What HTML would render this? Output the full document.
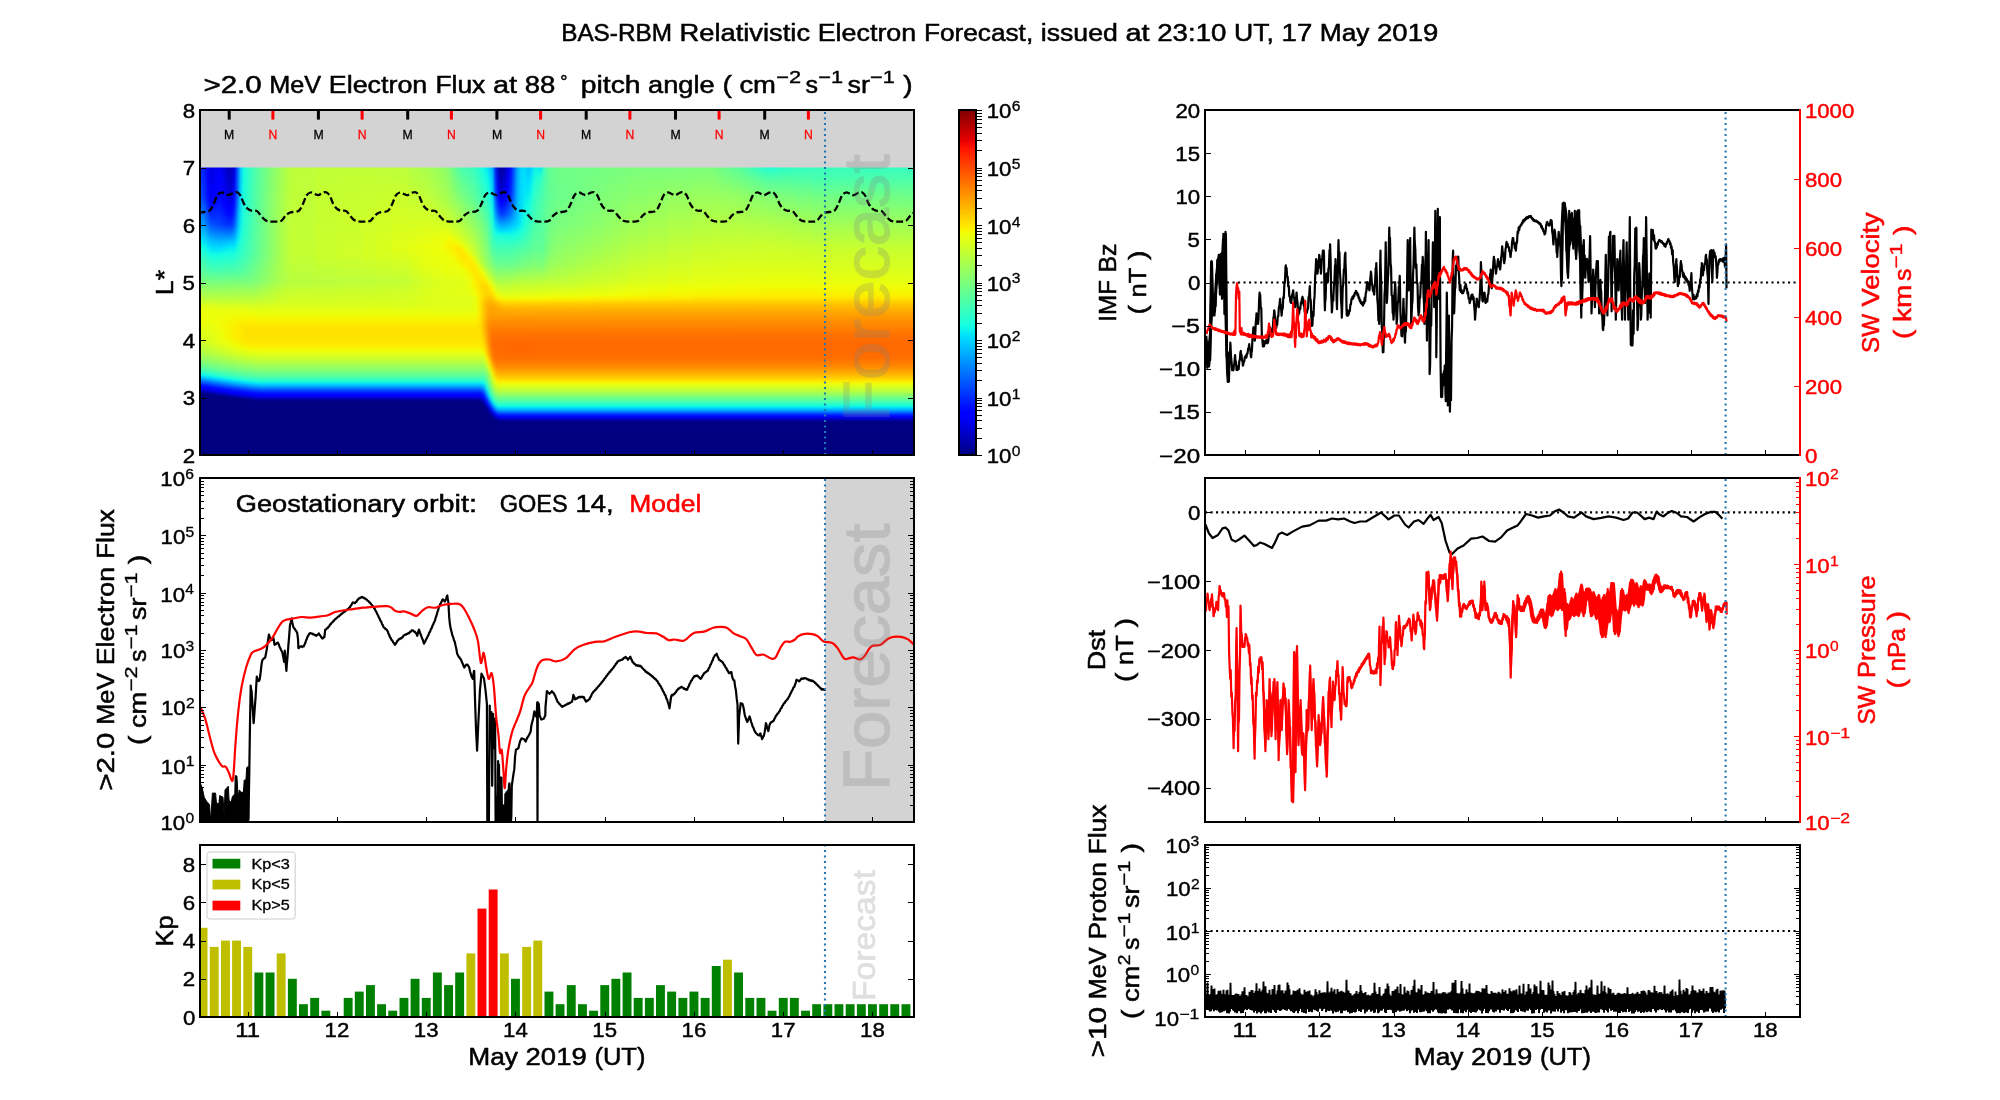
<!DOCTYPE html>
<html><head><meta charset="utf-8"><title>BAS-RBM Relativistic Electron Forecast</title>
<style>
html,body{margin:0;padding:0;background:#fff;overflow:hidden}
#fig{position:relative;width:2000px;height:1100px;background:#fff;overflow:hidden;font-family:"Liberation Sans",sans-serif}
#hm{position:absolute;left:200px;top:167px;width:714px;height:288px;overflow:hidden}
#hb{position:absolute;left:-8px;top:-8px;width:730px;height:304px;filter:blur(1.3px)}
#hb i{position:absolute;top:0;height:304px;display:block}
</style></head><body>
<div id="fig">
<div id="hm"><div id="hb"><i style="left:0px;width:11px;background:linear-gradient(#0028ff 9px,#0045ff 37.9px,#00a1ff 65.9px,#00d9ff 78.9px,#01e6f6 81.9px,#16ffe0 88.9px,#7cff7a 123.8px,#b3ff44 137.8px,#e7ff10 148.8px,#edff0a 152.7px,#effe07 159.7px,#edff0a 163.7px,#d8ff1e 180.7px,#b8ff3f 191.7px,#98ff5e 198.7px,#7eff79 203.7px,#6aff8c 206.7px,#4affad 210.6px,#36ffc1 212.6px,#1dffd9 214.6px,#10f9e7 215.6px,#02e7f6 216.6px,#00d3ff 217.6px,#00a9ff 219.6px,#0061ff 222.6px,#0035ff 224.6px,#000eff 226.6px,#0001ff 227.6px,#0000ff 228.6px,#0000f4 229.6px,#0000e1 230.6px,#00009c 232.6px,#00008c 233.6px,#000081 234.6px,#000080 295.5px)"></i>
<i style="left:11px;width:3px;background:linear-gradient(#001aff 9px,#0032ff 37.9px,#0094ff 65.9px,#00dafe 80.9px,#02e8f5 83.9px,#15ffe1 89.9px,#39ffbd 100.8px,#7cff7a 123.8px,#aeff48 136.8px,#e6ff11 148.8px,#ebff0c 151.8px,#efff08 159.7px,#eeff09 162.7px,#d8ff1f 181.7px,#b7ff40 192.7px,#96ff60 199.7px,#6eff89 206.7px,#45ffb2 211.6px,#17ffe0 215.6px,#09f0ee 216.6px,#00ddfd 217.6px,#009dff 220.6px,#006dff 222.6px,#002aff 225.6px,#0006ff 227.6px,#0000ff 228.6px,#0000fc 229.6px,#0000eb 230.6px,#0000d2 231.6px,#0000ab 232.6px,#000093 233.6px,#000086 234.6px,#000080 235.6px,#000080 295.5px)"></i>
<i style="left:14px;width:3px;background:linear-gradient(#0001fc 9px,#0005ff 23px,#000dff 37.9px,#004cff 55.9px,#0074ff 65.9px,#00d3ff 82.9px,#00ddfd 84.9px,#04e9f4 87.9px,#11fae6 91.9px,#18ffdf 93.9px,#55ffa2 112.8px,#7cff7a 123.8px,#b2ff45 137.8px,#e5ff12 148.8px,#eaff0d 151.8px,#eeff09 159.7px,#ecff0a 163.7px,#d9ff1d 181.7px,#bdff3a 191.7px,#a9ff4e 196.7px,#72ff85 206.7px,#4affad 211.6px,#36ffc1 213.6px,#1dffd9 215.6px,#10f9e7 216.6px,#02e7f6 217.6px,#00d3ff 218.6px,#00a8ff 220.6px,#0035ff 225.6px,#000eff 227.6px,#0001ff 228.6px,#0000ff 229.6px,#0000f4 230.6px,#0000e0 231.6px,#00009c 233.6px,#00008c 234.6px,#000081 235.6px,#000080 295.5px)"></i>
<i style="left:17px;width:3px;background:linear-gradient(#0000e2 9px,#0000f7 36px,#0000ff 39.9px,#0000ff 41.9px,#0005ff 44.9px,#0024ff 53.9px,#0057ff 65.9px,#00c4ff 82.9px,#00d7ff 86.9px,#00dcfe 87.9px,#03e9f4 90.9px,#11fbe5 94.8px,#18ffdf 96.8px,#4affad 111.8px,#7cff7a 123.8px,#baff3d 139.8px,#e4ff13 148.8px,#ebff0b 154.7px,#edff0a 162.7px,#daff1d 182.7px,#c3ff34 190.7px,#b4ff42 194.7px,#8dff6a 202.7px,#67ff90 208.7px,#45ffb2 212.6px,#17ffe0 216.6px,#08f0ee 217.6px,#00ddfd 218.6px,#00c8ff 219.6px,#002aff 226.6px,#0006ff 228.6px,#0000ff 229.6px,#0000fb 230.6px,#0000eb 231.6px,#0000d1 232.6px,#0000aa 233.6px,#000092 234.6px,#000085 235.6px,#000080 236.6px,#000080 295.5px)"></i>
<i style="left:20px;width:3px;background:linear-gradient(#0000e9 9px,#0000fb 32px,#0002ff 42.9px,#0027ff 54.9px,#004fff 65.9px,#00c0ff 82.9px,#00d9ff 87.9px,#01e7f6 90.9px,#10fae6 94.8px,#17ffe0 96.8px,#49ffae 111.8px,#7cff7a 123.8px,#beff39 140.8px,#e4ff13 148.8px,#ecff0b 154.7px,#efff08 162.7px,#deff19 182.7px,#c7ff30 190.7px,#b8ff3f 194.7px,#8aff6c 203.7px,#6bff8c 208.7px,#4affad 212.6px,#1dffda 216.6px,#0ff9e7 217.6px,#01e6f6 218.6px,#00d2ff 219.6px,#00a8ff 221.6px,#0034ff 226.6px,#000dff 228.6px,#0000ff 229.6px,#0000ff 230.6px,#0000f3 231.6px,#0000df 232.6px,#00009b 234.6px,#00008b 235.6px,#000081 236.6px,#000080 295.5px)"></i>
<i style="left:23px;width:3px;background:linear-gradient(#0000f3 9px,#0000fe 24px,#0000ff 38.9px,#002eff 56.9px,#0049ff 65.9px,#00bdff 82.9px,#00dcff 88.9px,#00e6f6 90.9px,#10fae6 94.8px,#17ffe0 96.8px,#49ffae 111.8px,#7cff7a 123.8px,#c2ff35 141.8px,#e7ff10 149.8px,#f0fd07 163.7px,#e8ff0f 176.7px,#e0ff17 183.7px,#d1ff26 188.7px,#b8ff3f 195.7px,#8eff69 203.7px,#6fff88 208.7px,#45ffb2 213.6px,#16ffe1 217.6px,#08efef 218.6px,#00dcfe 219.6px,#00c7ff 220.6px,#0029ff 227.6px,#0005ff 229.6px,#0000ff 230.6px,#0000fa 231.6px,#0000ea 232.6px,#0000cf 233.6px,#0000a8 234.6px,#000092 235.6px,#000085 236.6px,#000080 237.6px,#000080 295.5px)"></i>
<i style="left:26px;width:3px;background:linear-gradient(#0000fb 9px,#0000ff 15px,#0002ff 37px,#0043ff 65.9px,#00baff 82.9px,#00dbff 88.9px,#00e5f7 90.9px,#10fae6 94.8px,#17ffe0 96.8px,#49ffae 111.8px,#81ff76 124.8px,#bdff39 140.8px,#e6ff10 149.8px,#edff0a 155.7px,#f2fb05 164.7px,#eeff09 169.7px,#ebff0c 177.7px,#e4ff13 183.7px,#cbff2c 191.7px,#b7ff40 196.7px,#85ff71 205.7px,#6bff8c 209.7px,#4affad 213.6px,#35ffc2 215.6px,#1cffdb 217.6px,#0ef7e8 218.6px,#01e5f7 219.6px,#00d1ff 220.6px,#00a6ff 222.6px,#005eff 225.6px,#0032ff 227.6px,#000cff 229.6px,#0000ff 230.6px,#0000ff 231.6px,#0000f2 232.6px,#0000dd 233.6px,#0000b9 234.6px,#000099 235.6px,#00008a 236.6px,#000081 237.6px,#000080 295.5px)"></i>
<i style="left:29px;width:3px;background:linear-gradient(#0000ec 9px,#0000fb 26px,#0001ff 40.9px,#001bff 52.9px,#003aff 64.9px,#0043ff 66.9px,#00b4ff 81.9px,#00d9ff 87.9px,#03e9f4 90.9px,#16ffe1 95.8px,#4affac 111.8px,#8dff6a 127.8px,#c1ff35 141.8px,#e3ff14 148.8px,#e7ff0f 150.8px,#edff0a 155.7px,#f4f903 165.7px,#effe08 176.7px,#e6ff11 184.7px,#bfff38 195.7px,#a0ff57 201.7px,#6fff88 209.7px,#44ffb2 214.6px,#15fee2 218.6px,#06edf0 219.6px,#00daff 220.6px,#0099ff 223.6px,#0069ff 225.6px,#0027ff 228.6px,#0013ff 229.6px,#0004ff 230.6px,#0000ff 231.6px,#0000f9 232.6px,#0000e8 233.6px,#0000cb 234.6px,#0000a5 235.6px,#000090 236.6px,#000084 237.6px,#000080 238.6px,#000080 295.5px)"></i>
<i style="left:32px;width:3px;background:linear-gradient(#0000d6 9px,#0000f2 37px,#0000fd 41.9px,#0000ff 45.9px,#0002ff 47.9px,#0010ff 53.9px,#0037ff 65.9px,#00beff 82.9px,#00d8ff 86.9px,#00e4f8 88.9px,#11fbe6 93.9px,#18ffdf 95.8px,#4cffab 111.8px,#91ff66 128.8px,#c1ff36 141.8px,#e6ff11 149.8px,#efff08 156.7px,#f6f701 166.7px,#f2fb05 177.7px,#ebff0c 183.7px,#e4ff13 186.7px,#bdff39 196.7px,#8cff6b 205.7px,#6bff8c 210.6px,#49ffae 214.6px,#34ffc3 216.6px,#1bffdc 218.6px,#0df5ea 219.6px,#00e3f9 220.6px,#00ceff 221.6px,#00a3ff 223.6px,#005cff 226.6px,#0030ff 228.6px,#000aff 230.6px,#0000ff 231.6px,#0000fe 232.6px,#0000f0 233.6px,#0000da 234.6px,#0000b5 235.6px,#000097 236.6px,#000089 237.6px,#000080 238.6px,#000080 295.5px)"></i>
<i style="left:35px;width:3px;background:linear-gradient(#0000bf 9px,#0000de 37px,#0000fe 47.9px,#0000ff 51.9px,#0006ff 54.9px,#0031ff 65.9px,#00c8ff 83.9px,#00dcfe 86.9px,#03eaf3 88.9px,#14fee3 93.9px,#17ffe0 94.8px,#38ffbf 105.8px,#4dffa9 111.8px,#89ff6d 126.8px,#c1ff36 141.8px,#e6ff11 149.8px,#eeff09 155.7px,#f7f600 163.7px,#f8f400 166.7px,#f4f802 178.7px,#edff0a 184.7px,#d6ff21 191.7px,#c1ff36 196.7px,#9aff5c 203.7px,#6eff89 210.6px,#5fff98 212.6px,#43ffb4 215.6px,#20ffd6 218.6px,#13fde4 219.6px,#04ebf2 220.6px,#00d7ff 221.6px,#00adff 223.6px,#0039ff 228.6px,#0011ff 230.6px,#0002ff 231.6px,#0000ff 232.6px,#0000f7 233.6px,#0000e5 234.6px,#0000c6 235.6px,#0000a1 236.6px,#00008e 237.6px,#000083 238.6px,#000080 239.6px,#000080 295.5px)"></i>
<i style="left:38px;width:3px;background:linear-gradient(#0000b9 9px,#0000db 37px,#0000f5 44.9px,#0000fb 47.9px,#0001ff 50.9px,#0007ff 54.9px,#0036ff 65.9px,#00c5ff 82.9px,#00d9ff 85.9px,#01e6f6 87.9px,#06edf1 88.9px,#16ffe1 93.9px,#38ffbf 105.8px,#4dffa9 111.8px,#8eff69 127.8px,#c5ff32 142.8px,#e5ff11 149.8px,#eeff08 155.7px,#f7f500 162.7px,#faf200 166.7px,#f8f400 178.7px,#f2fb05 183.7px,#e8ff0e 187.7px,#c8ff2e 195.7px,#b5ff42 199.7px,#71ff85 210.6px,#47ffaf 215.6px,#19ffde 219.6px,#0bf3ec 220.6px,#00e0fb 221.6px,#00cbff 222.6px,#00a0ff 224.6px,#0058ff 227.6px,#002cff 229.6px,#0008ff 231.6px,#0000ff 232.6px,#0000fd 233.6px,#0000ed 234.6px,#0000d5 235.6px,#0000af 236.6px,#000094 237.6px,#000087 238.6px,#000080 239.6px,#000080 295.5px)"></i>
<i style="left:41px;width:3px;background:linear-gradient(#0000e4 9px,#000bfe 39.9px,#0014ff 45.9px,#002bff 53.9px,#005cff 65.9px,#00d6fe 83.9px,#00dffc 85.9px,#02e8f5 87.9px,#17ffe0 93.9px,#4fffa8 112.8px,#8eff69 127.8px,#c5ff32 142.8px,#e1ff15 148.8px,#efff08 155.7px,#f7f500 161.7px,#fdef00 167.7px,#fbf000 177.7px,#f3f903 184.7px,#ecff0b 187.7px,#cbff2b 195.7px,#b8ff3f 199.7px,#74ff82 210.6px,#4bffab 215.6px,#1effd9 219.6px,#10fae6 220.6px,#02e8f5 221.6px,#00d4ff 222.6px,#00a9ff 224.6px,#0035ff 229.6px,#000eff 231.6px,#0001ff 232.6px,#0000ff 233.6px,#0000f4 234.6px,#0000e1 235.6px,#00009c 237.6px,#00008c 238.6px,#000081 239.6px,#000080 295.5px)"></i>
<i style="left:44px;width:3px;background:linear-gradient(#0055ff 9px,#006aff 37.9px,#00aeff 65.9px,#00c8ff 72.9px,#04e6f6 80.9px,#0ff8e8 85.9px,#1affdd 89.9px,#54ffa3 112.8px,#75ff82 121.8px,#8fff68 127.8px,#c1ff35 141.8px,#e5ff12 149.8px,#eeff09 154.7px,#f5f701 159.7px,#ffec00 166.7px,#feed00 178.7px,#f7f600 184.7px,#ecff0b 188.7px,#cfff28 195.7px,#a9ff4e 202.7px,#85ff72 208.7px,#69ff8e 212.6px,#3bffbc 217.6px,#16ffe1 220.6px,#08efef 221.6px,#00dcfe 222.6px,#009bff 225.6px,#0054ff 228.6px,#0028ff 230.6px,#0005ff 232.6px,#0000ff 233.6px,#0000fa 234.6px,#0000e9 235.6px,#0000ce 236.6px,#0000a7 237.6px,#000091 238.6px,#000084 239.6px,#000080 240.6px,#000080 295.5px)"></i>
<i style="left:47px;width:3px;background:linear-gradient(#02c7fa 9px,#04d3f8 37px,#0aedf0 65.9px,#0ef3e9 70.9px,#1cfedb 80.9px,#2cffca 92.9px,#55ffa2 112.8px,#75ff82 121.8px,#93ff64 128.8px,#c1ff35 141.8px,#e5ff12 149.8px,#eeff09 154.7px,#f6f600 159.7px,#feed00 164.7px,#ffe900 167.7px,#ffeb00 180.7px,#f8f400 185.7px,#f3fa04 187.7px,#ebff0b 189.7px,#cdff2a 196.7px,#bdff39 199.7px,#9aff5d 205.7px,#6cff8b 212.6px,#3fffb8 217.6px,#1bffdc 220.6px,#0df6ea 221.6px,#00e3f9 222.6px,#00cfff 223.6px,#00a4ff 225.6px,#005cff 228.6px,#0030ff 230.6px,#000aff 232.6px,#0000ff 233.6px,#0000ff 234.6px,#0000f0 235.6px,#0000db 236.6px,#0000b5 237.6px,#000097 238.6px,#000089 239.6px,#000080 240.6px,#000080 295.5px)"></i>
<i style="left:50px;width:3px;background:linear-gradient(#12fbe4 9px,#19ffde 35px,#21ffd6 64.9px,#37ffc0 94.8px,#56ffa1 111.8px,#5cff9b 113.8px,#79ff7e 122.8px,#8fff67 127.8px,#c5ff31 142.8px,#e5ff12 149.8px,#eeff08 154.7px,#f7f500 159.7px,#feed00 163.7px,#ffe500 169.7px,#ffe600 179.7px,#ffea00 182.7px,#f7f600 187.7px,#effe08 189.7px,#eaff0c 190.7px,#c5ff31 198.7px,#8aff6d 208.7px,#5fff98 214.6px,#43ffb4 217.6px,#20ffd7 220.6px,#12fce5 221.6px,#04eaf3 222.6px,#00d6ff 223.6px,#00acff 225.6px,#0038ff 230.6px,#0010ff 232.6px,#0001ff 233.6px,#0000ff 234.6px,#0000f6 235.6px,#0000e4 236.6px,#0000c4 237.6px,#00009f 238.6px,#00008d 239.6px,#000082 240.6px,#000080 295.5px)"></i>
<i style="left:53px;width:3px;background:linear-gradient(#22ffd5 9px,#2fffc8 65.9px,#40ffb7 94.8px,#5dff9a 111.8px,#79ff7d 122.8px,#90ff67 127.8px,#c5ff31 142.8px,#e0ff16 148.8px,#e7ff10 150.8px,#efff08 154.7px,#f6f600 158.7px,#ffec00 163.7px,#ffe300 168.7px,#ffe300 179.7px,#ffeb00 184.7px,#f6f601 188.7px,#edff09 190.7px,#cdff2a 197.7px,#abff4c 203.7px,#7fff78 210.6px,#61ff95 214.6px,#3cffbb 218.6px,#17ffe0 221.6px,#09f0ee 222.6px,#00ddfd 223.6px,#00c9ff 224.6px,#002aff 231.6px,#0006ff 233.6px,#0000ff 234.6px,#0000fb 235.6px,#0000eb 236.6px,#0000d1 237.6px,#0000aa 238.6px,#000092 239.6px,#000085 240.6px,#000080 241.6px,#000080 295.5px)"></i>
<i style="left:56px;width:3px;background:linear-gradient(#32ffc5 9px,#3cffba 65.9px,#49ffae 94.8px,#64ff93 111.8px,#7dff7a 123.8px,#94ff63 128.8px,#c9ff2e 143.8px,#e4ff13 149.8px,#eeff09 154.7px,#f6f701 158.7px,#ffec00 163.7px,#ffe300 168.7px,#ffe300 179.7px,#ffea00 184.7px,#f7f500 188.7px,#efff08 190.7px,#c4ff32 199.7px,#88ff6f 209.7px,#6cff8b 213.6px,#53ffa4 216.6px,#3fffb7 218.6px,#1bffdb 221.6px,#0ef6e9 222.6px,#00e4f8 223.6px,#00cfff 224.6px,#00a4ff 226.6px,#005dff 229.6px,#0031ff 231.6px,#000bff 233.6px,#0000ff 234.6px,#0000ff 235.6px,#0000f1 236.6px,#0000db 237.6px,#0000b6 238.6px,#000097 239.6px,#000089 240.6px,#000080 241.6px,#000080 295.5px)"></i>
<i style="left:59px;width:3px;background:linear-gradient(#41ffb5 9px,#4affad 66.9px,#52ffa5 94.8px,#7dff7a 123.8px,#94ff63 128.8px,#c5ff32 142.8px,#e3ff14 149.8px,#edff09 154.7px,#f3fa03 157.7px,#f7f500 159.7px,#feed00 163.7px,#ffe300 169.7px,#ffe300 180.7px,#ffec00 185.7px,#f5f802 189.7px,#ecff0b 191.7px,#deff18 194.7px,#bbff3c 201.7px,#83ff74 210.6px,#56ffa1 216.6px,#43ffb4 218.6px,#1fffd7 221.6px,#12fce5 222.6px,#03e9f4 223.6px,#00d6ff 224.6px,#00abff 226.6px,#0037ff 231.6px,#0010ff 233.6px,#0001ff 234.6px,#0000ff 235.6px,#0000f6 236.6px,#0000e3 237.6px,#00009e 239.6px,#00008d 240.6px,#000082 241.6px,#000080 295.5px)"></i>
<i style="left:62px;width:3px;background:linear-gradient(#4dffaa 9px,#5bff9b 94.8px,#82ff75 123.8px,#94ff62 127.8px,#caff2d 143.8px,#e2ff14 149.8px,#efff08 155.7px,#f7f600 159.7px,#ffeb00 164.7px,#ffe300 169.7px,#ffe300 180.7px,#ffeb00 185.7px,#f6f701 189.7px,#edff0a 191.7px,#dbff1c 195.7px,#b7ff40 202.7px,#85ff72 210.6px,#69ff8e 214.6px,#4fffa8 217.6px,#2fffc7 220.6px,#16ffe1 222.6px,#07efef 223.6px,#00dbff 224.6px,#009bff 227.6px,#006aff 229.6px,#0028ff 232.6px,#0005ff 234.6px,#0000ff 235.6px,#0000fa 236.6px,#0000e9 237.6px,#0000cd 238.6px,#0000a7 239.6px,#000091 240.6px,#000084 241.6px,#000080 242.6px,#000080 295.5px)"></i>
<i style="left:65px;width:3px;background:linear-gradient(#58ff9f 9px,#65ff92 94.8px,#87ff70 123.8px,#9cff5b 128.8px,#c4ff32 141.8px,#e2ff15 149.8px,#eeff08 155.7px,#f6f601 159.7px,#ffec00 164.7px,#ffe300 169.7px,#ffe300 180.7px,#ffeb00 185.7px,#f7f600 189.7px,#eeff09 191.7px,#d3ff24 197.7px,#b8ff3f 202.7px,#80ff77 211.6px,#6bff8c 214.6px,#48ffaf 218.6px,#19ffde 222.6px,#0bf3ec 223.6px,#00e0fb 224.6px,#00cbff 225.6px,#002dff 232.6px,#0008ff 234.6px,#0000ff 235.6px,#0000fd 236.6px,#0000ed 237.6px,#0000d5 238.6px,#0000af 239.6px,#000095 240.6px,#000087 241.6px,#000080 242.6px,#000080 295.5px)"></i>
<i style="left:68px;width:3px;background:linear-gradient(#63ff94 9px,#6eff89 94.8px,#8cff6a 123.8px,#9dff5a 127.8px,#c9ff2e 142.8px,#e2ff15 149.8px,#eeff09 155.7px,#f6f701 159.7px,#ffec00 164.7px,#ffe300 169.7px,#ffe300 180.7px,#ffed00 186.7px,#f7f500 189.7px,#efff08 191.7px,#cfff28 198.7px,#a7ff50 205.7px,#7aff7c 212.6px,#64ff93 215.6px,#3fffb7 219.6px,#1bffdc 222.6px,#0df6e9 223.6px,#00e3f8 224.6px,#00cfff 225.6px,#00a4ff 227.6px,#0030ff 232.6px,#000bff 234.6px,#0000ff 235.6px,#0000ff 236.6px,#0000f0 237.6px,#0000db 238.6px,#0000b5 239.6px,#000097 240.6px,#000089 241.6px,#000080 242.6px,#000080 295.5px)"></i>
<i style="left:71px;width:3px;background:linear-gradient(#6eff89 9px,#76ff81 66.9px,#77ff80 94.8px,#92ff65 123.8px,#a5ff52 128.8px,#cdff2a 143.8px,#e2ff15 149.8px,#eeff09 155.7px,#f6f701 159.7px,#ffec00 164.7px,#ffe300 169.7px,#ffe300 180.7px,#ffed00 186.7px,#f7f500 189.7px,#efff08 191.7px,#d8ff1e 196.7px,#bfff38 201.7px,#81ff75 211.6px,#6cff8b 214.6px,#4affad 218.6px,#1bffdb 222.6px,#0ef6e9 223.6px,#00e4f8 224.6px,#00cfff 225.6px,#00a4ff 227.6px,#005dff 230.6px,#001cff 233.6px,#000bff 234.6px,#0000ff 235.6px,#0000ff 236.6px,#0000f1 237.6px,#0000dc 238.6px,#0000b6 239.6px,#000098 240.6px,#000089 241.6px,#000080 242.6px,#000080 295.5px)"></i>
<i style="left:74px;width:3px;background:linear-gradient(#78ff7f 9px,#7fff77 61.9px,#80ff77 94.8px,#82ff74 97.8px,#97ff60 123.8px,#acff4b 129.8px,#d1ff26 144.8px,#e2ff15 149.8px,#eeff09 155.7px,#f6f701 159.7px,#ffec00 164.7px,#ffe300 169.7px,#ffe300 180.7px,#ffed00 186.7px,#f7f500 189.7px,#efff08 191.7px,#d8ff1e 196.7px,#bfff38 201.7px,#81ff75 211.6px,#6cff8b 214.6px,#4affad 218.6px,#1bffdb 222.6px,#0ef6e9 223.6px,#00e4f8 224.6px,#00cfff 225.6px,#00a4ff 227.6px,#005dff 230.6px,#001cff 233.6px,#000bff 234.6px,#0000ff 235.6px,#0000ff 236.6px,#0000f1 237.6px,#0000dc 238.6px,#0000b6 239.6px,#000098 240.6px,#000089 241.6px,#000080 242.6px,#000080 295.5px)"></i>
<i style="left:77px;width:3px;background:linear-gradient(#81ff76 9px,#89ff6e 61.9px,#89ff6e 94.8px,#99ff5d 119.8px,#9cff5b 123.8px,#b0ff47 129.8px,#cdff2a 142.8px,#e2ff15 149.8px,#eeff09 155.7px,#f6f701 159.7px,#ffec00 164.7px,#ffe300 169.7px,#ffe300 180.7px,#ffed00 186.7px,#f7f500 189.7px,#efff08 191.7px,#d8ff1e 196.7px,#bfff38 201.7px,#81ff75 211.6px,#6cff8b 214.6px,#4affad 218.6px,#1bffdb 222.6px,#0ef6e9 223.6px,#00e4f8 224.6px,#00cfff 225.6px,#00a4ff 227.6px,#005dff 230.6px,#001cff 233.6px,#000bff 234.6px,#0000ff 235.6px,#0000ff 236.6px,#0000f1 237.6px,#0000dc 238.6px,#0000b6 239.6px,#000098 240.6px,#000089 241.6px,#000080 242.6px,#000080 295.5px)"></i>
<i style="left:80px;width:3px;background:linear-gradient(#8aff6c 9px,#92ff64 65.9px,#93ff64 95.8px,#a0ff57 121.8px,#a1ff55 123.8px,#b1ff46 128.8px,#d0ff26 143.8px,#e2ff15 149.8px,#eeff09 155.7px,#f6f701 159.7px,#ffec00 164.7px,#ffe300 169.7px,#ffe300 180.7px,#ffed00 186.7px,#f7f500 189.7px,#efff08 191.7px,#d8ff1e 196.7px,#bfff38 201.7px,#81ff75 211.6px,#6cff8b 214.6px,#4affad 218.6px,#1bffdb 222.6px,#0ef6e9 223.6px,#00e4f8 224.6px,#00cfff 225.6px,#00a4ff 227.6px,#005dff 230.6px,#001cff 233.6px,#000bff 234.6px,#0000ff 235.6px,#0000ff 236.6px,#0000f1 237.6px,#0000dc 238.6px,#0000b6 239.6px,#000098 240.6px,#000089 241.6px,#000080 242.6px,#000080 295.5px)"></i>
<i style="left:83px;width:3px;background:linear-gradient(#94ff63 9px,#9bff5b 63.9px,#9cff5b 95.8px,#a6ff50 123.8px,#b8ff3f 129.8px,#d4ff23 144.8px,#e2ff15 149.8px,#eeff09 155.7px,#f6f701 159.7px,#ffec00 164.7px,#ffe300 169.7px,#ffe300 180.7px,#ffed00 186.7px,#f7f500 189.7px,#efff08 191.7px,#d8ff1e 196.7px,#bfff38 201.7px,#81ff75 211.6px,#6cff8b 214.6px,#4affad 218.6px,#1bffdb 222.6px,#0ef6e9 223.6px,#00e4f8 224.6px,#00cfff 225.6px,#00a4ff 227.6px,#005dff 230.6px,#001cff 233.6px,#000bff 234.6px,#0000ff 235.6px,#0000ff 236.6px,#0000f1 237.6px,#0000dc 238.6px,#0000b6 239.6px,#000098 240.6px,#000089 241.6px,#000080 242.6px,#000080 295.5px)"></i>
<i style="left:86px;width:3px;background:linear-gradient(#9cff5a 9px,#a4ff52 64.9px,#a5ff52 94.8px,#aaff4d 122.8px,#bdff3a 130.8px,#d7ff20 145.8px,#eeff09 155.7px,#f6f701 159.7px,#ffec00 164.7px,#ffe300 169.7px,#ffe300 180.7px,#ffed00 186.7px,#f7f500 189.7px,#efff08 191.7px,#d8ff1e 196.7px,#bfff38 201.7px,#81ff75 211.6px,#6cff8b 214.6px,#4affad 218.6px,#1bffdb 222.6px,#0ef6e9 223.6px,#00e4f8 224.6px,#00cfff 225.6px,#00a4ff 227.6px,#005dff 230.6px,#001cff 233.6px,#000bff 234.6px,#0000ff 235.6px,#0000ff 236.6px,#0000f1 237.6px,#0000dc 238.6px,#0000b6 239.6px,#000098 240.6px,#000089 241.6px,#000080 242.6px,#000080 295.5px)"></i>
<i style="left:89px;width:3px;background:linear-gradient(#a5ff52 9px,#adff4a 64.9px,#aeff49 123.8px,#bcff3b 128.8px,#d5ff22 144.8px,#eeff09 155.7px,#f6f701 159.7px,#ffec00 164.7px,#ffe300 169.7px,#ffe300 180.7px,#ffed00 186.7px,#f7f500 189.7px,#efff08 191.7px,#d8ff1e 196.7px,#bfff38 201.7px,#81ff75 211.6px,#6cff8b 214.6px,#4affad 218.6px,#1bffdb 222.6px,#0ef6e9 223.6px,#00e4f8 224.6px,#00cfff 225.6px,#00a4ff 227.6px,#005dff 230.6px,#001cff 233.6px,#000bff 234.6px,#0000ff 235.6px,#0000ff 236.6px,#0000f1 237.6px,#0000dc 238.6px,#0000b6 239.6px,#000098 240.6px,#000089 241.6px,#000080 242.6px,#000080 295.5px)"></i>
<i style="left:92px;width:3px;background:linear-gradient(#adff4a 9px,#b5ff42 64.9px,#b2ff45 123.8px,#beff38 128.8px,#d6ff21 144.8px,#eeff09 155.7px,#f6f701 159.7px,#ffec00 164.7px,#ffe300 169.7px,#ffe300 180.7px,#ffed00 186.7px,#f7f500 189.7px,#f3fa03 190.7px,#efff08 191.7px,#caff2d 199.7px,#9aff5c 207.7px,#7bff7c 212.6px,#5cff9b 216.6px,#3fffb7 219.6px,#1bffdb 222.6px,#0ef6e9 223.6px,#00e4f8 224.6px,#00cfff 225.6px,#00a4ff 227.6px,#005dff 230.6px,#001cff 233.6px,#000bff 234.6px,#0000ff 235.6px,#0000ff 236.6px,#0000f1 237.6px,#0000dc 238.6px,#0000b6 239.6px,#000098 240.6px,#000089 241.6px,#000080 242.6px,#000080 295.5px)"></i>
<i style="left:95px;width:3px;background:linear-gradient(#b5ff42 9px,#bdff3a 65.9px,#bdff3a 94.8px,#b5ff42 123.8px,#bfff37 127.8px,#d8ff1f 145.8px,#eeff09 155.7px,#f6f701 159.7px,#ffec00 164.7px,#ffe300 169.7px,#ffe300 180.7px,#ffed00 186.7px,#f7f500 189.7px,#f3fa03 190.7px,#efff08 191.7px,#caff2d 199.7px,#9aff5c 207.7px,#7bff7c 212.6px,#5cff9b 216.6px,#3fffb7 219.6px,#1bffdb 222.6px,#0ef6e9 223.6px,#00e4f8 224.6px,#00cfff 225.6px,#00a4ff 227.6px,#005dff 230.6px,#001cff 233.6px,#000bff 234.6px,#0000ff 235.6px,#0000ff 236.6px,#0000f1 237.6px,#0000dc 238.6px,#0000b6 239.6px,#000098 240.6px,#000089 241.6px,#000080 242.6px,#000080 295.5px)"></i>
<i style="left:98px;width:24px;background:linear-gradient(#bcff3a 9px,#c4ff32 94.8px,#b8ff3f 123.8px,#c3ff34 128.8px,#d9ff1e 145.8px,#eeff09 155.7px,#f6f701 159.7px,#ffec00 164.7px,#ffe300 169.7px,#ffe300 180.7px,#ffed00 186.7px,#f7f500 189.7px,#f3fa03 190.7px,#efff08 191.7px,#caff2d 199.7px,#9aff5c 207.7px,#7bff7c 212.6px,#5cff9b 216.6px,#3fffb7 219.6px,#1bffdb 222.6px,#0ef6e9 223.6px,#00e4f8 224.6px,#00cfff 225.6px,#00a4ff 227.6px,#005dff 230.6px,#001cff 233.6px,#000bff 234.6px,#0000ff 235.6px,#0000ff 236.6px,#0000f1 237.6px,#0000dc 238.6px,#0000b6 239.6px,#000098 240.6px,#000089 241.6px,#000080 242.6px,#000080 295.5px)"></i>
<i style="left:122px;width:24px;background:linear-gradient(#c1ff35 9px,#caff2c 94.8px,#baff3d 123.8px,#c6ff30 129.8px,#d7ff20 144.8px,#eeff09 155.7px,#f8f500 160.7px,#ffec00 164.7px,#ffe300 169.7px,#ffe300 180.7px,#ffed00 186.7px,#f7f500 189.7px,#f3fa03 190.7px,#efff08 191.7px,#caff2d 199.7px,#9aff5c 207.7px,#7bff7c 212.6px,#5cff9b 216.6px,#3fffb7 219.6px,#1bffdb 222.6px,#0ef6e9 223.6px,#00e4f8 224.6px,#00cfff 225.6px,#00a4ff 227.6px,#005dff 230.6px,#001cff 233.6px,#000bff 234.6px,#0000ff 235.6px,#0000ff 236.6px,#0000f1 237.6px,#0000dc 238.6px,#0000b6 239.6px,#000098 240.6px,#000089 241.6px,#000080 242.6px,#000080 295.5px)"></i>
<i style="left:146px;width:24px;background:linear-gradient(#c1ff35 9px,#cfff28 94.8px,#bcff3b 123.8px,#c8ff2f 129.8px,#d9ff1e 145.8px,#eeff09 155.7px,#f8f500 160.7px,#ffec00 164.7px,#ffe300 169.7px,#ffe300 180.7px,#ffed00 186.7px,#f7f500 189.7px,#f3fa03 190.7px,#efff08 191.7px,#caff2d 199.7px,#9aff5c 207.7px,#7bff7c 212.6px,#5cff9b 216.6px,#3fffb7 219.6px,#1bffdb 222.6px,#0ef6e9 223.6px,#00e4f8 224.6px,#00cfff 225.6px,#00a4ff 227.6px,#005dff 230.6px,#001cff 233.6px,#000bff 234.6px,#0000ff 235.6px,#0000ff 236.6px,#0000f1 237.6px,#0000dc 238.6px,#0000b6 239.6px,#000098 240.6px,#000089 241.6px,#000080 242.6px,#000080 295.5px)"></i>
<i style="left:170px;width:15px;background:linear-gradient(#c1ff36 9px,#d4ff23 88.9px,#d4ff23 94.8px,#beff39 123.8px,#c8ff2e 128.8px,#d9ff1d 145.8px,#eeff09 155.7px,#f8f500 160.7px,#ffec00 164.7px,#ffe300 169.7px,#ffe300 180.7px,#ffed00 186.7px,#f7f500 189.7px,#f3fa03 190.7px,#efff08 191.7px,#caff2d 199.7px,#9aff5c 207.7px,#7bff7c 212.6px,#5cff9b 216.6px,#3fffb7 219.6px,#1bffdb 222.6px,#0ef6e9 223.6px,#00e4f8 224.6px,#00cfff 225.6px,#00a4ff 227.6px,#005dff 230.6px,#001cff 233.6px,#000bff 234.6px,#0000ff 235.6px,#0000ff 236.6px,#0000f1 237.6px,#0000dc 238.6px,#0000b6 239.6px,#000098 240.6px,#000089 241.6px,#000080 242.6px,#000080 295.5px)"></i>
<i style="left:185px;width:15px;background:linear-gradient(#bfff38 9px,#daff1c 88.9px,#d8ff1f 94.8px,#c0ff37 123.8px,#caff2d 128.8px,#d8ff1e 144.8px,#eeff09 155.7px,#f8f500 160.7px,#ffec00 164.7px,#ffe300 169.7px,#ffe300 180.7px,#ffed00 186.7px,#f7f500 189.7px,#f3fa03 190.7px,#efff08 191.7px,#caff2d 199.7px,#9aff5c 207.7px,#7bff7c 212.6px,#5cff9b 216.6px,#3fffb7 219.6px,#1bffdb 222.6px,#0ef6e9 223.6px,#00e4f8 224.6px,#00cfff 225.6px,#00a4ff 227.6px,#005dff 230.6px,#001cff 233.6px,#000bff 234.6px,#0000ff 235.6px,#0000ff 236.6px,#0000f1 237.6px,#0000dc 238.6px,#0000b6 239.6px,#000098 240.6px,#000089 241.6px,#000080 242.6px,#000080 295.5px)"></i>
<i style="left:200px;width:15px;background:linear-gradient(#bdff3a 9px,#e1ff16 88.9px,#c1ff35 123.8px,#ccff2a 129.8px,#dbff1b 146.8px,#eeff09 155.7px,#f8f500 160.7px,#ffec00 164.7px,#ffe300 169.7px,#ffe300 180.7px,#ffed00 186.7px,#f7f500 189.7px,#f3fa03 190.7px,#efff08 191.7px,#caff2d 199.7px,#9aff5c 207.7px,#7bff7c 212.6px,#5cff9b 216.6px,#3fffb7 219.6px,#1bffdb 222.6px,#0ef6e9 223.6px,#00e4f8 224.6px,#00cfff 225.6px,#00a4ff 227.6px,#005dff 230.6px,#001cff 233.6px,#000bff 234.6px,#0000ff 235.6px,#0000ff 236.6px,#0000f1 237.6px,#0000dc 238.6px,#0000b6 239.6px,#000098 240.6px,#000089 241.6px,#000080 242.6px,#000080 295.5px)"></i>
<i style="left:215px;width:6px;background:linear-gradient(#b6ff40 9px,#e4ff12 88.9px,#c7ff30 123.8px,#d0ff26 129.8px,#dcff1b 146.8px,#eeff09 155.7px,#f8f500 160.7px,#ffec00 164.7px,#ffe300 169.7px,#ffe300 180.7px,#ffed00 186.7px,#f7f500 189.7px,#f3fa03 190.7px,#efff08 191.7px,#caff2d 199.7px,#9aff5c 207.7px,#7bff7c 212.6px,#5cff9b 216.6px,#3fffb7 219.6px,#1bffdb 222.6px,#0ef6e9 223.6px,#00e4f8 224.6px,#00cfff 225.6px,#00a4ff 227.6px,#005dff 230.6px,#001cff 233.6px,#000bff 234.6px,#0000ff 235.6px,#0000ff 236.6px,#0000f1 237.6px,#0000dc 238.6px,#0000b6 239.6px,#000098 240.6px,#000089 241.6px,#000080 242.6px,#000080 295.5px)"></i>
<i style="left:221px;width:6px;background:linear-gradient(#b1ff46 9px,#e6ff11 88.9px,#daff1c 107.8px,#ccff2b 123.8px,#d3ff24 128.8px,#dbff1c 145.8px,#eeff09 155.7px,#f6f701 159.7px,#ffec00 164.7px,#ffe300 169.7px,#ffe300 180.7px,#ffed00 186.7px,#f7f500 189.7px,#f3fa03 190.7px,#efff08 191.7px,#caff2d 199.7px,#9aff5c 207.7px,#7bff7c 212.6px,#5cff9b 216.6px,#3fffb7 219.6px,#1bffdb 222.6px,#0ef6e9 223.6px,#00e4f8 224.6px,#00cfff 225.6px,#00a4ff 227.6px,#005dff 230.6px,#001cff 233.6px,#000bff 234.6px,#0000ff 235.6px,#0000ff 236.6px,#0000f1 237.6px,#0000dc 238.6px,#0000b6 239.6px,#000098 240.6px,#000089 241.6px,#000080 242.6px,#000080 295.5px)"></i>
<i style="left:227px;width:6px;background:linear-gradient(#acff4b 9px,#d9ff1e 65.9px,#e8ff0f 88.9px,#e0ff16 105.8px,#d0ff27 123.8px,#d7ff20 129.8px,#dcff1b 145.8px,#eeff09 155.7px,#f6f701 159.7px,#ffec00 164.7px,#ffe300 169.7px,#ffe300 180.7px,#ffed00 186.7px,#f7f500 189.7px,#f3fa03 190.7px,#efff08 191.7px,#caff2d 199.7px,#9aff5c 207.7px,#7bff7c 212.6px,#5cff9b 216.6px,#3fffb7 219.6px,#1bffdb 222.6px,#0ef6e9 223.6px,#00e4f8 224.6px,#00cfff 225.6px,#00a4ff 227.6px,#005dff 230.6px,#001cff 233.6px,#000bff 234.6px,#0000ff 235.6px,#0000ff 236.6px,#0000f1 237.6px,#0000dc 238.6px,#0000b6 239.6px,#000098 240.6px,#000089 241.6px,#000080 242.6px,#000080 295.5px)"></i>
<i style="left:233px;width:6px;background:linear-gradient(#a6ff50 9px,#beff39 37px,#ddff1a 69.9px,#eaff0d 88.9px,#e5ff12 105.8px,#d4ff22 123.8px,#daff1c 128.8px,#ddff19 146.8px,#eeff09 155.7px,#f6f701 159.7px,#ffec00 164.7px,#ffe300 169.7px,#ffe300 180.7px,#ffed00 186.7px,#f7f500 189.7px,#efff08 191.7px,#d8ff1e 196.7px,#bfff38 201.7px,#81ff75 211.6px,#6cff8b 214.6px,#4affad 218.6px,#1bffdb 222.6px,#0ef6e9 223.6px,#00e4f8 224.6px,#00cfff 225.6px,#00a4ff 227.6px,#005dff 230.6px,#001cff 233.6px,#000bff 234.6px,#0000ff 235.6px,#0000ff 236.6px,#0000f1 237.6px,#0000dc 238.6px,#0000b6 239.6px,#000098 240.6px,#000089 241.6px,#000080 242.6px,#000080 295.5px)"></i>
<i style="left:239px;width:3px;background:linear-gradient(#a1ff56 9px,#b9ff3e 37px,#e2ff15 73.9px,#ebff0c 88.9px,#e7ff10 106.8px,#d7ff20 123.8px,#ddff1a 130.8px,#ddff1a 145.8px,#e0ff17 148.8px,#eeff09 155.7px,#f6f701 159.7px,#ffec00 164.7px,#ffe300 169.7px,#ffe300 180.7px,#ffed00 186.7px,#f7f500 189.7px,#efff08 191.7px,#d8ff1e 196.7px,#bfff38 201.7px,#81ff75 211.6px,#6cff8b 214.6px,#4affad 218.6px,#1bffdb 222.6px,#0ef6e9 223.6px,#00e4f8 224.6px,#00cfff 225.6px,#00a4ff 227.6px,#005dff 230.6px,#001cff 233.6px,#000bff 234.6px,#0000ff 235.6px,#0000ff 236.6px,#0000f1 237.6px,#0000dc 238.6px,#0000b6 239.6px,#000098 240.6px,#000089 241.6px,#000080 242.6px,#000080 295.5px)"></i>
<i style="left:242px;width:3px;background:linear-gradient(#9dff5a 9px,#b6ff41 37.9px,#e4ff13 75.9px,#ebff0c 87.9px,#e8ff0f 105.8px,#d8ff1e 123.8px,#deff19 128.8px,#ddff1a 145.8px,#e0ff17 148.8px,#eeff09 155.7px,#f6f701 159.7px,#ffec00 164.7px,#ffe300 169.7px,#ffe300 180.7px,#ffed00 186.7px,#f7f500 189.7px,#efff08 191.7px,#d8ff1e 196.7px,#bfff38 201.7px,#81ff75 211.6px,#6cff8b 214.6px,#4affad 218.6px,#1bffdb 222.6px,#0ef6e9 223.6px,#00e4f8 224.6px,#00cfff 225.6px,#00a4ff 227.6px,#005dff 230.6px,#001cff 233.6px,#000bff 234.6px,#0000ff 235.6px,#0000ff 236.6px,#0000f1 237.6px,#0000dc 238.6px,#0000b6 239.6px,#000098 240.6px,#000089 241.6px,#000080 242.6px,#000080 295.5px)"></i>
<i style="left:245px;width:3px;background:linear-gradient(#98ff5e 9px,#b1ff45 37.9px,#d6ff21 65.9px,#e5ff12 74.9px,#e9ff0e 79.9px,#ecff0a 88.9px,#e7ff10 108.8px,#daff1d 123.8px,#dfff18 129.8px,#ddff19 145.8px,#e0ff17 148.8px,#eeff09 155.7px,#f6f701 159.7px,#ffec00 164.7px,#ffe300 169.7px,#ffe300 180.7px,#ffed00 186.7px,#f7f500 189.7px,#efff08 191.7px,#d8ff1e 196.7px,#bfff38 201.7px,#81ff75 211.6px,#6cff8b 214.6px,#4affad 218.6px,#1bffdb 222.6px,#0ef6e9 223.6px,#00e4f8 224.6px,#00cfff 225.6px,#00a4ff 227.6px,#005dff 230.6px,#001cff 233.6px,#000bff 234.6px,#0000ff 235.6px,#0000ff 236.6px,#0000f1 237.6px,#0000dc 238.6px,#0000b6 239.6px,#000098 240.6px,#000089 241.6px,#000080 242.6px,#000080 295.5px)"></i>
<i style="left:248px;width:3px;background:linear-gradient(#94ff63 9px,#adff4a 37.9px,#d3ff24 64.9px,#e6ff10 74.9px,#ecff0a 80.9px,#efff08 88.9px,#e8ff0f 109.8px,#dbff1b 123.8px,#e0ff17 128.8px,#ddff19 144.8px,#e0ff17 148.8px,#eeff09 155.7px,#f6f701 159.7px,#ffec00 164.7px,#ffe300 169.7px,#ffe300 180.7px,#ffed00 186.7px,#f7f500 189.7px,#efff08 191.7px,#d8ff1e 196.7px,#bfff38 201.7px,#81ff75 211.6px,#6cff8b 214.6px,#4affad 218.6px,#1bffdb 222.6px,#0ef6e9 223.6px,#00e4f8 224.6px,#00cfff 225.6px,#00a4ff 227.6px,#005dff 230.6px,#001cff 233.6px,#000bff 234.6px,#0000ff 235.6px,#0000ff 236.6px,#0000f1 237.6px,#0000dc 238.6px,#0000b6 239.6px,#000098 240.6px,#000089 241.6px,#000080 242.6px,#000080 295.5px)"></i>
<i style="left:251px;width:3px;background:linear-gradient(#90ff67 9px,#a9ff4e 37.9px,#d3ff24 65.9px,#ebff0c 76.9px,#f1fc06 82.9px,#f2fb05 88.9px,#eeff09 93.9px,#e9ff0e 111.8px,#ddff1a 123.8px,#e1ff16 128.8px,#ddff19 143.8px,#e0ff17 148.8px,#eeff09 155.7px,#f6f701 159.7px,#ffec00 164.7px,#ffe300 169.7px,#ffe300 180.7px,#ffed00 186.7px,#f7f500 189.7px,#efff08 191.7px,#d8ff1e 196.7px,#bfff38 201.7px,#81ff75 211.6px,#6cff8b 214.6px,#4affad 218.6px,#1bffdb 222.6px,#0ef6e9 223.6px,#00e4f8 224.6px,#00cfff 225.6px,#00a4ff 227.6px,#005dff 230.6px,#001cff 233.6px,#000bff 234.6px,#0000ff 235.6px,#0000ff 236.6px,#0000f1 237.6px,#0000dc 238.6px,#0000b6 239.6px,#000098 240.6px,#000089 241.6px,#000080 242.6px,#000080 295.5px)"></i>
<i style="left:254px;width:3px;background:linear-gradient(#89ff6e 9px,#a4ff53 37.9px,#d0ff26 65.9px,#eeff09 77.9px,#f5f701 83.9px,#f7f601 88.9px,#eeff09 96.8px,#eaff0c 111.8px,#deff19 123.8px,#e2ff15 127.8px,#deff18 146.8px,#e0ff17 148.8px,#eeff09 155.7px,#f6f701 159.7px,#ffec00 164.7px,#ffe300 169.7px,#ffe300 180.7px,#ffed00 186.7px,#f7f500 189.7px,#efff08 191.7px,#d8ff1e 196.7px,#bfff38 201.7px,#81ff75 211.6px,#6cff8b 214.6px,#4affad 218.6px,#1bffdb 222.6px,#0ef6e9 223.6px,#00e4f8 224.6px,#00cfff 225.6px,#00a4ff 227.6px,#005dff 230.6px,#001cff 233.6px,#000bff 234.6px,#0000ff 235.6px,#0000ff 236.6px,#0000f1 237.6px,#0000dc 238.6px,#0000b6 239.6px,#000098 240.6px,#000089 241.6px,#000080 242.6px,#000080 295.5px)"></i>
<i style="left:257px;width:3px;background:linear-gradient(#7cff7b 9px,#9bff5c 37.9px,#cdff29 66.9px,#d9ff1e 71.9px,#eeff09 78.9px,#f7f500 83.9px,#fbf100 88.9px,#f6f701 92.9px,#effe08 98.8px,#e9ff0e 111.8px,#deff19 123.8px,#e2ff15 127.8px,#deff18 146.8px,#e0ff17 148.8px,#eeff09 155.7px,#f6f701 159.7px,#ffec00 164.7px,#ffe300 169.7px,#ffe300 180.7px,#ffed00 186.7px,#f7f500 189.7px,#efff08 191.7px,#d8ff1e 196.7px,#bfff38 201.7px,#81ff75 211.6px,#6cff8b 214.6px,#4affad 218.6px,#1bffdb 222.6px,#0ef6e9 223.6px,#00e4f8 224.6px,#00cfff 225.6px,#00a4ff 227.6px,#005dff 230.6px,#001cff 233.6px,#000bff 234.6px,#0000ff 235.6px,#0000ff 236.6px,#0000f1 237.6px,#0000dc 238.6px,#0000b6 239.6px,#000098 240.6px,#000089 241.6px,#000080 242.6px,#000080 295.5px)"></i>
<i style="left:260px;width:3px;background:linear-gradient(#6eff89 9px,#92ff64 37.9px,#d2ff25 71.9px,#edff0a 79.9px,#f7f500 83.9px,#feee00 87.9px,#fcef00 91.9px,#f6f601 95.8px,#edff09 103.8px,#deff19 123.8px,#e2ff15 127.8px,#deff18 146.8px,#e0ff17 148.8px,#eeff09 155.7px,#f6f701 159.7px,#ffec00 164.7px,#ffe300 169.7px,#ffe300 180.7px,#ffed00 186.7px,#f7f500 189.7px,#efff08 191.7px,#d8ff1e 196.7px,#bfff38 201.7px,#81ff75 211.6px,#6cff8b 214.6px,#4affad 218.6px,#1bffdb 222.6px,#0ef6e9 223.6px,#00e4f8 224.6px,#00cfff 225.6px,#00a4ff 227.6px,#005dff 230.6px,#001cff 233.6px,#000bff 234.6px,#0000ff 235.6px,#0000ff 236.6px,#0000f1 237.6px,#0000dc 238.6px,#0000b6 239.6px,#000098 240.6px,#000089 241.6px,#000080 242.6px,#000080 295.5px)"></i>
<i style="left:263px;width:3px;background:linear-gradient(#60ff97 9px,#88ff6f 37px,#cbff2b 71.9px,#d6ff21 75.9px,#edff0a 81.9px,#f8f500 84.9px,#ffec00 87.9px,#ffe900 89.9px,#feec00 93.9px,#f6f701 100.8px,#eeff09 105.8px,#deff18 123.8px,#e2ff15 127.8px,#e2ff15 132.8px,#deff18 140.8px,#dfff18 147.8px,#eeff09 155.7px,#f6f701 159.7px,#ffec00 164.7px,#ffe300 169.7px,#ffe300 180.7px,#ffed00 186.7px,#f7f500 189.7px,#efff08 191.7px,#d8ff1e 196.7px,#bfff38 201.7px,#81ff75 211.6px,#6cff8b 214.6px,#4affad 218.6px,#1bffdb 222.6px,#0ef6e9 223.6px,#00e4f8 224.6px,#00cfff 225.6px,#00a4ff 227.6px,#005dff 230.6px,#001cff 233.6px,#000bff 234.6px,#0000ff 235.6px,#0000ff 236.6px,#0000f1 237.6px,#0000dc 238.6px,#0000b6 239.6px,#000098 240.6px,#000089 241.6px,#000080 242.6px,#000080 295.5px)"></i>
<i style="left:266px;width:3px;background:linear-gradient(#51ffa5 9px,#7fff78 37px,#caff2d 73.9px,#d8ff1f 78.9px,#ecff0a 83.9px,#f9f200 86.9px,#ffea00 88.9px,#ffe600 92.9px,#ffe800 95.8px,#fdef00 100.8px,#f9f300 102.8px,#eeff09 108.8px,#dfff17 123.8px,#e3ff14 128.8px,#deff19 141.8px,#e0ff17 148.8px,#eeff09 155.7px,#f6f701 159.7px,#ffec00 164.7px,#ffe300 169.7px,#ffe300 180.7px,#ffed00 186.7px,#f7f500 189.7px,#efff08 191.7px,#d8ff1e 196.7px,#bfff38 201.7px,#81ff75 211.6px,#6cff8b 214.6px,#4affad 218.6px,#1bffdb 222.6px,#0ef6e9 223.6px,#00e4f8 224.6px,#00cfff 225.6px,#00a4ff 227.6px,#005dff 230.6px,#001cff 233.6px,#000bff 234.6px,#0000ff 235.6px,#0000ff 236.6px,#0000f1 237.6px,#0000dc 238.6px,#0000b6 239.6px,#000098 240.6px,#000089 241.6px,#000080 242.6px,#000080 295.5px)"></i>
<i style="left:269px;width:3px;background:linear-gradient(#49ffae 9px,#79ff7e 37.9px,#c7ff2f 75.9px,#d8ff1f 81.9px,#e9ff0e 85.9px,#f8f401 88.9px,#feec00 90.9px,#ffe600 94.8px,#ffe800 99.8px,#feed00 102.8px,#f8f400 105.8px,#eeff09 110.8px,#e0ff16 123.8px,#e3ff14 130.8px,#deff19 141.8px,#deff18 146.8px,#e0ff17 148.8px,#eeff09 155.7px,#f6f701 159.7px,#ffec00 164.7px,#ffe300 169.7px,#ffe300 180.7px,#ffed00 186.7px,#f7f500 189.7px,#efff08 191.7px,#d8ff1e 196.7px,#bfff38 201.7px,#81ff75 211.6px,#6cff8b 214.6px,#4affad 218.6px,#1bffdb 222.6px,#0ef6e9 223.6px,#00e4f8 224.6px,#00cfff 225.6px,#00a4ff 227.6px,#005dff 230.6px,#001cff 233.6px,#000bff 234.6px,#0000ff 235.6px,#0000ff 236.6px,#0000f1 237.6px,#0000dc 238.6px,#0000b6 239.6px,#000098 240.6px,#000089 241.6px,#000080 242.6px,#000080 295.5px)"></i>
<i style="left:272px;width:3px;background:linear-gradient(#45ffb2 9px,#71ff85 37.9px,#c5ff32 78.9px,#d2ff24 83.9px,#e8ff0f 88.9px,#f5f703 91.9px,#feed00 94.8px,#ffe800 97.8px,#ffe800 101.8px,#feed00 104.8px,#f7f601 108.8px,#effe08 112.8px,#e2ff15 124.8px,#e4ff13 128.8px,#deff19 145.8px,#e0ff17 148.8px,#eeff09 155.7px,#f6f701 159.7px,#ffec00 164.7px,#ffe300 169.7px,#ffe300 180.7px,#ffed00 186.7px,#f7f500 189.7px,#efff08 191.7px,#d8ff1e 196.7px,#bfff38 201.7px,#81ff75 211.6px,#6cff8b 214.6px,#4affad 218.6px,#1bffdb 222.6px,#0ef6e9 223.6px,#00e4f8 224.6px,#00cfff 225.6px,#00a4ff 227.6px,#005dff 230.6px,#001cff 233.6px,#000bff 234.6px,#0000ff 235.6px,#0000ff 236.6px,#0000f1 237.6px,#0000dc 238.6px,#0000b6 239.6px,#000098 240.6px,#000089 241.6px,#000080 242.6px,#000080 295.5px)"></i>
<i style="left:275px;width:3px;background:linear-gradient(#41ffb6 9px,#6aff8d 37.9px,#c5ff32 82.9px,#d0ff27 86.9px,#e9ff0e 92.9px,#f7f602 95.8px,#feec00 98.8px,#ffe900 104.8px,#fdef00 108.8px,#f7f501 111.8px,#edff0a 118.8px,#e6ff11 124.8px,#e7ff10 128.8px,#deff19 144.8px,#e2ff15 149.8px,#eeff09 155.7px,#f6f701 159.7px,#ffec00 164.7px,#ffe300 169.7px,#ffe300 180.7px,#ffed00 186.7px,#f7f500 189.7px,#efff08 191.7px,#d8ff1e 196.7px,#bfff38 201.7px,#81ff75 211.6px,#6cff8b 214.6px,#4affad 218.6px,#1bffdb 222.6px,#0ef6e9 223.6px,#00e4f8 224.6px,#00cfff 225.6px,#00a4ff 227.6px,#005dff 230.6px,#001cff 233.6px,#000bff 234.6px,#0000ff 235.6px,#0000ff 236.6px,#0000f1 237.6px,#0000dc 238.6px,#0000b6 239.6px,#000098 240.6px,#000089 241.6px,#000080 242.6px,#000080 295.5px)"></i>
<i style="left:278px;width:3px;background:linear-gradient(#3effb9 9px,#63ff94 37.9px,#bbff3c 81.9px,#d0ff26 90.9px,#e6ff11 95.8px,#f4f903 98.8px,#fdee00 101.8px,#ffe800 107.8px,#f7f601 117.8px,#eefe09 124.8px,#edfe0a 127.8px,#e2ff15 137.8px,#dfff18 145.8px,#e3ff14 149.8px,#eeff09 155.7px,#f6f701 159.7px,#ffec00 164.7px,#ffe300 169.7px,#ffe300 180.7px,#ffed00 186.7px,#f7f500 189.7px,#efff08 191.7px,#d8ff1e 196.7px,#bfff38 201.7px,#81ff75 211.6px,#6cff8b 214.6px,#4affad 218.6px,#1bffdb 222.6px,#0ef6e9 223.6px,#00e4f8 224.6px,#00cfff 225.6px,#00a4ff 227.6px,#005dff 230.6px,#001cff 233.6px,#000bff 234.6px,#0000ff 235.6px,#0000ff 236.6px,#0000f1 237.6px,#0000dc 238.6px,#0000b6 239.6px,#000098 240.6px,#000089 241.6px,#000080 242.6px,#000080 295.5px)"></i>
<i style="left:281px;width:3px;background:linear-gradient(#39ffbe 9px,#5bff9c 37.9px,#c8ff2f 92.9px,#d2ff25 95.8px,#ebfe0c 100.8px,#f4f804 102.8px,#fded00 105.8px,#ffe800 108.8px,#ffe800 112.8px,#feec00 117.8px,#f7f601 127.8px,#edff0a 134.8px,#e9ff0e 137.8px,#e4ff12 147.8px,#eeff09 155.7px,#f8f500 160.7px,#ffec00 164.7px,#ffe300 169.7px,#ffe300 180.7px,#ffed00 186.7px,#f7f500 189.7px,#efff08 191.7px,#d8ff1e 196.7px,#bfff38 201.7px,#81ff75 211.6px,#6cff8b 214.6px,#4affad 218.6px,#1bffdb 222.6px,#0ef6e9 223.6px,#00e4f8 224.6px,#00cfff 225.6px,#00a4ff 227.6px,#005dff 230.6px,#001cff 233.6px,#000bff 234.6px,#0000ff 235.6px,#0000ff 236.6px,#0000f1 237.6px,#0000dc 238.6px,#0000b6 239.6px,#000098 240.6px,#000089 241.6px,#000080 242.6px,#000080 295.5px)"></i>
<i style="left:284px;width:3px;background:linear-gradient(#2cffcb 9px,#51ffa6 37.9px,#89ff6e 65.9px,#b8ff3f 93.9px,#cbff2b 99.8px,#e5ff11 104.8px,#f4f804 107.8px,#feec00 111.8px,#ffe700 117.8px,#ffe800 126.8px,#f4f903 137.8px,#f2fa05 146.8px,#f4f903 154.7px,#ffeb00 164.7px,#ffe300 169.7px,#ffe300 180.7px,#ffed00 186.7px,#f7f500 189.7px,#efff08 191.7px,#d8ff1e 196.7px,#bfff38 201.7px,#81ff75 211.6px,#6cff8b 214.6px,#4affad 218.6px,#1bffdb 222.6px,#0ef6e9 223.6px,#00e4f8 224.6px,#00cfff 225.6px,#00a4ff 227.6px,#005dff 230.6px,#001cff 233.6px,#000bff 234.6px,#0000ff 235.6px,#0000ff 236.6px,#0000f1 237.6px,#0000dc 238.6px,#0000b6 239.6px,#000098 240.6px,#000089 241.6px,#000080 242.6px,#000080 295.5px)"></i>
<i style="left:287px;width:3px;background:linear-gradient(#1dffd9 9px,#44ffb2 37px,#7eff79 65.9px,#acff4a 96.8px,#b7ff3f 100.8px,#c4ff33 103.8px,#e8fe0e 109.8px,#f6f602 112.8px,#feed00 115.8px,#ffdd00 126.8px,#fee900 137.8px,#ffe200 143.8px,#ffe300 155.7px,#ffdb00 168.7px,#ffe300 180.7px,#ffed00 186.7px,#f7f500 189.7px,#efff08 191.7px,#d8ff1e 196.7px,#bfff38 201.7px,#81ff75 211.6px,#6cff8b 214.6px,#4affad 218.6px,#1bffdb 222.6px,#0ef6e9 223.6px,#00e4f8 224.6px,#00cfff 225.6px,#0032ff 232.6px,#000dff 234.6px,#0001ff 235.6px,#0000ff 236.6px,#0000f4 237.6px,#0000e2 238.6px,#0000a2 240.6px,#00008f 241.6px,#000084 242.6px,#000080 243.6px,#000080 295.5px)"></i>
<i style="left:290px;width:3px;background:linear-gradient(#11fbe6 9px,#18ffde 14px,#3bffbc 37.9px,#70ff86 65.9px,#a2ff55 99.8px,#acff4a 103.8px,#b9ff3e 106.8px,#dbff1c 111.8px,#e6ff11 113.8px,#f4f804 116.8px,#feec00 119.8px,#ffd700 126.8px,#ffdb00 136.8px,#ffc800 145.8px,#ffc800 155.7px,#ffc100 166.7px,#ffc200 170.7px,#ffc700 173.7px,#ffe200 186.7px,#fdec00 189.7px,#f2fa06 192.7px,#e8ff0f 194.7px,#c2ff34 201.7px,#82ff75 211.6px,#6cff8b 214.6px,#4bffac 218.6px,#21ffd6 222.6px,#15fbe2 223.6px,#08efef 224.6px,#02defa 225.6px,#00ccfe 226.6px,#0045ff 233.6px,#0022ff 235.6px,#0012ff 236.6px,#0008ff 237.6px,#0003fc 238.6px,#0000f5 239.6px,#0000e7 240.6px,#0000a0 243.6px,#00008e 244.6px,#000085 245.6px,#000082 246.6px,#000080 295.5px)"></i>
<i style="left:293px;width:3px;background:linear-gradient(#06edf1 9px,#10f9e7 16px,#19ffde 22px,#2effc9 37px,#62ff95 65.9px,#97ff5f 102.8px,#a7ff50 107.8px,#e7ff10 118.8px,#f7f502 121.8px,#fee900 123.8px,#ffd900 126.8px,#ffd000 137.8px,#ffbc00 142.8px,#ffb400 145.8px,#ffaf00 149.8px,#ffb000 154.7px,#ffa400 163.7px,#ffa000 169.7px,#ffa600 176.7px,#ffb400 183.7px,#ffc900 190.7px,#ffd700 193.7px,#f8ee04 197.7px,#eff80a 199.7px,#e3fd14 201.7px,#c6ff31 205.7px,#77ff80 215.6px,#57ffa0 220.6px,#2effc8 225.6px,#25fdd2 226.6px,#13f1e6 228.6px,#07ddf5 230.6px,#00bdfd 232.6px,#00abff 233.6px,#0074ff 236.6px,#0025ff 240.6px,#000afc 242.6px,#0004f6 243.6px,#0000ea 244.6px,#0000d7 245.6px,#0000aa 247.6px,#000097 248.6px,#000089 249.6px,#000081 251.6px,#000080 295.5px)"></i>
<i style="left:296px;width:3px;background:linear-gradient(#00d6fe 9px,#08efef 24px,#15fbe2 34px,#1effd9 39.9px,#6dff89 89.9px,#87ff70 102.8px,#91ff66 106.8px,#9dff5a 109.8px,#c1ff36 116.8px,#e6ff11 122.8px,#edfd0a 123.8px,#faf001 125.8px,#ffe200 128.8px,#ffd100 136.8px,#ffb000 143.8px,#ffab00 145.8px,#ffa400 149.8px,#ffa200 155.7px,#ff9500 160.7px,#ff8600 169.7px,#ff8200 176.7px,#ff8700 182.7px,#ff9a00 191.7px,#ffad00 196.7px,#ffd400 202.7px,#fbe502 204.7px,#f3f107 206.7px,#e6fa12 208.7px,#d4ff23 210.6px,#a9ff4e 215.6px,#8fff67 220.6px,#7cff7b 223.6px,#56ffa1 228.6px,#33ffc4 232.6px,#16f2e4 235.6px,#08ddf4 237.6px,#00b8fe 239.6px,#008dff 241.6px,#002eff 245.6px,#001bff 246.6px,#000dfb 247.6px,#0004f4 248.6px,#0000e5 249.6px,#0000a1 252.6px,#00008f 253.6px,#000085 254.6px,#000081 255.6px,#000080 295.5px)"></i>
<i style="left:299px;width:3px;background:linear-gradient(#00b5ff 9px,#00d7fd 32px,#08efef 45.9px,#15fbe2 54.9px,#1fffd7 61.9px,#4dffaa 88.9px,#7fff78 105.8px,#8eff69 109.8px,#bcff3b 119.8px,#e3ff14 125.8px,#eefc08 127.8px,#f7f502 129.8px,#ffe500 133.8px,#ffd500 137.8px,#ffb200 143.8px,#ffa600 147.8px,#ffa200 149.8px,#ffa200 154.7px,#ff8d00 162.7px,#ff7a00 171.7px,#ff7000 177.7px,#ff6d00 182.7px,#ff7000 189.7px,#ff8000 197.7px,#ff9f00 203.7px,#ffd600 210.6px,#fcdf00 211.6px,#f4ef06 213.6px,#e7f912 215.6px,#dcff1b 217.6px,#acff4a 225.6px,#82ff75 230.6px,#4affac 236.6px,#2bffcc 239.6px,#13f2e6 241.6px,#09e6f0 242.6px,#00bffe 244.6px,#008fff 246.6px,#0024ff 250.6px,#0012fe 251.6px,#0005f7 252.6px,#0000e9 253.6px,#0000d3 254.6px,#00009e 256.6px,#00008c 257.6px,#000083 258.6px,#000080 260.6px,#000080 295.5px)"></i>
<i style="left:302px;width:3px;background:linear-gradient(#0026ef 9px,#003cff 26px,#0044ff 32px,#0052ff 37.9px,#0098ff 54.9px,#00bcff 60.9px,#03d9fa 65.9px,#06e9f3 68.9px,#0bf2ed 70.9px,#1afedd 74.9px,#26ffd1 77.9px,#72ff85 106.8px,#9fff58 117.8px,#b2ff45 121.8px,#cfff28 126.8px,#e6ff11 131.8px,#effc08 133.8px,#f7f502 135.8px,#ffe200 138.8px,#ffbd00 143.8px,#ffa700 148.8px,#ffa200 154.7px,#ff8600 165.7px,#ff7000 176.7px,#ff6800 186.7px,#ff6c00 196.7px,#ff7100 199.7px,#ff7b00 202.7px,#ff8c00 206.7px,#ff9800 208.7px,#fee000 218.6px,#f3f707 221.6px,#e4ff13 223.6px,#bbff3b 229.6px,#a0ff57 232.6px,#74ff83 236.6px,#41ffb5 241.6px,#29ffcd 243.6px,#1dfdda 244.6px,#0ef4e8 245.6px,#05e4f5 246.6px,#00d0fd 247.6px,#00b8ff 248.6px,#0083ff 250.6px,#002cff 253.6px,#0012ff 254.6px,#0004fa 255.6px,#0000ed 256.6px,#00009a 259.6px,#000087 260.6px,#000080 261.6px,#000080 295.5px)"></i>
<i style="left:305px;width:3px;background:linear-gradient(#0000bb 9px,#0000fc 36px,#0004ff 38.9px,#000aff 40.9px,#0056ff 54.9px,#00b9ff 65.9px,#00d6ff 69.9px,#01e5f7 71.9px,#17ffe0 75.9px,#22ffd5 77.9px,#39ffbe 85.9px,#6dff8a 106.8px,#a1ff56 119.8px,#cbff2b 128.8px,#e8ff0f 135.8px,#f3fa04 137.8px,#feea00 139.8px,#ffc200 144.8px,#ffaa00 149.8px,#ffa000 155.7px,#ff8600 165.7px,#ff7000 176.7px,#ff6800 186.7px,#ff6e00 198.7px,#ff8200 205.7px,#ff9400 209.7px,#ffc300 217.6px,#ffe400 221.6px,#feed00 222.6px,#f6f701 223.6px,#eeff09 224.6px,#bcff3b 231.6px,#a9ff4e 233.6px,#7aff7c 237.6px,#49ffae 242.6px,#19ffde 246.6px,#0bf3ec 247.6px,#00e0fb 248.6px,#00cbff 249.6px,#007dff 252.6px,#0023ff 255.6px,#0008ff 256.6px,#0000fc 257.6px,#0000ca 259.6px,#00008f 261.6px,#000081 262.6px,#000080 295.5px)"></i>
<i style="left:308px;width:3px;background:linear-gradient(#0000a0 9px,#0000b0 20px,#0000c5 29px,#0000e3 37px,#0000fd 41.9px,#0003ff 44.9px,#0038ff 54.9px,#00a9ff 65.9px,#00d4ff 70.9px,#00ddfd 71.9px,#00e6f6 72.9px,#15ffe2 75.9px,#22ffd5 77.9px,#39ffbe 85.9px,#6dff8a 106.8px,#ebff0c 137.8px,#f1fc05 138.8px,#f9f400 139.8px,#ffeb00 140.8px,#ffca00 144.8px,#ffaf00 149.8px,#ff8600 165.7px,#ff7000 176.7px,#ff6800 186.7px,#ff6e00 198.7px,#ff8200 205.7px,#ff9400 209.7px,#ffc300 217.6px,#ffe300 221.6px,#feed00 222.6px,#f6f601 223.6px,#eeff09 224.6px,#bdff3a 231.6px,#aaff4d 233.6px,#7bff7b 237.6px,#4affad 242.6px,#1bffdc 246.6px,#0df6ea 247.6px,#00e4f8 248.6px,#00cfff 249.6px,#00b8ff 250.6px,#0083ff 252.6px,#0029ff 255.6px,#000fff 256.6px,#0000ff 257.6px,#0000eb 258.6px,#0000d1 259.6px,#000096 261.6px,#000082 262.6px,#000080 295.5px)"></i>
<i style="left:311px;width:3px;background:linear-gradient(#0000b9 9px,#0000d3 25px,#0000db 29px,#0000fc 38.9px,#0007ff 42.9px,#0044ff 54.9px,#00adff 65.9px,#00d6ff 70.9px,#01e6f6 72.9px,#14fee3 75.9px,#1affdd 76.9px,#1fffd7 77.9px,#44ffb3 89.9px,#6dff8a 106.8px,#c4ff33 127.8px,#deff18 135.8px,#eeff09 138.8px,#f5f802 139.8px,#fcef00 140.8px,#ffe700 141.8px,#ffce00 144.8px,#ffb700 148.8px,#ff9700 158.7px,#ff7000 176.7px,#ff6800 186.7px,#ff6e00 198.7px,#ff8200 205.7px,#ff9400 209.7px,#ffc300 217.6px,#ffe300 221.6px,#feed00 222.6px,#f6f601 223.6px,#eeff09 224.6px,#bdff3a 231.6px,#aaff4d 233.6px,#7bff7b 237.6px,#4affad 242.6px,#1bffdc 246.6px,#0df6ea 247.6px,#00e4f8 248.6px,#00cfff 249.6px,#00b8ff 250.6px,#0083ff 252.6px,#0029ff 255.6px,#000fff 256.6px,#0000ff 257.6px,#0000eb 258.6px,#0000d1 259.6px,#000096 261.6px,#000082 262.6px,#000080 295.5px)"></i>
<i style="left:314px;width:3px;background:linear-gradient(#0000e0 9px,#0000fb 28px,#0003ff 35px,#0007ff 37.9px,#005aff 54.9px,#00dbff 70.9px,#03e9f4 72.9px,#13fde4 75.9px,#18ffde 76.9px,#44ffb3 89.9px,#6dff8a 106.8px,#b9ff3e 124.8px,#c8ff2f 128.8px,#deff19 135.8px,#edff0a 138.8px,#f4f903 139.8px,#ffe800 141.8px,#ffd000 144.8px,#ffb800 148.8px,#ffac00 151.8px,#ff9700 158.7px,#ff7000 176.7px,#ff6800 186.7px,#ff6e00 198.7px,#ff8200 205.7px,#ff9400 209.7px,#ffc300 217.6px,#ffe300 221.6px,#feed00 222.6px,#f6f601 223.6px,#eeff09 224.6px,#bdff3a 231.6px,#aaff4d 233.6px,#7bff7b 237.6px,#4affad 242.6px,#1bffdc 246.6px,#0df6ea 247.6px,#00e4f8 248.6px,#00cfff 249.6px,#00b8ff 250.6px,#0083ff 252.6px,#0029ff 255.6px,#000fff 256.6px,#0000ff 257.6px,#0000eb 258.6px,#0000d1 259.6px,#000096 261.6px,#000082 262.6px,#000080 295.5px)"></i>
<i style="left:317px;width:3px;background:linear-gradient(#0008fd 9px,#0013ff 23px,#0029ff 37.9px,#0073ff 54.9px,#00d9ff 69.9px,#01e7f6 71.9px,#13fde4 75.9px,#1cffdb 77.9px,#41ffb5 88.9px,#6eff89 106.8px,#c2ff35 126.8px,#dfff18 135.8px,#edff09 138.8px,#f4f903 139.8px,#ffe800 141.8px,#ffd000 144.8px,#ffb900 148.8px,#ffa900 152.7px,#ff9700 158.7px,#ff7000 176.7px,#ff6a00 182.7px,#ff6800 190.7px,#ff6e00 198.7px,#ff7b00 203.7px,#ff8a00 207.7px,#ffc300 217.6px,#ffda00 220.6px,#feed00 222.6px,#f6f601 223.6px,#eeff09 224.6px,#c5ff32 230.6px,#b4ff43 232.6px,#7bff7b 237.6px,#4affad 242.6px,#1bffdc 246.6px,#0df6ea 247.6px,#00e4f8 248.6px,#00cfff 249.6px,#00b8ff 250.6px,#0083ff 252.6px,#0029ff 255.6px,#000fff 256.6px,#0000ff 257.6px,#0000eb 258.6px,#0000d1 259.6px,#000096 261.6px,#000082 262.6px,#000080 295.5px)"></i>
<i style="left:320px;width:3px;background:linear-gradient(#004aff 9px,#0067ff 37.9px,#0094ff 54.9px,#00d5ff 67.9px,#00dbfe 68.9px,#01e7f6 70.9px,#12fce4 74.9px,#17ffe0 75.9px,#45ffb2 88.9px,#6dff89 105.8px,#bcff3b 124.8px,#cbff2c 128.8px,#dcff1b 134.8px,#eeff09 138.8px,#f4f802 139.8px,#ffe700 141.8px,#ffd000 144.8px,#ffb400 149.8px,#ff9700 158.7px,#ff7000 176.7px,#ff6a00 182.7px,#ff6800 190.7px,#ff6e00 198.7px,#ff7b00 203.7px,#ff8a00 207.7px,#ffc300 217.6px,#ffda00 220.6px,#feed00 222.6px,#f6f601 223.6px,#eeff09 224.6px,#c5ff32 230.6px,#b4ff43 232.6px,#7bff7b 237.6px,#4affad 242.6px,#1bffdc 246.6px,#0df6ea 247.6px,#00e4f8 248.6px,#00cfff 249.6px,#00b8ff 250.6px,#0083ff 252.6px,#0029ff 255.6px,#000fff 256.6px,#0000ff 257.6px,#0000eb 258.6px,#0000d1 259.6px,#000096 261.6px,#000082 262.6px,#000080 295.5px)"></i>
<i style="left:323px;width:3px;background:linear-gradient(#0097ff 9px,#00a7ff 37.9px,#00b5ff 53.9px,#00d5ff 65.9px,#00e4f8 68.9px,#13fde4 73.9px,#17ffe0 74.9px,#48ffaf 88.9px,#70ff86 105.8px,#c1ff36 125.8px,#e0ff16 135.8px,#efff08 138.8px,#f5f802 139.8px,#ffe700 141.8px,#ffc900 145.8px,#ffb400 149.8px,#ff9700 158.7px,#ff7000 176.7px,#ff6a00 182.7px,#ff6800 190.7px,#ff6e00 198.7px,#ff7b00 203.7px,#ff8a00 207.7px,#ffc300 217.6px,#ffda00 220.6px,#feed00 222.6px,#f6f601 223.6px,#eeff09 224.6px,#c5ff32 230.6px,#b4ff43 232.6px,#7bff7b 237.6px,#4affad 242.6px,#1bffdc 246.6px,#0df6ea 247.6px,#00e4f8 248.6px,#00cfff 249.6px,#00b8ff 250.6px,#0083ff 252.6px,#0029ff 255.6px,#000fff 256.6px,#0000ff 257.6px,#0000eb 258.6px,#0000d1 259.6px,#000096 261.6px,#000082 262.6px,#000080 295.5px)"></i>
<i style="left:326px;width:3px;background:linear-gradient(#00c8ff 9px,#00d4ff 53.9px,#02e6f7 65.9px,#11fae6 70.9px,#1affdc 73.9px,#4bffab 88.9px,#73ff84 105.8px,#bfff38 124.8px,#eaff0d 137.8px,#effe08 138.8px,#f6f701 139.8px,#fdef00 140.8px,#ffe600 141.8px,#ffcf00 144.8px,#ffb900 148.8px,#ffa900 152.7px,#ff9700 158.7px,#ff7000 176.7px,#ff6a00 182.7px,#ff6800 190.7px,#ff6e00 198.7px,#ff7b00 203.7px,#ff8a00 207.7px,#ffc300 217.6px,#ffda00 220.6px,#feed00 222.6px,#f6f601 223.6px,#eeff09 224.6px,#c5ff32 230.6px,#b4ff43 232.6px,#7bff7b 237.6px,#4affad 242.6px,#1bffdc 246.6px,#0df6ea 247.6px,#00e4f8 248.6px,#00cfff 249.6px,#00b8ff 250.6px,#0083ff 252.6px,#0029ff 255.6px,#000fff 256.6px,#0000ff 257.6px,#0000eb 258.6px,#0000d1 259.6px,#000096 261.6px,#000082 262.6px,#000080 295.5px)"></i>
<i style="left:329px;width:3px;background:linear-gradient(#00defc 9px,#00e0fb 37.9px,#07efef 54.9px,#12fae5 65.9px,#1bffdb 69.9px,#2fffc8 77.9px,#50ffa7 88.9px,#78ff7e 106.8px,#bdff39 123.8px,#ebff0c 137.8px,#f0fd07 138.8px,#f7f600 139.8px,#feee00 140.8px,#ffe600 141.8px,#ffcf00 144.8px,#ffb800 148.8px,#ff9700 158.7px,#ff7000 176.7px,#ff6a00 182.7px,#ff6800 190.7px,#ff6e00 198.7px,#ff7b00 203.7px,#ff8a00 207.7px,#ffc300 217.6px,#ffda00 220.6px,#feed00 222.6px,#f6f601 223.6px,#eeff09 224.6px,#c5ff32 230.6px,#b4ff43 232.6px,#7bff7b 237.6px,#4affad 242.6px,#1bffdc 246.6px,#0df6ea 247.6px,#00e4f8 248.6px,#00cfff 249.6px,#00b8ff 250.6px,#0083ff 252.6px,#0029ff 255.6px,#000fff 256.6px,#0000ff 257.6px,#0000eb 258.6px,#0000d1 259.6px,#000096 261.6px,#000082 262.6px,#000080 295.5px)"></i>
<i style="left:332px;width:3px;background:linear-gradient(#00d7fe 9px,#00defd 20px,#02e8f5 36px,#14fee2 53.9px,#23ffd4 66.9px,#38ffbe 77.9px,#51ffa6 87.9px,#78ff7f 105.8px,#c6ff31 125.8px,#ebff0c 137.8px,#f1fd06 138.8px,#f7f500 139.8px,#feee00 140.8px,#ffe500 141.8px,#ffd500 143.8px,#ffb800 148.8px,#ff9700 158.7px,#ff7000 176.7px,#ff6a00 182.7px,#ff6800 190.7px,#ff6e00 198.7px,#ff7b00 203.7px,#ff8a00 207.7px,#ffc300 217.6px,#ffda00 220.6px,#feed00 222.6px,#f6f601 223.6px,#eeff09 224.6px,#c5ff32 230.6px,#b4ff43 232.6px,#7bff7b 237.6px,#4affad 242.6px,#1bffdc 246.6px,#0df6ea 247.6px,#00e4f8 248.6px,#00cfff 249.6px,#00b8ff 250.6px,#0083ff 252.6px,#0029ff 255.6px,#000fff 256.6px,#0000ff 257.6px,#0000eb 258.6px,#0000d1 259.6px,#000096 261.6px,#000082 262.6px,#000080 295.5px)"></i>
<i style="left:335px;width:3px;background:linear-gradient(#00c4ff 9px,#00dbff 24px,#01e7f5 32px,#15fee2 46.9px,#2fffc8 65.9px,#54ffa3 87.9px,#7dff7a 106.8px,#c6ff31 125.8px,#ebff0c 137.8px,#f1fd06 138.8px,#f7f500 139.8px,#feee00 140.8px,#ffe500 141.8px,#ffd500 143.8px,#ffb800 148.8px,#ff9700 158.7px,#ff7000 176.7px,#ff6a00 182.7px,#ff6800 190.7px,#ff6e00 198.7px,#ff7b00 203.7px,#ff8a00 207.7px,#ffc300 217.6px,#ffda00 220.6px,#feed00 222.6px,#f6f601 223.6px,#eeff09 224.6px,#c5ff32 230.6px,#b4ff43 232.6px,#7bff7b 237.6px,#4affad 242.6px,#1bffdc 246.6px,#0df6ea 247.6px,#00e4f8 248.6px,#00cfff 249.6px,#00b8ff 250.6px,#0083ff 252.6px,#0029ff 255.6px,#000fff 256.6px,#0000ff 257.6px,#0000eb 258.6px,#0000d1 259.6px,#000096 261.6px,#000082 262.6px,#000080 295.5px)"></i>
<i style="left:338px;width:3px;background:linear-gradient(#00d7fe 9px,#06ecf2 22px,#0df6ea 28px,#1affdc 37.9px,#5aff9c 88.9px,#7dff79 105.8px,#c6ff31 125.8px,#ebff0c 137.8px,#f1fd06 138.8px,#f7f500 139.8px,#feee00 140.8px,#ffe500 141.8px,#ffd500 143.8px,#ffb800 148.8px,#ff9700 158.7px,#ff7000 176.7px,#ff6a00 182.7px,#ff6800 190.7px,#ff6e00 198.7px,#ff7b00 203.7px,#ff8a00 207.7px,#ffc300 217.6px,#ffda00 220.6px,#feed00 222.6px,#f6f601 223.6px,#eeff09 224.6px,#c5ff32 230.6px,#b4ff43 232.6px,#7bff7b 237.6px,#4affad 242.6px,#1bffdc 246.6px,#0df6ea 247.6px,#00e4f8 248.6px,#00cfff 249.6px,#00b8ff 250.6px,#0083ff 252.6px,#0029ff 255.6px,#000fff 256.6px,#0000ff 257.6px,#0000eb 258.6px,#0000d1 259.6px,#000096 261.6px,#000082 262.6px,#000080 295.5px)"></i>
<i style="left:341px;width:3px;background:linear-gradient(#0df5ea 9px,#1cffda 22px,#2effc8 37px,#62ff95 89.9px,#84ff73 106.8px,#ccff2a 127.8px,#ebff0c 137.8px,#f1fd06 138.8px,#f7f500 139.8px,#feee00 140.8px,#ffd500 143.8px,#ffc300 146.8px,#ffb800 148.8px,#ffa900 152.7px,#ff8d00 162.7px,#ff7000 176.7px,#ff6800 186.7px,#ff6e00 198.7px,#ff8200 205.7px,#ff9400 209.7px,#ffc300 217.6px,#ffe300 221.6px,#feed00 222.6px,#f6f601 223.6px,#eeff09 224.6px,#bdff3a 231.6px,#aaff4d 233.6px,#7bff7b 237.6px,#4affad 242.6px,#1bffdc 246.6px,#0df6ea 247.6px,#00e4f8 248.6px,#00cfff 249.6px,#00b8ff 250.6px,#0083ff 252.6px,#0029ff 255.6px,#000fff 256.6px,#0000ff 257.6px,#0000eb 258.6px,#0000d1 259.6px,#000096 261.6px,#000082 262.6px,#000080 295.5px)"></i>
<i style="left:344px;width:3px;background:linear-gradient(#0af2ed 9px,#19ffdd 15px,#28ffcf 21px,#3affbd 35px,#53ffa4 66.9px,#61ff96 89.9px,#82ff74 106.8px,#c6ff31 125.8px,#ebff0c 137.8px,#f1fd06 138.8px,#f7f500 139.8px,#feee00 140.8px,#ffd500 143.8px,#ffc300 146.8px,#ffb800 148.8px,#ffa900 152.7px,#ff8d00 162.7px,#ff7000 176.7px,#ff6800 186.7px,#ff6e00 198.7px,#ff8200 205.7px,#ff9400 209.7px,#ffc300 217.6px,#ffe300 221.6px,#feed00 222.6px,#f6f601 223.6px,#eeff09 224.6px,#bdff3a 231.6px,#aaff4d 233.6px,#7bff7b 237.6px,#4affad 242.6px,#1bffdc 246.6px,#0df6ea 247.6px,#00e4f8 248.6px,#00cfff 249.6px,#00b8ff 250.6px,#0083ff 252.6px,#0029ff 255.6px,#000fff 256.6px,#0000ff 257.6px,#0000eb 258.6px,#0000d1 259.6px,#000096 261.6px,#000082 262.6px,#000080 295.5px)"></i>
<i style="left:347px;width:3px;background:linear-gradient(#05e5f6 9px,#0cf3ea 12px,#1dffda 16px,#2fffc8 21px,#42ffb4 36px,#54ffa3 66.9px,#5cff9a 88.9px,#7fff77 106.8px,#c6ff31 125.8px,#ebff0c 137.8px,#f1fd06 138.8px,#f7f500 139.8px,#feed00 140.8px,#ffd500 143.8px,#ffc800 145.8px,#ffb800 148.8px,#ffa900 152.7px,#ff8d00 162.7px,#ff7000 176.7px,#ff6800 186.7px,#ff6e00 198.7px,#ff8200 205.7px,#ff9400 209.7px,#ffc300 217.6px,#ffe300 221.6px,#feed00 222.6px,#f6f601 223.6px,#eeff09 224.6px,#bdff3a 231.6px,#aaff4d 233.6px,#7bff7b 237.6px,#4affad 242.6px,#1bffdc 246.6px,#0df6ea 247.6px,#00e4f8 248.6px,#00cfff 249.6px,#00b8ff 250.6px,#0083ff 252.6px,#0029ff 255.6px,#000fff 256.6px,#0000ff 257.6px,#0000eb 258.6px,#0000d1 259.6px,#000096 261.6px,#000082 262.6px,#000080 295.5px)"></i>
<i style="left:350px;width:3px;background:linear-gradient(#36ffc1 9px,#44ffb3 20px,#50ffa6 37.9px,#64ff93 89.9px,#84ff72 106.8px,#c5ff31 124.8px,#edff0a 137.8px,#f8f400 139.8px,#ffec00 140.8px,#ffc800 145.8px,#ffb800 148.8px,#ffa900 152.7px,#ff8d00 162.7px,#ff7000 176.7px,#ff6800 186.7px,#ff6e00 198.7px,#ff8200 205.7px,#ff9400 209.7px,#ffc300 217.6px,#ffe300 221.6px,#feed00 222.6px,#f6f601 223.6px,#eeff09 224.6px,#bdff3a 231.6px,#aaff4d 233.6px,#7bff7b 237.6px,#4affad 242.6px,#1bffdc 246.6px,#0df6ea 247.6px,#00e4f8 248.6px,#00cfff 249.6px,#00b8ff 250.6px,#0083ff 252.6px,#0029ff 255.6px,#000fff 256.6px,#0000ff 257.6px,#0000eb 258.6px,#0000d1 259.6px,#000096 261.6px,#000082 262.6px,#000080 295.5px)"></i>
<i style="left:353px;width:3px;background:linear-gradient(#51ffa6 9px,#64ff93 66.9px,#70ff87 88.9px,#8eff68 106.8px,#edff0a 137.8px,#f8f400 139.8px,#ffec00 140.8px,#ffd400 143.8px,#ffc200 146.8px,#ffa900 152.7px,#ff8d00 162.7px,#ff7000 176.7px,#ff6800 186.7px,#ff6e00 198.7px,#ff8200 205.7px,#ff9400 209.7px,#ffc300 217.6px,#ffe300 221.6px,#feed00 222.6px,#f6f601 223.6px,#eeff09 224.6px,#bdff3a 231.6px,#aaff4d 233.6px,#7bff7b 237.6px,#4affad 242.6px,#1bffdc 246.6px,#0df6ea 247.6px,#00e4f8 248.6px,#00cfff 249.6px,#00b8ff 250.6px,#0083ff 252.6px,#0029ff 255.6px,#000fff 256.6px,#0000ff 257.6px,#0000eb 258.6px,#0000d1 259.6px,#000096 261.6px,#000082 262.6px,#000080 295.5px)"></i>
<i style="left:356px;width:3px;background:linear-gradient(#61ff96 9px,#62ff94 38.9px,#6eff89 65.9px,#7eff79 88.9px,#98ff5e 106.8px,#c2ff35 123.8px,#edff0a 137.8px,#f8f400 139.8px,#ffec00 140.8px,#ffd400 143.8px,#ffc200 146.8px,#ffa900 152.7px,#ff8d00 162.7px,#ff7000 176.7px,#ff6800 186.7px,#ff6e00 198.7px,#ff8200 205.7px,#ff9400 209.7px,#ffc300 217.6px,#ffe300 221.6px,#feed00 222.6px,#f6f601 223.6px,#eeff09 224.6px,#bdff3a 231.6px,#aaff4d 233.6px,#7bff7b 237.6px,#4affad 242.6px,#1bffdc 246.6px,#0df6ea 247.6px,#00e4f8 248.6px,#00cfff 249.6px,#00b8ff 250.6px,#0083ff 252.6px,#0029ff 255.6px,#000fff 256.6px,#0000ff 257.6px,#0000eb 258.6px,#0000d1 259.6px,#000096 261.6px,#000082 262.6px,#000080 295.5px)"></i>
<i style="left:359px;width:3px;background:linear-gradient(#67ff90 9px,#65ff91 37px,#73ff84 65.9px,#83ff74 88.9px,#9eff59 107.8px,#c2ff35 123.8px,#edff0a 137.8px,#f8f400 139.8px,#ffec00 140.8px,#ffd400 143.8px,#ffc200 146.8px,#ffa900 152.7px,#ff8d00 162.7px,#ff7000 176.7px,#ff6800 186.7px,#ff6e00 198.7px,#ff8200 205.7px,#ff9400 209.7px,#ffc300 217.6px,#ffe300 221.6px,#feed00 222.6px,#f6f601 223.6px,#eeff09 224.6px,#bdff3a 231.6px,#aaff4d 233.6px,#7bff7b 237.6px,#4affad 242.6px,#1bffdc 246.6px,#0df6ea 247.6px,#00e4f8 248.6px,#00cfff 249.6px,#00b8ff 250.6px,#0083ff 252.6px,#0029ff 255.6px,#000fff 256.6px,#0000ff 257.6px,#0000eb 258.6px,#0000d1 259.6px,#000096 261.6px,#000082 262.6px,#000080 295.5px)"></i>
<i style="left:362px;width:3px;background:linear-gradient(#6aff8c 9px,#68ff8f 37.9px,#76ff81 64.9px,#87ff70 88.9px,#9aff5d 103.8px,#abff4c 112.8px,#c2ff35 123.8px,#edff0a 137.8px,#f8f400 139.8px,#ffec00 140.8px,#ffd400 143.8px,#ffc200 146.8px,#ffa900 152.7px,#ff8d00 162.7px,#ff7000 176.7px,#ff6800 186.7px,#ff6e00 198.7px,#ff8200 205.7px,#ff9400 209.7px,#ffc300 217.6px,#ffe300 221.6px,#feed00 222.6px,#f6f601 223.6px,#eeff09 224.6px,#bdff3a 231.6px,#aaff4d 233.6px,#7bff7b 237.6px,#4affad 242.6px,#1bffdc 246.6px,#0df6ea 247.6px,#00e4f8 248.6px,#00cfff 249.6px,#00b8ff 250.6px,#0083ff 252.6px,#0029ff 255.6px,#000fff 256.6px,#0000ff 257.6px,#0000eb 258.6px,#0000d1 259.6px,#000096 261.6px,#000082 262.6px,#000080 295.5px)"></i>
<i style="left:365px;width:9px;background:linear-gradient(#6fff88 9px,#6cff8b 37.9px,#7cff7b 65.9px,#8dff6a 88.9px,#a1ff56 105.8px,#c1ff36 122.8px,#edff0a 137.8px,#f9f300 139.8px,#ffec00 140.8px,#ffd400 143.8px,#ffc200 146.8px,#ffa900 152.7px,#ff8d00 162.7px,#ff7000 176.7px,#ff6800 186.7px,#ff6e00 198.7px,#ff8200 205.7px,#ff9400 209.7px,#ffc300 217.6px,#ffe300 221.6px,#feed00 222.6px,#f6f601 223.6px,#eeff09 224.6px,#bdff3a 231.6px,#aaff4d 233.6px,#7bff7b 237.6px,#4affad 242.6px,#1bffdc 246.6px,#0df6ea 247.6px,#00e4f8 248.6px,#00cfff 249.6px,#00b8ff 250.6px,#0083ff 252.6px,#0029ff 255.6px,#000fff 256.6px,#0000ff 257.6px,#0000eb 258.6px,#0000d1 259.6px,#000096 261.6px,#000082 262.6px,#000080 295.5px)"></i>
<i style="left:374px;width:9px;background:linear-gradient(#70ff86 9px,#70ff87 37.9px,#80ff77 65.9px,#92ff65 88.9px,#a6ff51 105.8px,#c4ff33 122.8px,#eeff08 137.8px,#faf200 139.8px,#ffeb00 140.8px,#ffc700 145.8px,#ffb800 148.8px,#ffa900 152.7px,#ff8d00 162.7px,#ff7000 176.7px,#ff6800 186.7px,#ff6e00 198.7px,#ff8200 205.7px,#ff9400 209.7px,#ffc300 217.6px,#ffe300 221.6px,#feed00 222.6px,#f6f601 223.6px,#eeff09 224.6px,#bdff3a 231.6px,#aaff4d 233.6px,#7bff7b 237.6px,#4affad 242.6px,#1bffdc 246.6px,#0df6ea 247.6px,#00e4f8 248.6px,#00cfff 249.6px,#00b8ff 250.6px,#0083ff 252.6px,#0029ff 255.6px,#000fff 256.6px,#0000ff 257.6px,#0000eb 258.6px,#0000d1 259.6px,#000096 261.6px,#000082 262.6px,#000080 295.5px)"></i>
<i style="left:383px;width:9px;background:linear-gradient(#71ff85 9px,#74ff83 37.9px,#84ff73 65.9px,#97ff60 88.9px,#acff4a 106.8px,#c7ff30 122.8px,#ecff0b 136.8px,#f0fe07 137.8px,#f5f802 138.8px,#ffe900 140.8px,#ffcc00 144.8px,#ffb800 148.8px,#ffa900 152.7px,#ff8d00 162.7px,#ff7000 176.7px,#ff6800 186.7px,#ff6e00 198.7px,#ff8200 205.7px,#ff9400 209.7px,#ffc300 217.6px,#ffe300 221.6px,#feed00 222.6px,#f6f601 223.6px,#eeff09 224.6px,#bdff3a 231.6px,#aaff4d 233.6px,#7bff7b 237.6px,#4affad 242.6px,#1bffdc 246.6px,#0df6ea 247.6px,#00e4f8 248.6px,#00cfff 249.6px,#00b8ff 250.6px,#0083ff 252.6px,#0029ff 255.6px,#000fff 256.6px,#0000ff 257.6px,#0000eb 258.6px,#0000d1 259.6px,#000096 261.6px,#000082 262.6px,#000080 295.5px)"></i>
<i style="left:392px;width:9px;background:linear-gradient(#72ff84 9px,#78ff7f 37.9px,#88ff6f 65.9px,#9cff5b 88.9px,#b1ff46 106.8px,#caff2d 122.8px,#edff0a 136.8px,#f6f601 138.8px,#ffe800 140.8px,#ffc600 145.8px,#ffa900 152.7px,#ff8d00 162.7px,#ff7000 176.7px,#ff6800 186.7px,#ff6e00 198.7px,#ff8200 205.7px,#ff9400 209.7px,#ffc300 217.6px,#ffe300 221.6px,#feed00 222.6px,#f6f601 223.6px,#eeff09 224.6px,#bdff3a 231.6px,#aaff4d 233.6px,#7bff7b 237.6px,#4affad 242.6px,#1bffdc 246.6px,#0df6ea 247.6px,#00e4f8 248.6px,#00cfff 249.6px,#00b8ff 250.6px,#0083ff 252.6px,#0029ff 255.6px,#000fff 256.6px,#0000ff 257.6px,#0000eb 258.6px,#0000d1 259.6px,#000096 261.6px,#000082 262.6px,#000080 295.5px)"></i>
<i style="left:401px;width:9px;background:linear-gradient(#73ff83 9px,#7dff7a 39.9px,#8cff6b 65.9px,#a0ff56 88.9px,#b4ff42 105.8px,#cdff2a 122.8px,#efff08 136.8px,#f7f500 138.8px,#ffe700 140.8px,#ffcb00 144.8px,#ffbc00 147.8px,#ffa900 152.7px,#ff8d00 162.7px,#ff7000 176.7px,#ff6800 186.7px,#ff6e00 198.7px,#ff8200 205.7px,#ff9400 209.7px,#ffc300 217.6px,#ffe300 221.6px,#feed00 222.6px,#f6f601 223.6px,#eeff09 224.6px,#bdff3a 231.6px,#aaff4d 233.6px,#7bff7b 237.6px,#4affad 242.6px,#1bffdc 246.6px,#0df6ea 247.6px,#00e4f8 248.6px,#00cfff 249.6px,#00b8ff 250.6px,#0083ff 252.6px,#0029ff 255.6px,#000fff 256.6px,#0000ff 257.6px,#0000eb 258.6px,#0000d1 259.6px,#000096 261.6px,#000082 262.6px,#000080 295.5px)"></i>
<i style="left:410px;width:9px;background:linear-gradient(#75ff81 9px,#85ff72 45.9px,#91ff66 65.9px,#a5ff51 88.9px,#b9ff3e 105.8px,#d0ff27 122.8px,#edff0a 135.8px,#f4f903 137.8px,#feed00 139.8px,#ffe600 140.8px,#ffca00 144.8px,#ffbc00 147.8px,#ffa900 152.7px,#ff9700 158.7px,#ff7000 176.7px,#ff6800 186.7px,#ff6e00 198.7px,#ff8200 205.7px,#ff9400 209.7px,#ffc300 217.6px,#ffe300 221.6px,#feed00 222.6px,#f6f601 223.6px,#eeff09 224.6px,#bdff3a 231.6px,#aaff4d 233.6px,#7bff7b 237.6px,#4affad 242.6px,#1bffdc 246.6px,#0df6ea 247.6px,#00e4f8 248.6px,#00cfff 249.6px,#00b8ff 250.6px,#0083ff 252.6px,#0029ff 255.6px,#000fff 256.6px,#0000ff 257.6px,#0000eb 258.6px,#0000d1 259.6px,#000096 261.6px,#000082 262.6px,#000080 295.5px)"></i>
<i style="left:419px;width:9px;background:linear-gradient(#77ff80 9px,#8bff6b 49.9px,#96ff61 65.9px,#aaff4d 88.9px,#beff39 106.8px,#d3ff24 122.8px,#efff08 135.8px,#f5f802 137.8px,#ffec00 139.8px,#ffd000 143.8px,#ffc000 146.8px,#ffa900 152.7px,#ff9700 158.7px,#ff7000 176.7px,#ff6800 186.7px,#ff6e00 198.7px,#ff8200 205.7px,#ff9400 209.7px,#ffc300 217.6px,#ffe300 221.6px,#feed00 222.6px,#f6f601 223.6px,#eeff09 224.6px,#bdff3a 231.6px,#aaff4d 233.6px,#7bff7b 237.6px,#4affad 242.6px,#1bffdc 246.6px,#0df6ea 247.6px,#00e4f8 248.6px,#00cfff 249.6px,#00b8ff 250.6px,#0083ff 252.6px,#0029ff 255.6px,#000fff 256.6px,#0000ff 257.6px,#0000eb 258.6px,#0000d1 259.6px,#000096 261.6px,#000082 262.6px,#000080 295.5px)"></i>
<i style="left:428px;width:9px;background:linear-gradient(#79ff7e 9px,#88ff6f 37.9px,#94ff62 56.9px,#afff48 88.9px,#c2ff35 106.8px,#d6ff21 122.8px,#eeff09 134.8px,#f6f600 137.8px,#ffeb00 139.8px,#ffcf00 143.8px,#ffc400 145.8px,#ffa900 152.7px,#ff9700 158.7px,#ff7000 176.7px,#ff6800 186.7px,#ff6e00 198.7px,#ff8200 205.7px,#ff9400 209.7px,#ffc300 217.6px,#ffe300 221.6px,#feed00 222.6px,#f6f601 223.6px,#eeff09 224.6px,#bdff3a 231.6px,#aaff4d 233.6px,#7bff7b 237.6px,#4affad 242.6px,#1bffdc 246.6px,#0df6ea 247.6px,#00e4f8 248.6px,#00cfff 249.6px,#00b8ff 250.6px,#0083ff 252.6px,#0029ff 255.6px,#000fff 256.6px,#0000ff 257.6px,#0000eb 258.6px,#0000d1 259.6px,#000096 261.6px,#000082 262.6px,#000080 295.5px)"></i>
<i style="left:437px;width:18px;background:linear-gradient(#7cff7b 9px,#8cff6a 37.9px,#a0ff57 64.9px,#b5ff41 88.9px,#daff1d 122.8px,#efff08 133.8px,#f5f802 136.8px,#ffe900 139.8px,#ffce00 143.8px,#ffc000 146.8px,#ffa900 152.7px,#ff9700 158.7px,#ff7000 176.7px,#ff6800 186.7px,#ff6e00 198.7px,#ff8200 205.7px,#ff9400 209.7px,#ffc300 217.6px,#ffe300 221.6px,#feed00 222.6px,#f6f601 223.6px,#eeff09 224.6px,#bdff3a 231.6px,#aaff4d 233.6px,#7bff7b 237.6px,#4affad 242.6px,#1bffdc 246.6px,#0df6ea 247.6px,#00e4f8 248.6px,#00cfff 249.6px,#00b8ff 250.6px,#0083ff 252.6px,#0029ff 255.6px,#000fff 256.6px,#0000ff 257.6px,#0000eb 258.6px,#0000d1 259.6px,#000096 261.6px,#000082 262.6px,#000080 295.5px)"></i>
<i style="left:455px;width:21px;background:linear-gradient(#7cff7b 9px,#91ff65 38.9px,#bbff3b 88.9px,#deff19 122.8px,#eeff08 131.8px,#f7f600 136.8px,#ffe700 139.8px,#ffc300 145.8px,#ffa900 152.7px,#ff9700 158.7px,#ff7000 176.7px,#ff6800 186.7px,#ff6e00 198.7px,#ff8200 205.7px,#ff9400 209.7px,#ffc300 217.6px,#ffe300 221.6px,#feed00 222.6px,#f6f601 223.6px,#eeff09 224.6px,#bdff3a 231.6px,#aaff4d 233.6px,#7bff7b 237.6px,#4affad 242.6px,#1bffdc 246.6px,#0df6ea 247.6px,#00e4f8 248.6px,#00cfff 249.6px,#00b8ff 250.6px,#0083ff 252.6px,#0029ff 255.6px,#000fff 256.6px,#0000ff 257.6px,#0000eb 258.6px,#0000d1 259.6px,#000096 261.6px,#000082 262.6px,#000080 295.5px)"></i>
<i style="left:476px;width:24px;background:linear-gradient(#7cff7b 9px,#d3ff24 107.8px,#e2ff15 122.8px,#effe08 129.8px,#f5f802 134.8px,#fcf000 137.8px,#ffeb00 138.8px,#ffc200 145.8px,#ffa900 152.7px,#ff9700 158.7px,#ff7000 176.7px,#ff6800 186.7px,#ff6e00 198.7px,#ff8200 205.7px,#ff9400 209.7px,#ffc300 217.6px,#ffe300 221.6px,#feed00 222.6px,#f6f601 223.6px,#eeff09 224.6px,#bdff3a 231.6px,#aaff4d 233.6px,#7bff7b 237.6px,#4affad 242.6px,#1bffdc 246.6px,#0df6ea 247.6px,#00e4f8 248.6px,#00cfff 249.6px,#00b8ff 250.6px,#0083ff 252.6px,#0029ff 255.6px,#000fff 256.6px,#0000ff 257.6px,#0000eb 258.6px,#0000d1 259.6px,#000096 261.6px,#000082 262.6px,#000080 295.5px)"></i>
<i style="left:500px;width:21px;background:linear-gradient(#7cff7b 9px,#9bff5c 37.9px,#e5ff12 122.8px,#eeff09 127.8px,#f6f600 134.8px,#fdee00 137.8px,#ffc600 144.8px,#ffa900 152.7px,#ff9700 158.7px,#ff7000 176.7px,#ff6800 186.7px,#ff6e00 198.7px,#ff8200 205.7px,#ff9400 209.7px,#ffc300 217.6px,#ffe300 221.6px,#feed00 222.6px,#f6f601 223.6px,#eeff09 224.6px,#bdff3a 231.6px,#aaff4d 233.6px,#7bff7b 237.6px,#4affad 242.6px,#1bffdc 246.6px,#0df6ea 247.6px,#00e4f8 248.6px,#00cfff 249.6px,#00b8ff 250.6px,#0083ff 252.6px,#0029ff 255.6px,#000fff 256.6px,#0000ff 257.6px,#0000eb 258.6px,#0000d1 259.6px,#000096 261.6px,#000082 262.6px,#000080 295.5px)"></i>
<i style="left:521px;width:3px;background:linear-gradient(#78ff7f 9px,#9dff5a 38.9px,#caff2c 89.9px,#d6ff21 105.8px,#e7ff10 123.8px,#edff09 126.8px,#f7f500 134.8px,#feee00 137.8px,#ffc600 144.8px,#ffa900 152.7px,#ff9700 158.7px,#ff7000 176.7px,#ff6800 186.7px,#ff6e00 198.7px,#ff8200 205.7px,#ff9400 209.7px,#ffc300 217.6px,#ffe300 221.6px,#feed00 222.6px,#f6f601 223.6px,#eeff09 224.6px,#bdff3a 231.6px,#aaff4d 233.6px,#7bff7b 237.6px,#4affad 242.6px,#1bffdc 246.6px,#0df6ea 247.6px,#00e4f8 248.6px,#00cfff 249.6px,#00b8ff 250.6px,#0083ff 252.6px,#0029ff 255.6px,#000fff 256.6px,#0000ff 257.6px,#0000eb 258.6px,#0000d1 259.6px,#000096 261.6px,#000082 262.6px,#000080 295.5px)"></i>
<i style="left:524px;width:3px;background:linear-gradient(#74ff82 9px,#9bff5c 37.9px,#c4ff32 82.9px,#e6ff11 122.8px,#eeff09 126.8px,#f7f500 134.8px,#feee00 137.8px,#ffc600 144.8px,#ffa900 152.7px,#ff9700 158.7px,#ff7000 176.7px,#ff6800 186.7px,#ff6e00 198.7px,#ff8200 205.7px,#ff9400 209.7px,#ffc300 217.6px,#ffe300 221.6px,#feed00 222.6px,#f6f601 223.6px,#eeff09 224.6px,#bdff3a 231.6px,#aaff4d 233.6px,#7bff7b 237.6px,#4affad 242.6px,#1bffdc 246.6px,#0df6ea 247.6px,#00e4f8 248.6px,#00cfff 249.6px,#00b8ff 250.6px,#0083ff 252.6px,#0029ff 255.6px,#000fff 256.6px,#0000ff 257.6px,#0000eb 258.6px,#0000d1 259.6px,#000096 261.6px,#000082 262.6px,#000080 295.5px)"></i>
<i style="left:527px;width:3px;background:linear-gradient(#71ff86 9px,#9aff5d 37.9px,#c4ff33 81.9px,#dbff1b 110.8px,#e6ff10 122.8px,#eeff09 126.8px,#f3f903 130.8px,#fbf100 136.8px,#ffe900 138.8px,#ffc600 144.8px,#ffa900 152.7px,#ff9700 158.7px,#ff7000 176.7px,#ff6800 186.7px,#ff6e00 198.7px,#ff8200 205.7px,#ff9400 209.7px,#ffc300 217.6px,#ffe300 221.6px,#feed00 222.6px,#f6f601 223.6px,#eeff09 224.6px,#bdff3a 231.6px,#aaff4d 233.6px,#7bff7b 237.6px,#4affad 242.6px,#1bffdc 246.6px,#0df6ea 247.6px,#00e4f8 248.6px,#00cfff 249.6px,#00b8ff 250.6px,#0083ff 252.6px,#0029ff 255.6px,#000fff 256.6px,#0000ff 257.6px,#0000eb 258.6px,#0000d1 259.6px,#000096 261.6px,#000082 262.6px,#000080 295.5px)"></i>
<i style="left:530px;width:3px;background:linear-gradient(#6eff89 9px,#99ff5e 37.9px,#c7ff30 84.9px,#e0ff16 115.8px,#e8ff0f 123.8px,#eeff09 126.8px,#f6f600 133.8px,#fbf100 136.8px,#ffe900 138.8px,#ffc600 144.8px,#ffa900 152.7px,#ff9700 158.7px,#ff7000 176.7px,#ff6800 186.7px,#ff6e00 198.7px,#ff8200 205.7px,#ff9400 209.7px,#ffc300 217.6px,#ffe300 221.6px,#feed00 222.6px,#f6f601 223.6px,#eeff09 224.6px,#bdff3a 231.6px,#aaff4d 233.6px,#7bff7b 237.6px,#4affad 242.6px,#1bffdc 246.6px,#0df6ea 247.6px,#00e4f8 248.6px,#00cfff 249.6px,#00b8ff 250.6px,#0083ff 252.6px,#0029ff 255.6px,#000fff 256.6px,#0000ff 257.6px,#0000eb 258.6px,#0000d1 259.6px,#000096 261.6px,#000082 262.6px,#000080 295.5px)"></i>
<i style="left:533px;width:3px;background:linear-gradient(#6aff8d 9px,#98ff5e 37.9px,#cbff2c 88.9px,#e3ff13 118.8px,#eeff09 126.8px,#f7f600 133.8px,#fbf000 136.8px,#ffe900 138.8px,#ffc600 144.8px,#ffa900 152.7px,#ff9700 158.7px,#ff7000 176.7px,#ff6800 186.7px,#ff6e00 198.7px,#ff8200 205.7px,#ff9400 209.7px,#ffc300 217.6px,#ffe300 221.6px,#feed00 222.6px,#f6f601 223.6px,#eeff09 224.6px,#bdff3a 231.6px,#aaff4d 233.6px,#7bff7b 237.6px,#4affad 242.6px,#1bffdc 246.6px,#0df6ea 247.6px,#00e4f8 248.6px,#00cfff 249.6px,#00b8ff 250.6px,#0083ff 252.6px,#0029ff 255.6px,#000fff 256.6px,#0000ff 257.6px,#0000eb 258.6px,#0000d1 259.6px,#000096 261.6px,#000082 262.6px,#000080 295.5px)"></i>
<i style="left:536px;width:3px;background:linear-gradient(#67ff90 9px,#98ff5f 37.9px,#ccff2b 89.9px,#e7ff10 122.8px,#eeff08 126.8px,#f7f600 133.8px,#feed00 137.8px,#ffc600 144.8px,#ffa900 152.7px,#ff9700 158.7px,#ff7000 176.7px,#ff6800 186.7px,#ff6e00 198.7px,#ff8200 205.7px,#ff9400 209.7px,#ffc300 217.6px,#ffe300 221.6px,#feed00 222.6px,#f6f601 223.6px,#eeff09 224.6px,#bdff3a 231.6px,#aaff4d 233.6px,#7bff7b 237.6px,#4affad 242.6px,#1bffdc 246.6px,#0df6ea 247.6px,#00e4f8 248.6px,#00cfff 249.6px,#00b8ff 250.6px,#0083ff 252.6px,#0029ff 255.6px,#000fff 256.6px,#0000ff 257.6px,#0000eb 258.6px,#0000d1 259.6px,#000096 261.6px,#000082 262.6px,#000080 295.5px)"></i>
<i style="left:539px;width:3px;background:linear-gradient(#63ff93 9px,#98ff5f 38.9px,#c3ff33 80.9px,#e7ff0f 122.8px,#efff08 126.8px,#f7f500 133.8px,#feed00 137.8px,#ffc600 144.8px,#ffa900 152.7px,#ff9700 158.7px,#ff7000 176.7px,#ff6800 186.7px,#ff6e00 198.7px,#ff8200 205.7px,#ff9400 209.7px,#ffc300 217.6px,#ffe300 221.6px,#feed00 222.6px,#f6f601 223.6px,#eeff09 224.6px,#bdff3a 231.6px,#aaff4d 233.6px,#7bff7b 237.6px,#4affad 242.6px,#1bffdc 246.6px,#0df6ea 247.6px,#00e4f8 248.6px,#00cfff 249.6px,#00b8ff 250.6px,#0083ff 252.6px,#0029ff 255.6px,#000fff 256.6px,#0000ff 257.6px,#0000eb 258.6px,#0000d1 259.6px,#000096 261.6px,#000082 262.6px,#000080 295.5px)"></i>
<i style="left:542px;width:6px;background:linear-gradient(#5eff98 9px,#96ff61 37.9px,#b4ff43 64.9px,#ccff2b 88.9px,#e6ff11 120.8px,#effe08 126.8px,#f4f802 130.8px,#f8f400 134.8px,#feed00 137.8px,#ffc600 144.8px,#ffa900 152.7px,#ff9700 158.7px,#ff7000 176.7px,#ff6800 186.7px,#ff6e00 198.7px,#ff8200 205.7px,#ff9400 209.7px,#ffc300 217.6px,#ffe300 221.6px,#feed00 222.6px,#f6f601 223.6px,#eeff09 224.6px,#bdff3a 231.6px,#aaff4d 233.6px,#7bff7b 237.6px,#4affad 242.6px,#1bffdc 246.6px,#0df6ea 247.6px,#00e4f8 248.6px,#00cfff 249.6px,#00b8ff 250.6px,#0083ff 252.6px,#0029ff 255.6px,#000fff 256.6px,#0000ff 257.6px,#0000eb 258.6px,#0000d1 259.6px,#000096 261.6px,#000082 262.6px,#000080 295.5px)"></i>
<i style="left:548px;width:3px;background:linear-gradient(#58ff9f 9px,#95ff62 38.9px,#bcff3b 72.9px,#cdff2a 89.9px,#e8ff0f 122.8px,#edff09 125.8px,#f6f600 132.8px,#ffed00 137.8px,#ffc100 145.8px,#ffa900 152.7px,#ff8d00 162.7px,#ff7000 176.7px,#ff6800 186.7px,#ff6e00 198.7px,#ff8200 205.7px,#ff9400 209.7px,#ffc300 217.6px,#ffe300 221.6px,#feed00 222.6px,#f6f601 223.6px,#eeff09 224.6px,#bdff3a 231.6px,#aaff4d 233.6px,#7bff7b 237.6px,#4affad 242.6px,#1bffdc 246.6px,#0df6ea 247.6px,#00e4f8 248.6px,#00cfff 249.6px,#00b8ff 250.6px,#0083ff 252.6px,#0029ff 255.6px,#000fff 256.6px,#0000ff 257.6px,#0000eb 258.6px,#0000d1 259.6px,#000096 261.6px,#000082 262.6px,#000080 295.5px)"></i>
<i style="left:551px;width:3px;background:linear-gradient(#52ffa5 9px,#92ff65 37.9px,#c1ff36 77.9px,#e8ff0e 122.8px,#eeff09 125.8px,#f6f600 132.8px,#fcf000 136.8px,#ffed00 137.8px,#ffc100 145.8px,#ffa900 152.7px,#ff8d00 162.7px,#ff7000 176.7px,#ff6800 186.7px,#ff6e00 198.7px,#ff8200 205.7px,#ff9400 209.7px,#ffc300 217.6px,#ffe300 221.6px,#feed00 222.6px,#f6f601 223.6px,#eeff09 224.6px,#bdff3a 231.6px,#aaff4d 233.6px,#7bff7b 237.6px,#4affad 242.6px,#1bffdc 246.6px,#0df6ea 247.6px,#00e4f8 248.6px,#00cfff 249.6px,#00b8ff 250.6px,#0083ff 252.6px,#0029ff 255.6px,#000fff 256.6px,#0000ff 257.6px,#0000eb 258.6px,#0000d1 259.6px,#000096 261.6px,#000082 262.6px,#000080 295.5px)"></i>
<i style="left:554px;width:3px;background:linear-gradient(#4cffab 9px,#68ff8e 20px,#90ff66 37.9px,#bfff37 76.9px,#cfff28 91.9px,#e4ff13 117.8px,#eeff09 125.8px,#f7f600 132.8px,#fcf000 136.8px,#ffec00 137.8px,#ffc100 145.8px,#ffa900 152.7px,#ff8d00 162.7px,#ff7000 176.7px,#ff6800 186.7px,#ff6e00 198.7px,#ff8200 205.7px,#ff9400 209.7px,#ffc300 217.6px,#ffe300 221.6px,#feed00 222.6px,#f6f601 223.6px,#eeff09 224.6px,#bdff3a 231.6px,#aaff4d 233.6px,#7bff7b 237.6px,#4affad 242.6px,#1bffdc 246.6px,#0df6ea 247.6px,#00e4f8 248.6px,#00cfff 249.6px,#00b8ff 250.6px,#0083ff 252.6px,#0029ff 255.6px,#000fff 256.6px,#0000ff 257.6px,#0000eb 258.6px,#0000d1 259.6px,#000096 261.6px,#000082 262.6px,#000080 295.5px)"></i>
<i style="left:557px;width:3px;background:linear-gradient(#46ffb1 9px,#68ff8f 21px,#90ff67 38.9px,#b2ff45 64.9px,#ccff2a 88.9px,#dcff1b 108.8px,#eeff09 125.8px,#f7f600 132.8px,#fcef00 136.8px,#ffe300 139.8px,#ffca00 143.8px,#ffc100 145.8px,#ffa900 152.7px,#ff8d00 162.7px,#ff7000 176.7px,#ff6800 186.7px,#ff6e00 198.7px,#ff8200 205.7px,#ff9400 209.7px,#ffc300 217.6px,#ffe300 221.6px,#feed00 222.6px,#f6f601 223.6px,#eeff09 224.6px,#bdff3a 231.6px,#aaff4d 233.6px,#7bff7b 237.6px,#4affad 242.6px,#1bffdc 246.6px,#0df6ea 247.6px,#00e4f8 248.6px,#00cfff 249.6px,#00b8ff 250.6px,#0083ff 252.6px,#0029ff 255.6px,#000fff 256.6px,#0000ff 257.6px,#0000eb 258.6px,#0000d1 259.6px,#000096 261.6px,#000082 262.6px,#000080 295.5px)"></i>
<i style="left:560px;width:3px;background:linear-gradient(#3fffb7 9px,#62ff95 20px,#8eff69 38.9px,#b4ff43 66.9px,#cbff2b 87.9px,#dcff1b 108.8px,#eeff09 125.8px,#f7f500 132.8px,#ffec00 137.8px,#ffc100 145.8px,#ffa900 152.7px,#ff8d00 162.7px,#ff7000 176.7px,#ff6800 186.7px,#ff6e00 198.7px,#ff8200 205.7px,#ff9400 209.7px,#ffc300 217.6px,#ffe300 221.6px,#feed00 222.6px,#f6f601 223.6px,#eeff09 224.6px,#bdff3a 231.6px,#aaff4d 233.6px,#7bff7b 237.6px,#4affad 242.6px,#1bffdc 246.6px,#0df6ea 247.6px,#00e4f8 248.6px,#00cfff 249.6px,#00b8ff 250.6px,#0083ff 252.6px,#0029ff 255.6px,#000fff 256.6px,#0000ff 257.6px,#0000eb 258.6px,#0000d1 259.6px,#000096 261.6px,#000082 262.6px,#000080 295.5px)"></i>
<i style="left:563px;width:3px;background:linear-gradient(#39ffbd 9px,#61ff96 21px,#8bff6c 37.9px,#b1ff46 64.9px,#cdff2a 88.9px,#daff1c 106.8px,#e9ff0e 122.8px,#eeff09 125.8px,#f7f500 132.8px,#ffec00 137.8px,#ffc100 145.8px,#ffa900 152.7px,#ff8d00 162.7px,#ff7000 176.7px,#ff6800 186.7px,#ff6e00 198.7px,#ff8200 205.7px,#ff9400 209.7px,#ffc300 217.6px,#ffe300 221.6px,#feed00 222.6px,#f6f601 223.6px,#eeff09 224.6px,#bdff3a 231.6px,#aaff4d 233.6px,#7bff7b 237.6px,#4affad 242.6px,#1bffdc 246.6px,#0df6ea 247.6px,#00e4f8 248.6px,#00cfff 249.6px,#00b8ff 250.6px,#0083ff 252.6px,#0029ff 255.6px,#000fff 256.6px,#0000ff 257.6px,#0000eb 258.6px,#0000d1 259.6px,#000096 261.6px,#000082 262.6px,#000080 295.5px)"></i>
<i style="left:566px;width:3px;background:linear-gradient(#33ffc3 9px,#5eff99 21px,#89ff6d 37.9px,#b2ff45 65.9px,#ccff2b 87.9px,#ddff1a 109.8px,#e9ff0e 122.8px,#eeff08 125.8px,#f5f701 130.8px,#f9f300 134.8px,#ffec00 137.8px,#ffc100 145.8px,#ffa900 152.7px,#ff8d00 162.7px,#ff7000 176.7px,#ff6800 186.7px,#ff6e00 198.7px,#ff8200 205.7px,#ff9400 209.7px,#ffc300 217.6px,#ffe300 221.6px,#feed00 222.6px,#f6f601 223.6px,#eeff09 224.6px,#bdff3a 231.6px,#aaff4d 233.6px,#7bff7b 237.6px,#4affad 242.6px,#1bffdc 246.6px,#0df6ea 247.6px,#00e4f8 248.6px,#00cfff 249.6px,#00b8ff 250.6px,#0083ff 252.6px,#0029ff 255.6px,#000fff 256.6px,#0000ff 257.6px,#0000eb 258.6px,#0000d1 259.6px,#000096 261.6px,#000082 262.6px,#000080 295.5px)"></i>
<i style="left:569px;width:3px;background:linear-gradient(#2dffca 9px,#57ff9f 20px,#89ff6e 38.9px,#b0ff47 64.9px,#c9ff2d 85.9px,#ddff1a 109.8px,#e9ff0d 122.8px,#efff08 125.8px,#f6f600 131.8px,#ffec00 137.8px,#ffc100 145.8px,#ffa900 152.7px,#ff8d00 162.7px,#ff7000 176.7px,#ff6800 186.7px,#ff6e00 198.7px,#ff8200 205.7px,#ff9400 209.7px,#ffc300 217.6px,#ffe300 221.6px,#feed00 222.6px,#f6f601 223.6px,#eeff09 224.6px,#bdff3a 231.6px,#aaff4d 233.6px,#7bff7b 237.6px,#4affad 242.6px,#1bffdc 246.6px,#0df6ea 247.6px,#00e4f8 248.6px,#00cfff 249.6px,#00b8ff 250.6px,#0083ff 252.6px,#0029ff 255.6px,#000fff 256.6px,#0000ff 257.6px,#0000eb 258.6px,#0000d1 259.6px,#000096 261.6px,#000082 262.6px,#000080 295.5px)"></i>
<i style="left:572px;width:3px;background:linear-gradient(#27ffd0 9px,#54ffa3 20px,#86ff71 37.9px,#b1ff46 65.9px,#caff2d 85.9px,#daff1c 106.8px,#efff08 125.8px,#f6f600 131.8px,#ffec00 137.8px,#ffc100 145.8px,#ffa900 152.7px,#ff8d00 162.7px,#ff7000 176.7px,#ff6800 186.7px,#ff6e00 198.7px,#ff8200 205.7px,#ff9400 209.7px,#ffc300 217.6px,#ffe300 221.6px,#feed00 222.6px,#f6f601 223.6px,#eeff09 224.6px,#bdff3a 231.6px,#aaff4d 233.6px,#7bff7b 237.6px,#4affad 242.6px,#1bffdc 246.6px,#0df6ea 247.6px,#00e4f8 248.6px,#00cfff 249.6px,#00b8ff 250.6px,#0083ff 252.6px,#0029ff 255.6px,#000fff 256.6px,#0000ff 257.6px,#0000eb 258.6px,#0000d1 259.6px,#000096 261.6px,#000082 262.6px,#000080 295.5px)"></i>
<i style="left:575px;width:9px;background:linear-gradient(#25ffd2 9px,#54ffa2 21px,#83ff74 37.9px,#b0ff47 65.9px,#cbff2c 86.9px,#daff1c 106.8px,#efff08 125.8px,#f7f600 131.8px,#ffec00 137.8px,#ffc100 145.8px,#ffa900 152.7px,#ff8d00 162.7px,#ff7000 176.7px,#ff6800 186.7px,#ff6e00 198.7px,#ff8200 205.7px,#ff9400 209.7px,#ffc300 217.6px,#ffe300 221.6px,#feed00 222.6px,#f6f601 223.6px,#eeff09 224.6px,#bdff3a 231.6px,#aaff4d 233.6px,#7bff7b 237.6px,#4affad 242.6px,#1bffdc 246.6px,#0df6ea 247.6px,#00e4f8 248.6px,#00cfff 249.6px,#00b8ff 250.6px,#0083ff 252.6px,#0029ff 255.6px,#000fff 256.6px,#0000ff 257.6px,#0000eb 258.6px,#0000d1 259.6px,#000096 261.6px,#000082 262.6px,#000080 295.5px)"></i>
<i style="left:584px;width:6px;background:linear-gradient(#2affcd 9px,#51ffa5 20px,#80ff76 37.9px,#b0ff47 66.9px,#ccff2a 88.9px,#daff1c 106.8px,#efff08 125.8px,#f7f600 131.8px,#ffec00 137.8px,#ffc100 145.8px,#ffa900 152.7px,#ff8d00 162.7px,#ff7000 176.7px,#ff6800 186.7px,#ff6e00 198.7px,#ff8200 205.7px,#ff9400 209.7px,#ffc300 217.6px,#ffe300 221.6px,#feed00 222.6px,#f6f601 223.6px,#eeff09 224.6px,#bdff3a 231.6px,#aaff4d 233.6px,#7bff7b 237.6px,#4affad 242.6px,#1bffdc 246.6px,#0df6ea 247.6px,#00e4f8 248.6px,#00cfff 249.6px,#00b8ff 250.6px,#0083ff 252.6px,#0029ff 255.6px,#000fff 256.6px,#0000ff 257.6px,#0000eb 258.6px,#0000d1 259.6px,#000096 261.6px,#000082 262.6px,#000080 295.5px)"></i>
<i style="left:590px;width:12px;background:linear-gradient(#30ffc6 9px,#51ffa5 20px,#7bff7c 37px,#adff4a 65.9px,#ccff2b 88.9px,#daff1c 106.8px,#efff08 125.8px,#f7f600 131.8px,#ffec00 137.8px,#ffc100 145.8px,#ffa900 152.7px,#ff8d00 162.7px,#ff7000 176.7px,#ff6800 186.7px,#ff6e00 198.7px,#ff8200 205.7px,#ff9400 209.7px,#ffc300 217.6px,#ffe300 221.6px,#feed00 222.6px,#f6f601 223.6px,#eeff09 224.6px,#bdff3a 231.6px,#aaff4d 233.6px,#7bff7b 237.6px,#4affad 242.6px,#1bffdc 246.6px,#0df6ea 247.6px,#00e4f8 248.6px,#00cfff 249.6px,#00b8ff 250.6px,#0083ff 252.6px,#0029ff 255.6px,#000fff 256.6px,#0000ff 257.6px,#0000eb 258.6px,#0000d1 259.6px,#000096 261.6px,#000082 262.6px,#000080 295.5px)"></i>
<i style="left:602px;width:18px;background:linear-gradient(#36ffc1 9px,#78ff7f 37.9px,#a8ff4f 65.9px,#caff2c 88.9px,#daff1c 106.8px,#efff08 125.8px,#f7f600 131.8px,#ffec00 137.8px,#ffc100 145.8px,#ffa900 152.7px,#ff8d00 162.7px,#ff7000 176.7px,#ff6800 186.7px,#ff6e00 198.7px,#ff8200 205.7px,#ff9400 209.7px,#ffc300 217.6px,#ffe300 221.6px,#feed00 222.6px,#f6f601 223.6px,#eeff09 224.6px,#bdff3a 231.6px,#aaff4d 233.6px,#7bff7b 237.6px,#4affad 242.6px,#1bffdc 246.6px,#0df6ea 247.6px,#00e4f8 248.6px,#00cfff 249.6px,#00b8ff 250.6px,#0083ff 252.6px,#0029ff 255.6px,#000fff 256.6px,#0000ff 257.6px,#0000eb 258.6px,#0000d1 259.6px,#000096 261.6px,#000082 262.6px,#000080 295.5px)"></i>
<i style="left:620px;width:24px;background:linear-gradient(#3affbd 9px,#4cffab 21px,#74ff83 37.9px,#c9ff2e 88.9px,#e9ff0d 122.8px,#efff08 125.8px,#f6f600 131.8px,#ffec00 137.8px,#ffc100 145.8px,#ffa900 152.7px,#ff8d00 162.7px,#ff7000 176.7px,#ff6800 186.7px,#ff6e00 198.7px,#ff8200 205.7px,#ff9400 209.7px,#ffc300 217.6px,#ffe300 221.6px,#feed00 222.6px,#f6f601 223.6px,#eeff09 224.6px,#bdff3a 231.6px,#aaff4d 233.6px,#7bff7b 237.6px,#4affad 242.6px,#1bffdc 246.6px,#0df6ea 247.6px,#00e4f8 248.6px,#00cfff 249.6px,#00b8ff 250.6px,#0083ff 252.6px,#0029ff 255.6px,#000fff 256.6px,#0000ff 257.6px,#0000eb 258.6px,#0000d1 259.6px,#000096 261.6px,#000082 262.6px,#000080 295.5px)"></i>
<i style="left:644px;width:24px;background:linear-gradient(#39ffbe 9px,#4affac 20px,#73ff84 37.9px,#c8ff2f 88.9px,#e8ff0e 122.8px,#eeff09 125.8px,#f6f600 132.8px,#fcf000 136.8px,#ffe300 139.8px,#ffd000 142.8px,#ffc100 145.8px,#ffa900 152.7px,#ff8d00 162.7px,#ff7000 176.7px,#ff6800 186.7px,#ff6e00 198.7px,#ff8200 205.7px,#ff9400 209.7px,#ffc300 217.6px,#ffe300 221.6px,#feed00 222.6px,#f6f601 223.6px,#eeff09 224.6px,#bdff3a 231.6px,#aaff4d 233.6px,#7bff7b 237.6px,#4affad 242.6px,#1bffdc 246.6px,#0df6ea 247.6px,#00e4f8 248.6px,#00cfff 249.6px,#00b8ff 250.6px,#0083ff 252.6px,#0029ff 255.6px,#000fff 256.6px,#0000ff 257.6px,#0000eb 258.6px,#0000d1 259.6px,#000096 261.6px,#000082 262.6px,#000080 295.5px)"></i>
<i style="left:668px;width:24px;background:linear-gradient(#38ffbf 9px,#4bffac 20px,#72ff85 37.9px,#c7ff30 88.9px,#e7ff0f 122.8px,#efff08 126.8px,#f7f500 133.8px,#feed00 137.8px,#ffc600 144.8px,#ffa900 152.7px,#ff9700 158.7px,#ff7000 176.7px,#ff6800 186.7px,#ff6e00 198.7px,#ff8200 205.7px,#ff9400 209.7px,#ffc300 217.6px,#ffe300 221.6px,#feed00 222.6px,#f6f601 223.6px,#eeff09 224.6px,#bdff3a 231.6px,#aaff4d 233.6px,#7bff7b 237.6px,#4affad 242.6px,#1bffdc 246.6px,#0df6ea 247.6px,#00e4f8 248.6px,#00cfff 249.6px,#00b8ff 250.6px,#0083ff 252.6px,#0029ff 255.6px,#000fff 256.6px,#0000ff 257.6px,#0000eb 258.6px,#0000d1 259.6px,#000096 261.6px,#000082 262.6px,#000080 295.5px)"></i>
<i style="left:692px;width:24px;background:linear-gradient(#37ffc0 9px,#71ff86 37.9px,#c6ff31 88.9px,#e6ff10 122.8px,#eeff09 126.8px,#f6f601 133.8px,#fbf100 136.8px,#ffe900 138.8px,#ffc600 144.8px,#ffa900 152.7px,#ff9700 158.7px,#ff7000 176.7px,#ff6800 186.7px,#ff6e00 198.7px,#ff8200 205.7px,#ff9400 209.7px,#ffc300 217.6px,#ffe300 221.6px,#feed00 222.6px,#f6f601 223.6px,#eeff09 224.6px,#bdff3a 231.6px,#aaff4d 233.6px,#7bff7b 237.6px,#4affad 242.6px,#1bffdc 246.6px,#0df6ea 247.6px,#00e4f8 248.6px,#00cfff 249.6px,#00b8ff 250.6px,#0083ff 252.6px,#0029ff 255.6px,#000fff 256.6px,#0000ff 257.6px,#0000eb 258.6px,#0000d1 259.6px,#000096 261.6px,#000082 262.6px,#000080 295.5px)"></i>
<i style="left:716px;width:14px;background:linear-gradient(#36ffc1 9px,#70ff87 37.9px,#9cff5b 65.9px,#c3ff33 87.9px,#e7ff10 123.8px,#efff08 127.8px,#f7f500 134.8px,#fdee00 137.8px,#ffc600 144.8px,#ffa900 152.7px,#ff9700 158.7px,#ff7000 176.7px,#ff6800 186.7px,#ff6e00 198.7px,#ff8200 205.7px,#ff9400 209.7px,#ffc300 217.6px,#ffe300 221.6px,#feed00 222.6px,#f6f601 223.6px,#eeff09 224.6px,#bdff3a 231.6px,#aaff4d 233.6px,#7bff7b 237.6px,#4affad 242.6px,#1bffdc 246.6px,#0df6ea 247.6px,#00e4f8 248.6px,#00cfff 249.6px,#00b8ff 250.6px,#0083ff 252.6px,#0029ff 255.6px,#000fff 256.6px,#0000ff 257.6px,#0000eb 258.6px,#0000d1 259.6px,#000096 261.6px,#000082 262.6px,#000080 295.5px)"></i></div></div>
<svg width="2000" height="1100" viewBox="0 0 2000 1100" style="position:absolute;left:0;top:0;will-change:transform" font-family="'Liberation Sans', sans-serif">
<defs>
<clipPath id="c1"><rect x="200" y="110" width="714" height="345"/></clipPath>
<clipPath id="c2"><rect x="200" y="478" width="714" height="344"/></clipPath>
<clipPath id="c3"><rect x="200" y="845" width="714" height="172"/></clipPath>
<clipPath id="d1"><rect x="1205" y="110" width="595" height="345"/></clipPath>
<clipPath id="d2"><rect x="1205" y="478" width="595" height="344"/></clipPath>
<clipPath id="d3"><rect x="1205" y="845" width="595" height="172"/></clipPath>
<linearGradient id="jet" x1="0" y1="0" x2="0" y2="1"><stop offset="0" stop-color="#800000"/><stop offset="0.09" stop-color="#e80000"/><stop offset="0.11" stop-color="#ff1300"/><stop offset="0.34" stop-color="#ffec00"/><stop offset="0.35" stop-color="#f7f600"/><stop offset="0.36" stop-color="#efff08"/><stop offset="0.5" stop-color="#7bff7b"/><stop offset="0.625" stop-color="#15ffe2"/><stop offset="0.65" stop-color="#00e5f7"/><stop offset="0.66" stop-color="#00dbff"/><stop offset="0.875" stop-color="#0000ff"/><stop offset="0.89" stop-color="#0000ff"/><stop offset="1" stop-color="#000080"/></linearGradient>
</defs>
<rect x="200" y="110" width="714" height="57.5" fill="#d3d3d3"/>
<path d="M192.2 220.7C192.8 219.9 194.7 217.3 196.2 215.9C197.6 214.5 198.7 213.3 200.9 212.5C203.1 211.7 207 212.3 209.1 211.1C211.2 209.8 211.8 207.6 213.2 205C214.6 202.4 215.9 197.6 217.3 195.5C218.7 193.4 220 192.8 221.4 192.5C222.8 192.2 224.2 193.6 225.5 194C226.8 194.4 227.5 195.4 228.9 195.2C230.3 195 232.3 193.2 233.7 192.7C235.1 192.2 236 191.7 237.1 192.2C238.2 192.7 239.4 193.8 240.5 195.7C241.6 197.6 242.8 201.5 243.9 203.6C245 205.7 246.1 207.2 247.3 208.4C248.6 209.6 249.8 210.2 251.4 210.7C253 211.1 255.3 210.2 256.9 211.1C258.5 212 259.6 214.4 261 215.9C262.4 217.4 263.6 219.1 265 220C266.4 220.9 267.3 221.1 269.1 221.4C270.9 221.7 273.8 221.7 275.9 221.6C277.9 221.5 279.8 221.6 281.4 220.7C283 219.8 283.9 217.3 285.4 215.9C286.9 214.5 288 213.3 290.1 212.5C292.3 211.7 296.3 212.3 298.3 211.1C300.4 209.8 301.1 207.6 302.4 205C303.8 202.4 305.2 197.6 306.5 195.5C307.9 193.4 309.3 192.8 310.6 192.5C312 192.2 313.5 193.6 314.8 194C316 194.4 316.8 195.4 318.1 195.2C319.5 195 321.6 193.2 322.9 192.7C324.3 192.2 325.2 191.7 326.3 192.2C327.5 192.7 328.6 193.8 329.8 195.7C330.9 197.6 332 201.5 333.1 203.6C334.3 205.7 335.3 207.2 336.5 208.4C337.8 209.6 339 210.2 340.6 210.7C342.2 211.1 344.5 210.2 346.1 211.1C347.8 212 348.9 214.4 350.2 215.9C351.6 217.4 352.9 219.1 354.2 220C355.6 220.9 356.5 221.1 358.3 221.4C360.2 221.7 363.1 221.7 365.1 221.6C367.2 221.5 369.1 221.6 370.6 220.7C372.2 219.8 373.2 217.3 374.6 215.9C376.1 214.5 377.2 213.3 379.4 212.5C381.6 211.7 385.5 212.3 387.6 211.1C389.6 209.8 390.3 207.6 391.7 205C393.1 202.4 394.4 197.6 395.8 195.5C397.2 193.4 398.5 192.8 399.9 192.5C401.3 192.2 402.8 193.6 404 194C405.2 194.4 406 195.4 407.4 195.2C408.8 195 410.8 193.2 412.2 192.7C413.6 192.2 414.5 191.7 415.6 192.2C416.7 192.7 417.9 193.8 419 195.7C420.1 197.6 421.3 201.5 422.4 203.6C423.5 205.7 424.5 207.2 425.8 208.4C427 209.6 428.3 210.2 429.9 210.7C431.5 211.1 433.8 210.2 435.4 211.1C437 212 438.1 214.4 439.5 215.9C440.9 217.4 442.1 219.1 443.5 220C444.9 220.9 445.8 221.1 447.6 221.4C449.4 221.7 452.3 221.7 454.4 221.6C456.4 221.5 458.3 221.6 459.9 220.7C461.5 219.8 462.4 217.3 463.9 215.9C465.4 214.5 466.5 213.3 468.6 212.5C470.8 211.7 474.8 212.3 476.8 211.1C478.9 209.8 479.6 207.6 480.9 205C482.3 202.4 483.7 197.6 485 195.5C486.4 193.4 487.8 192.8 489.1 192.5C490.5 192.2 492 193.6 493.2 194C494.5 194.4 495.3 195.4 496.6 195.2C498 195 500.1 193.2 501.4 192.7C502.8 192.2 503.7 191.7 504.8 192.2C506 192.7 507.1 193.8 508.2 195.7C509.4 197.6 510.5 201.5 511.6 203.6C512.8 205.7 513.8 207.2 515 208.4C516.3 209.6 517.5 210.2 519.1 210.7C520.8 211.1 523 210.2 524.6 211.1C526.2 212 527.4 214.4 528.8 215.9C530.1 217.4 531.4 219.1 532.8 220C534.1 220.9 535 221.1 536.9 221.4C538.7 221.7 541.6 221.7 543.6 221.6C545.7 221.5 547.6 221.6 549.1 220.7C550.7 219.8 551.7 217.3 553.1 215.9C554.6 214.5 555.7 213.3 557.9 212.5C560.1 211.7 564.1 212.3 566.1 211.1C568.1 209.8 568.8 207.6 570.2 205C571.6 202.4 572.9 197.6 574.3 195.5C575.7 193.4 577 192.8 578.4 192.5C579.8 192.2 581.2 193.6 582.5 194C583.8 194.4 584.5 195.4 585.9 195.2C587.3 195 589.3 193.2 590.7 192.7C592.1 192.2 593 191.7 594.1 192.2C595.2 192.7 596.4 193.8 597.5 195.7C598.6 197.6 599.8 201.5 600.9 203.6C602 205.7 603 207.2 604.3 208.4C605.5 209.6 606.8 210.2 608.4 210.7C610 211.1 612.3 210.2 613.9 211.1C615.5 212 616.6 214.4 618 215.9C619.4 217.4 620.6 219.1 622 220C623.4 220.9 624.3 221.1 626.1 221.4C627.9 221.7 630.9 221.7 632.9 221.6C634.9 221.5 636.8 221.6 638.4 220.7C640 219.8 640.9 217.3 642.4 215.9C643.9 214.5 645 213.3 647.1 212.5C649.3 211.7 653.3 212.3 655.4 211.1C657.4 209.8 658.1 207.6 659.4 205C660.8 202.4 662.2 197.6 663.5 195.5C664.9 193.4 666.3 192.8 667.6 192.5C669 192.2 670.5 193.6 671.8 194C673 194.4 673.8 195.4 675.1 195.2C676.5 195 678.6 193.2 679.9 192.7C681.3 192.2 682.2 191.7 683.4 192.2C684.5 192.7 685.6 193.8 686.8 195.7C687.9 197.6 689 201.5 690.1 203.6C691.3 205.7 692.3 207.2 693.5 208.4C694.8 209.6 696 210.2 697.6 210.7C699.2 211.1 701.5 210.2 703.1 211.1C704.8 212 705.9 214.4 707.2 215.9C708.6 217.4 709.9 219.1 711.2 220C712.6 220.9 713.5 221.1 715.4 221.4C717.2 221.7 720.1 221.7 722.1 221.6C724.2 221.5 726.1 221.6 727.6 220.7C729.2 219.8 730.2 217.3 731.6 215.9C733.1 214.5 734.2 213.3 736.4 212.5C738.6 211.7 742.6 212.3 744.6 211.1C746.6 209.8 747.3 207.6 748.7 205C750.1 202.4 751.4 197.6 752.8 195.5C754.2 193.4 755.5 192.8 756.9 192.5C758.3 192.2 759.8 193.6 761 194C762.2 194.4 763 195.4 764.4 195.2C765.8 195 767.8 193.2 769.2 192.7C770.6 192.2 771.5 191.7 772.6 192.2C773.7 192.7 774.9 193.8 776 195.7C777.1 197.6 778.3 201.5 779.4 203.6C780.5 205.7 781.5 207.2 782.8 208.4C784 209.6 785.3 210.2 786.9 210.7C788.5 211.1 790.8 210.2 792.4 211.1C794 212 795.1 214.4 796.5 215.9C797.9 217.4 799.1 219.1 800.5 220C801.9 220.9 802.8 221.1 804.6 221.4C806.4 221.7 809.4 221.7 811.4 221.6C813.4 221.5 815.3 221.6 816.9 220.7C818.5 219.8 819.4 217.3 820.9 215.9C822.4 214.5 823.5 213.3 825.6 212.5C827.8 211.7 831.8 212.3 833.9 211.1C835.9 209.8 836.6 207.6 837.9 205C839.3 202.4 840.7 197.6 842 195.5C843.4 193.4 844.8 192.8 846.1 192.5C847.5 192.2 849 193.6 850.2 194C851.5 194.4 852.3 195.4 853.6 195.2C855 195 857.1 193.2 858.4 192.7C859.8 192.2 860.7 191.7 861.9 192.2C863 192.7 864.1 193.8 865.2 195.7C866.4 197.6 867.5 201.5 868.6 203.6C869.8 205.7 870.8 207.2 872 208.4C873.3 209.6 874.5 210.2 876.1 210.7C877.8 211.1 880 210.2 881.6 211.1C883.2 212 884.4 214.4 885.8 215.9C887.1 217.4 888.4 219.1 889.8 220C891.1 220.9 892 221.1 893.9 221.4C895.7 221.7 898.6 221.7 900.6 221.6C902.7 221.5 904.6 221.6 906.1 220.7C907.7 219.8 908.7 217.3 910.1 215.9C911.6 214.5 912.7 213.3 914.9 212.5C917.1 211.7 921.7 211.3 923.1 211.1" clip-path="url(#c1)" fill="none" stroke="#000" stroke-width="2.3" stroke-dasharray="6.8 3"/>
<rect x="227.7" y="110" width="3" height="9.6" fill="#000"/>
<rect x="271.4" y="110" width="3" height="9.6" fill="#f00"/>
<rect x="316.9" y="110" width="3" height="9.6" fill="#000"/>
<rect x="360.6" y="110" width="3" height="9.6" fill="#f00"/>
<rect x="406.2" y="110" width="3" height="9.6" fill="#000"/>
<rect x="449.9" y="110" width="3" height="9.6" fill="#f00"/>
<rect x="495.4" y="110" width="3" height="9.6" fill="#000"/>
<rect x="539.1" y="110" width="3" height="9.6" fill="#f00"/>
<rect x="584.7" y="110" width="3" height="9.6" fill="#000"/>
<rect x="628.4" y="110" width="3" height="9.6" fill="#f00"/>
<rect x="674" y="110" width="3" height="9.6" fill="#000"/>
<rect x="717.6" y="110" width="3" height="9.6" fill="#f00"/>
<rect x="763.2" y="110" width="3" height="9.6" fill="#000"/>
<rect x="806.9" y="110" width="3" height="9.6" fill="#f00"/>
<line x1="825" y1="455" x2="825" y2="110" stroke="#1f77b4" stroke-width="2.1" stroke-dasharray="2.1 3.4"/>
<path d="M200 398.5H206M200 340.5H206M200 283.5H206M200 225.5H206M200 168.5H206" stroke="#000" stroke-width="1" fill="none"/>
<path d="M914 398.5H908M914 340.5H908M914 283.5H908M914 225.5H908M914 168.5H908" stroke="#000" stroke-width="1" fill="none"/>
<path d="M248.5 455V450M337.5 455V450M426.5 455V450M515.5 455V450M605.5 455V450M694.5 455V450M783.5 455V450M872.5 455V450" stroke="#000" stroke-width="1" fill="none"/>
<rect x="200" y="110" width="714" height="345" fill="none" stroke="#000" stroke-width="2"/>
<rect x="825" y="478" width="89" height="344" fill="#d3d3d3"/>
<g clip-path="url(#c2)" fill="none" stroke-width="2.2" stroke-linejoin="round">
<polygon points="200,822 200.5,783.3 202.5,789.1 204.2,797.2 206.6,801.3 209.5,804.6 210.7,820.9 212.4,793.1 215.6,793.1 216.4,803 218.9,803.8 219.7,795.6 223,797.2 224.2,815.2 225,789.9 228.3,786.2 229.1,800.5 231.2,802.1 232.4,796.4 234.8,794 235.2,775.6 236.9,776 238.1,796.4 239.3,789.9 241,792.3 243.4,792.3 244.2,780.1 245.9,780.1 246.7,767.8 248.3,766.2 248.8,822" fill="#000" stroke="#000" stroke-width="1"/>
<polyline points="248.4,819.8 249.2,777.9 250,723.5 250.7,685.7 250.8,687.6 251.6,691.4 252.4,703.7 253.2,716 253.6,723.2 254,718.8 254.8,707.6 255.6,697.1 256.4,683 256.8,676.6 257.2,678.2 258,680.4 258.8,681.1 259.6,679.7 260.4,674.8 261.2,667.2 262,661.5 262.8,659.4 263.6,659 264.4,657.8 265.2,657.6 266,653.5 266.8,649 267.6,643.3 268.4,638 268.9,634.5 269.2,635.3 270,637.6 270.8,639.2 271.1,640.2 271.6,640.1 272.4,638.7 273.2,638.4 273.4,638 274,641.3 274.5,644.8 274.8,644.9 275.6,643.9 276.4,643.8 277.2,642.7 278,642.5 278,643 278.8,644.3 279.6,647 280.4,648.3 281.2,650.3 282,651.5 282.8,654.6 283.6,658.7 284.1,661.8 284.4,656.8 284.8,650.5 285.2,655.7 286,666.6 286.4,670.9 286.8,664.8 287.6,656 288.4,645.1 289.2,635.7 290,624.8 290.8,622.3 291.6,618.6 291.6,618.3 292.4,623 293.2,626.5 294,628.2 294.8,628.8 295.6,630.5 296.4,631.3 297.2,632.9 298,639 298.4,648.2 298.8,648.2 299.6,646.8 300.4,646.4 301.2,646.2 302,647 302.8,646.4 303.6,646.4 304.4,644.8 305.2,643.2 306,640.6 306.8,639 307.6,636.5 308.4,635.6 309.2,633.8 310,633.2 310.8,633.2 311.6,633.7 312.4,633.5 313.2,634.4 314,634.3 314.8,635.1 315.6,635.1 316.4,635.8 317.2,634.8 318,634.5 318.8,633.3 318.9,633.4 319.6,634.9 320.4,635.6 321.2,637.2 322,637.9 322.3,638.6 322.8,638.4 323.6,637.4 324.4,637.1 325.2,629.7 326,629.5 326.8,628.4 327.6,628.2 328.4,626.9 329.2,626.3 330,624.6 330.8,624.2 331.6,622.7 332.4,622.5 333.2,621.2 334,620.7 334.8,619.4 335.6,619.2 336.4,618.1 337.2,617.7 338,616.6 338.8,616.5 339.6,615.4 340.4,615.2 341.2,613.9 342,613.8 342.8,612.7 343.6,612.4 344.4,611.6 345.2,611.4 346,610.3 346.8,610.1 347.6,609 348.4,608.9 349.2,607.7 350,607.2 350.8,605.6 351.6,604.7 352.4,603 353,602.3 353.2,602.5 354,602.5 354.8,603.3 355.6,602.4 356.4,601.8 357.2,600.2 358,599.6 358.8,598.4 359.6,598.3 360.4,597.6 361.2,597.5 362,596.9 362.8,597.6 363.6,597.6 364.4,598.3 365.2,598.3 366,599.4 366.8,599.5 367.6,600.8 368.4,601 369.2,602.3 370,602.6 370.8,603.9 371.6,604.6 372.4,606.1 373.2,606.4 374,608.1 374.8,608.8 375.6,610.8 376.4,611.9 377.2,614.1 378,615.1 378.8,617.3 379.6,618.5 380.4,620.6 381.2,621.7 382,624.1 382.8,625.2 383.6,627.5 384.4,627.6 385.2,628.9 386,629 386.8,630.1 387.6,631 388.4,633.5 389.2,634.8 390,637.3 390.8,638.1 391.6,640 392.4,640.6 393.2,642.3 394,643 394.8,644.7 395,644.8 395.6,643.7 396.4,642.9 397.2,641 398,640.5 398.8,639.1 399.6,639.2 400.4,638.3 401.2,638.5 402,637.5 402.8,637 403.6,635.5 404.4,635.2 405.2,634.5 406,634.6 406.8,633.8 407.6,633.9 408.4,633.2 409.2,633.1 410,631.8 410.8,631.6 411.6,630.3 412.4,630.3 413.2,630.6 414,631.6 414.8,631.7 415.6,632.7 416.4,633.7 417.2,635.8 417.3,635.7 418,632.6 418.8,630.1 418.9,629.5 419.6,631.4 420.4,634 421.2,635.7 422,638.3 422.8,639.8 423.6,642.7 424.1,643.6 424.4,642.7 425.2,641.6 426,639.4 426.8,638.3 427.6,636.3 428.4,635.1 429.2,632.8 430,631.8 430.8,629.3 431.6,628.3 432.4,625.9 433.2,624.5 434,622.3 434.8,621 435.6,618 436.4,615.9 437.2,612.7 438,610.7 438.8,607.6 439.6,605.9 440.4,603.6 441.2,602.6 442,600.6 442.7,599.3 442.8,599.5 443.6,599.9 444.4,601.1 445,601.6 445.2,600.8 446,599.1 446.8,596.5 447.3,595.5 447.6,598.1 448.4,602.5 449.2,617.4 450,624.8 450.8,629.1 451.6,632 452.4,635.4 453.2,637.4 454,640.1 454.8,642 455.6,645.8 456.4,649.2 457.2,653.9 458,655.3 458.8,657.1 459.6,657.5 460.4,659 461.2,660 462,662.3 462.8,663.9 463.6,666.1 464.3,667.5 464.4,667.1 465.2,666.3 466,664.8 466.8,664.5 467.6,664.8 468.4,666.2 469.2,667.4 470,671.3 470.8,673.9 471.6,676.8 472.4,677.8 472.7,678.9 473.2,676.2 474,671 474.1,670.9 474.2,671.3 475,699.1 476.1,731.8 477.1,750.6 478.3,723.6 479.9,690.9 481.5,673.7 484,678.6 485.6,690.9 486.9,704 487.3,821 488.9,821 489.7,705.6 490.5,738.3 491.4,712.2 492.2,785.8 493,713.8 494.1,748.2 495.1,718.7 495.6,821 496.1,821 496.6,797.2 497.1,821 497.6,821 498.1,761.2 498.6,821 499,764.5 499.5,821 500,821 500.5,777.6 501,821 501.5,777.6 502,821 502.5,821 503,805.4 503.5,821 504,807.1 504.4,821 504.9,821 505.4,794 505.9,821 506.4,792.3 506.9,821 507.4,821 507.9,790.7 508.4,821 508.9,785.8 509.4,783.3 509.8,821 510.3,789.1 511,821 511.3,816.9 511.8,785.8 513.4,774.3 514.3,769.4 515.1,756.3 515.9,749.8 518.4,748.2 520,741.6 521.6,738.3 524.1,739.2 525.7,741.6 526.9,738.3 529,735.1 530.6,731.8 531.4,725.3 533.1,718.7 534.4,711.3 535.5,715.4 536.7,717.1 537.2,702.4 537.5,821 537.8,702.4 538.8,704 539.6,715.4 541.3,719.5 543.7,718.7 545.3,715.4 545.5,706.9 546.3,698.4 546.8,691.4 547.1,691.1 547.9,692.5 548.7,692.8 549.5,693.8 550.3,692.7 551.1,692.5 551.9,691.1 552.7,692.5 553.5,692.7 554.3,694.4 555.1,695.7 555.9,698 556.7,699.4 557.5,701.9 558.3,702.3 559.1,703.8 559.9,704.2 560.7,705.5 561.5,705.9 562,706.8 562.3,706.9 563.1,706 563.9,706 564.7,705.3 565.5,705.4 566.3,704.4 567.1,704.4 567.9,703.4 568.7,703.8 569.5,702.9 570.3,702.8 571.1,702 571.9,702 572.7,699 573.4,694.8 573.5,695.1 574.3,696.9 575,699.3 575.1,699.4 575.9,698.7 576.7,698.7 577.5,697.7 578.3,697.7 579.1,696.8 579.9,697.3 580.7,696.8 581.5,697.2 582.3,696.7 583.1,697.4 583.9,697.1 584.7,699.4 585.5,700.5 585.9,701.6 586.3,701.6 587.1,700.5 587.9,700.6 588.7,699.6 589.5,699.3 590.3,697.2 591.1,696.2 591.9,693.8 592.7,692.9 593.5,691.6 594.3,691.3 595.1,689.9 595.9,689.5 596.7,688.1 597.5,687.6 598.3,686.2 599.1,685.9 599.9,684.4 600.7,683.9 601.5,682.5 602.3,682 603.1,680.5 603.9,679.8 604.7,678.3 605.5,677.7 606.3,676.2 607.1,675.6 607.9,674 608.7,673.4 609.5,671.9 610.3,671.7 611.1,670 611.9,669.7 612.7,668.2 613.5,667.8 614.3,666.2 615.1,665.5 615.9,663.8 616.7,663.3 617.5,661.6 618.3,661.3 619.1,660.5 619.9,660.7 620.7,660 621.5,660 622.3,659.4 623.1,659.2 623.9,657.9 624.7,658 625.5,656.8 626.3,657.6 627.1,658.3 627.9,659.8 628.7,658.4 629.5,658 630.2,656.8 630.3,656.7 631.1,658.9 631.9,660.1 632.7,662.3 633.5,662.6 634.3,664 635.1,664 635.9,665.3 636.7,665.1 637.5,665.8 638.3,665.4 639.1,666.1 639.9,665.6 640.7,666.4 641.5,666.7 642.3,668.1 643.1,668.6 643.9,669.8 644.7,670.2 645.5,671.6 646.3,671.7 647.1,672.8 647.9,672.7 648.7,673.7 649.5,673.9 650.3,675.1 651.1,675 651.9,676.3 652.7,676.4 653.5,677.8 654.3,677.8 655.1,679.1 655.9,679.3 656.7,680.8 657.5,681.3 658.3,683.1 659.1,683.8 659.9,685.5 660.7,686.1 661.5,688.2 662.3,689.4 663.1,691.5 663.9,692.3 664.7,694.7 665.5,695.4 666.3,698.4 667.1,699.5 667.9,702.5 668.7,704.8 669.5,708.3 669.5,708.4 670.3,702.5 671.1,696.8 671.9,694.9 672.7,695.3 673.5,694.1 674.3,694.1 675.1,692.8 675.9,692.2 676.7,690.5 677.5,690 678.3,688.7 679.1,688.6 679.9,687.6 680.7,687.6 681.5,686.7 682.3,687.5 683.1,687.7 683.9,688.8 684.7,688.7 685.5,689.5 686.3,689 687,689.5 687.1,689.8 687.9,687.7 688.7,686.4 689.5,684.1 690.3,682.9 691.1,680.9 691.9,680.2 692.7,678.4 693.5,677.5 694.3,676.1 695.1,676.3 695.9,675.7 696.7,675.8 697.5,675.5 698.3,676.7 699.1,677.1 699.9,678.4 700.7,678.6 700.7,678.9 701.5,677.9 702.3,676.1 703.1,675.2 703.9,673.3 704.7,673.2 705.5,672.1 706.3,672 707.1,670.8 707.9,670.6 708.7,668.4 709.5,667.3 710.3,665 711.1,664 711.9,661.5 712.7,660.4 713.5,657.7 714.3,656.6 715.1,655.1 715.9,654.8 716.6,653.9 716.7,653.7 717.5,656.3 718.3,657.7 719.1,659.9 719.9,660 720.7,660.9 721.5,661.1 722.3,662.1 723.1,662.9 723.9,664.6 724.7,665.4 725.5,667.3 726.3,668 727.1,670.1 727.9,670.9 728.7,672.8 729.1,673.2 729.5,672.6 730.3,672.8 731.1,672 731.4,672 731.9,675.4 732.7,678.5 733.5,680 734.3,680.5 735.1,686.4 735.9,690.2 736.7,698.4 737.5,704.3 738.2,743.6 738.3,742 739.1,716.9 739.9,709.9 740.7,703.2 741.5,704.1 742.3,703.6 743.1,705.9 743.9,709.5 744.7,714.9 745.5,717.3 746.3,719.9 747.1,721.1 747.3,722 747.9,721 748.7,718.4 749.5,717 749.5,716.4 750.3,718.6 751.1,721.8 751.9,723.9 752.7,726.7 753.5,727.9 754.3,730.4 755.1,731.7 755.9,733.1 756.7,733.6 757.5,734.7 758.3,735.1 759.1,735.5 759.9,733.9 760.5,733.4 760.7,734.3 761.5,736.8 762,739.1 762.3,738.9 763.1,736.6 763.9,735.9 764.7,731.9 765.5,726.8 765.9,723.2 766.3,724.1 767.1,727.5 767.9,729.7 768.2,731.1 768.7,729.4 769.5,725.2 770.3,723.3 771.1,722.1 771.9,722.2 772.7,721.1 773.5,721.1 774.3,719 775.1,717.9 775.9,715.8 776.7,715.3 777.5,713.6 778.3,713.2 779.1,711.5 779.9,710.8 780.7,708.6 781.5,708 782.3,706 783.1,705.1 783.9,703.3 784.7,703 785.5,701.2 786.3,700.8 787.1,699.4 787.9,698.8 788.7,697.1 789.5,695.8 790.3,693.9 791.1,692.7 791.9,690.7 792.7,689.6 793.5,687.4 794.3,686.8 795.1,684.3 795.9,682.3 796.4,680 796.7,679.7 797.5,680.5 798.3,680.5 799.1,681.3 799.9,680.7 800.7,679.5 801.5,678.5 802.3,678.9 803.1,678.3 803.9,678.6 804.7,678.1 805.5,678.3 806.3,678.3 807.1,679.4 807.9,679.1 808.7,680.2 809.5,679.8 810.3,680.6 811.1,680.4 811.9,681.1 812.7,680.7 813.5,681.5 814.3,681.9 815.1,683 815.9,683.3 816.7,684.7 817.5,684.8 818.3,686.3 819.1,686.6 819.9,687.8 820.7,688 821.5,689.5 822.3,689 823.1,689.6 823.9,689.3 824.7,690 824.8,689.8" stroke="#000"/>
<path d="M200.7 707.7C201.4 709.5 203.7 713.8 205.2 718.6C206.7 723.5 208.3 731.1 209.8 736.8C211.3 742.5 212.8 748.6 214.3 752.7C215.8 756.9 217.5 759.5 218.9 761.8C220.2 764.1 221.1 765.5 222.3 766.4C223.4 767.2 224.5 765.7 225.7 766.8C226.8 768 228 770.8 229.1 773.2C230.2 775.6 231.3 781.1 232 781.1C232.8 781.1 233.1 779.4 233.6 773.2C234.2 766.9 234.7 753.9 235.5 743.6C236.2 733.4 237.2 721.3 238.2 711.8C239.2 702.3 240.3 694.2 241.6 686.8C242.9 679.4 244.6 672.8 246.1 667.5C247.7 662.2 249.4 657.7 250.7 655C251.9 652.3 252.1 652.5 253.6 651.6C255.2 650.6 257.8 650.3 259.8 649.3C261.7 648.4 263.4 647.8 265.5 645.9C267.5 644 270.4 640.6 272.3 638C274.2 635.3 275.3 632.5 276.8 630C278.3 627.5 280 624.4 281.4 622.7C282.7 621.1 282.9 620.9 284.8 620.2C286.7 619.5 289.9 619.2 292.7 618.6C295.6 618.1 298.8 617.2 301.8 617C304.8 616.9 307.9 617.8 310.9 617.7C313.9 617.6 317.2 616.8 320 616.4C322.8 615.9 325.3 616 328 615.2C330.6 614.5 332.3 612.8 335.9 611.8C339.5 610.9 345 610.2 349.5 609.5C354.1 608.9 358.6 608.2 363.2 607.7C367.7 607.2 372.8 606.9 376.8 606.6C380.8 606.3 384.6 605.9 387 606.1C389.5 606.3 390.3 607 391.6 607.7C392.9 608.5 393.7 610 395 610.7C396.3 611.4 398 611.7 399.5 611.8C401.1 611.9 402.2 611.1 404.1 611.4C406 611.7 408.8 612.9 410.9 613.6C413 614.4 414.7 616.4 416.6 615.9C418.5 615.4 420.4 612.1 422.3 610.7C424.2 609.2 425.7 607.8 428 607.3C430.2 606.8 433.4 608.1 435.9 607.7C438.4 607.3 440.1 605.6 442.7 605C445.4 604.4 449.2 604.1 451.8 603.9C454.5 603.7 456.7 603.3 458.6 603.9C460.5 604.4 461.5 605 463.2 607.3C464.9 609.5 467 613.7 468.9 617.5C470.8 621.3 473 626 474.5 630C476.1 634 476.9 635.9 478 641.4C479 646.9 480 661.1 480.9 663C481.9 664.8 482.8 652.3 483.6 652.7C484.5 653.1 485.1 660.9 485.9 665.2C486.7 669.6 487.7 677.5 488.6 678.9C489.6 680.2 490.7 671.9 491.6 673.2C492.5 674.5 493.1 679.6 493.9 686.8C494.6 694 495.4 708.4 496.1 716.4C496.9 724.3 497.8 728.5 498.4 734.5C499.1 740.6 499.4 750.1 500 752.7C500.6 755.4 501.2 747 501.8 750.5C502.4 753.9 503.1 766.9 503.6 773.2C504.1 779.4 504.3 789.1 504.8 788C505.2 786.8 505.7 773 506.4 766.4C507 759.7 507.7 753.9 508.6 748.2C509.6 742.5 510.9 736.4 512 732.3C513.2 728.1 514.1 726.6 515.5 723.2C516.8 719.8 518.5 716.4 520 711.8C521.5 707.3 523 699.9 524.5 695.9C526.1 691.9 527.8 690.2 529.1 688C530.4 685.7 531.4 685.1 532.5 682.3C533.6 679.4 534.9 673.9 535.9 670.9C536.9 667.9 537.5 665.9 538.6 664.1C539.8 662.3 540.9 660.8 542.7 660C544.5 659.2 547.3 659.3 549.5 659.5C551.8 659.8 553.7 661.6 556.4 661.4C559 661.2 562.4 660.4 565.5 658.4C568.5 656.4 571.5 651.6 574.5 649.3C577.6 647 580.2 646 583.6 644.8C587 643.5 591.6 642.4 595 641.8C598.4 641.2 600.7 642.2 604.1 641.4C607.5 640.5 611.3 638.3 615.5 636.8C619.6 635.3 625.5 633.2 629.1 632.3C632.7 631.4 634 631.2 637 631.4C640.1 631.5 644.1 632.6 647.3 633C650.5 633.3 653.7 632.8 656.4 633.4C659 634.1 661.1 635.7 663.2 636.8C665.3 638 667 639.8 668.9 640.2C670.8 640.7 672.3 639.4 674.5 639.5C676.8 639.7 680.4 641.1 682.5 640.9C684.6 640.8 685.2 640 687 638.6C688.9 637.3 691 634.1 693.9 633C696.7 631.8 700.9 632.5 704.1 631.6C707.3 630.7 710.5 628.5 713.2 627.7C715.8 626.9 717.7 626.8 720 626.8C722.3 626.8 724.5 626.6 726.8 627.7C729.1 628.8 731.4 632 733.6 633.4C735.9 634.8 738.4 635.4 740.5 636.4C742.5 637.3 744.2 637.1 746.1 639.1C748 641.1 750.1 645.5 751.8 648.2C753.5 650.8 754.5 653.9 756.4 655C758.3 656.1 761.3 654.2 763.2 654.5C765.1 654.8 766.2 656.1 767.7 656.8C769.2 657.5 770.9 658.8 772.3 658.9C773.6 658.9 774.4 659.1 775.7 657.3C777 655.5 778.7 650.8 780.2 648.2C781.7 645.6 783.1 642.9 784.8 641.8C786.5 640.8 788.8 642.2 790.5 641.8C792.2 641.4 793.8 640.4 795 639.5C796.2 638.7 796.1 637.7 797.5 636.8C798.9 635.9 800.7 634.5 803.2 634.1C805.6 633.6 809.8 633.7 812.3 634.1C814.7 634.5 816.1 635.2 818 636.4C819.8 637.6 821.2 640.2 823.6 641.4C826.1 642.5 830.3 641.9 832.7 643.2C835.2 644.5 836.5 646.8 838.4 649.3C840.3 651.9 842.4 656.9 844.1 658.4C845.8 659.9 847.1 658.6 848.6 658.4C850.2 658.2 851.3 657.1 853.2 657.3C855.1 657.5 858.1 659.7 860 659.5C861.9 659.4 862.7 658.3 864.5 656.1C866.4 653.9 868.7 648.3 871.4 646.4C874 644.5 877.4 646.2 880.5 644.8C883.5 643.4 886.1 639.3 889.5 638C893 636.6 897.9 636.6 900.9 636.8C903.9 637 905.6 637.9 907.7 639.1C909.8 640.3 912.5 643.3 913.4 644.1" stroke="#f00"/>
</g>
<line x1="825" y1="822" x2="825" y2="478" stroke="#1f77b4" stroke-width="2.1" stroke-dasharray="2.1 3.4"/>
<path d="M200 822.5H206M200 765.5H206M200 707.5H206M200 650.5H206M200 593.5H206M200 535.5H206M200 478.5H206" stroke="#000" stroke-width="1" fill="none"/>
<path d="M200 805.5H204M200 795.5H204M200 787.5H204M200 782.5H204M200 777.5H204M200 774.5H204M200 770.5H204M200 767.5H204M200 747.5H204M200 737.5H204M200 730.5H204M200 725.5H204M200 720.5H204M200 716.5H204M200 713.5H204M200 710.5H204M200 690.5H204M200 680.5H204M200 673.5H204M200 667.5H204M200 663.5H204M200 659.5H204M200 656.5H204M200 653.5H204M200 633.5H204M200 623.5H204M200 615.5H204M200 610.5H204M200 605.5H204M200 602.5H204M200 598.5H204M200 595.5H204M200 575.5H204M200 565.5H204M200 558.5H204M200 553.5H204M200 548.5H204M200 544.5H204M200 541.5H204M200 538.5H204M200 518.5H204M200 508.5H204M200 501.5H204M200 495.5H204M200 491.5H204M200 487.5H204M200 484.5H204M200 481.5H204" stroke="#000" stroke-width="1" fill="none"/>
<path d="M914 822.5H908M914 765.5H908M914 707.5H908M914 650.5H908M914 593.5H908M914 535.5H908M914 478.5H908" stroke="#000" stroke-width="1" fill="none"/>
<path d="M914 805.5H910M914 795.5H910M914 787.5H910M914 782.5H910M914 777.5H910M914 774.5H910M914 770.5H910M914 767.5H910M914 747.5H910M914 737.5H910M914 730.5H910M914 725.5H910M914 720.5H910M914 716.5H910M914 713.5H910M914 710.5H910M914 690.5H910M914 680.5H910M914 673.5H910M914 667.5H910M914 663.5H910M914 659.5H910M914 656.5H910M914 653.5H910M914 633.5H910M914 623.5H910M914 615.5H910M914 610.5H910M914 605.5H910M914 602.5H910M914 598.5H910M914 595.5H910M914 575.5H910M914 565.5H910M914 558.5H910M914 553.5H910M914 548.5H910M914 544.5H910M914 541.5H910M914 538.5H910M914 518.5H910M914 508.5H910M914 501.5H910M914 495.5H910M914 491.5H910M914 487.5H910M914 484.5H910M914 481.5H910" stroke="#000" stroke-width="1" fill="none"/>
<path d="M248.5 822V817M337.5 822V817M426.5 822V817M515.5 822V817M605.5 822V817M694.5 822V817M783.5 822V817M872.5 822V817" stroke="#000" stroke-width="1" fill="none"/>
<rect x="200" y="478" width="714" height="344" fill="none" stroke="#000" stroke-width="2"/>
<g clip-path="url(#c3)">
<rect x="198.6" y="927.8" width="8.9" height="89.2" fill="#bfbf00"/>
<rect x="209.8" y="946.9" width="8.9" height="70.1" fill="#bfbf00"/>
<rect x="221" y="940.6" width="8.9" height="76.4" fill="#bfbf00"/>
<rect x="232.1" y="940.6" width="8.9" height="76.4" fill="#bfbf00"/>
<rect x="243.3" y="946.9" width="8.9" height="70.1" fill="#bfbf00"/>
<rect x="254.4" y="972.5" width="8.9" height="44.5" fill="#008000"/>
<rect x="265.6" y="972.5" width="8.9" height="44.5" fill="#008000"/>
<rect x="276.7" y="953.4" width="8.9" height="63.6" fill="#bfbf00"/>
<rect x="287.9" y="978.8" width="8.9" height="38.2" fill="#008000"/>
<rect x="299" y="1004.2" width="8.9" height="12.8" fill="#008000"/>
<rect x="310.2" y="997.9" width="8.9" height="19.1" fill="#008000"/>
<rect x="321.4" y="1010.7" width="8.9" height="6.3" fill="#008000"/>
<rect x="343.7" y="997.9" width="8.9" height="19.1" fill="#008000"/>
<rect x="354.8" y="991.6" width="8.9" height="25.4" fill="#008000"/>
<rect x="366" y="985.1" width="8.9" height="31.9" fill="#008000"/>
<rect x="377.1" y="1004.2" width="8.9" height="12.8" fill="#008000"/>
<rect x="388.3" y="1010.7" width="8.9" height="6.3" fill="#008000"/>
<rect x="399.5" y="997.9" width="8.9" height="19.1" fill="#008000"/>
<rect x="410.6" y="978.8" width="8.9" height="38.2" fill="#008000"/>
<rect x="421.8" y="997.9" width="8.9" height="19.1" fill="#008000"/>
<rect x="432.9" y="972.5" width="8.9" height="44.5" fill="#008000"/>
<rect x="444.1" y="985.1" width="8.9" height="31.9" fill="#008000"/>
<rect x="455.2" y="972.5" width="8.9" height="44.5" fill="#008000"/>
<rect x="466.4" y="953.4" width="8.9" height="63.6" fill="#bfbf00"/>
<rect x="477.5" y="908.6" width="8.9" height="108.4" fill="#f00"/>
<rect x="488.7" y="889.5" width="8.9" height="127.5" fill="#f00"/>
<rect x="499.9" y="953.4" width="8.9" height="63.6" fill="#bfbf00"/>
<rect x="511" y="978.8" width="8.9" height="38.2" fill="#008000"/>
<rect x="522.2" y="946.9" width="8.9" height="70.1" fill="#bfbf00"/>
<rect x="533.3" y="940.6" width="8.9" height="76.4" fill="#bfbf00"/>
<rect x="544.5" y="991.6" width="8.9" height="25.4" fill="#008000"/>
<rect x="555.6" y="1004.2" width="8.9" height="12.8" fill="#008000"/>
<rect x="566.8" y="985.1" width="8.9" height="31.9" fill="#008000"/>
<rect x="578" y="1004.2" width="8.9" height="12.8" fill="#008000"/>
<rect x="589.1" y="1010.7" width="8.9" height="6.3" fill="#008000"/>
<rect x="600.3" y="985.1" width="8.9" height="31.9" fill="#008000"/>
<rect x="611.4" y="978.8" width="8.9" height="38.2" fill="#008000"/>
<rect x="622.6" y="972.5" width="8.9" height="44.5" fill="#008000"/>
<rect x="633.7" y="997.9" width="8.9" height="19.1" fill="#008000"/>
<rect x="644.9" y="997.9" width="8.9" height="19.1" fill="#008000"/>
<rect x="656" y="985.1" width="8.9" height="31.9" fill="#008000"/>
<rect x="667.2" y="991.6" width="8.9" height="25.4" fill="#008000"/>
<rect x="678.4" y="997.9" width="8.9" height="19.1" fill="#008000"/>
<rect x="689.5" y="991.6" width="8.9" height="25.4" fill="#008000"/>
<rect x="700.7" y="997.9" width="8.9" height="19.1" fill="#008000"/>
<rect x="711.8" y="966" width="8.9" height="51" fill="#008000"/>
<rect x="723" y="959.7" width="8.9" height="57.3" fill="#bfbf00"/>
<rect x="734.1" y="972.5" width="8.9" height="44.5" fill="#008000"/>
<rect x="745.3" y="997.9" width="8.9" height="19.1" fill="#008000"/>
<rect x="756.5" y="997.9" width="8.9" height="19.1" fill="#008000"/>
<rect x="767.6" y="1010.7" width="8.9" height="6.3" fill="#008000"/>
<rect x="778.8" y="997.9" width="8.9" height="19.1" fill="#008000"/>
<rect x="789.9" y="997.9" width="8.9" height="19.1" fill="#008000"/>
<rect x="801.1" y="1010.7" width="8.9" height="6.3" fill="#008000"/>
<rect x="812.2" y="1004.2" width="8.9" height="12.8" fill="#008000"/>
<rect x="823.4" y="1004.2" width="8.9" height="12.8" fill="#008000"/>
<rect x="834.5" y="1004.2" width="8.9" height="12.8" fill="#008000"/>
<rect x="845.7" y="1004.2" width="8.9" height="12.8" fill="#008000"/>
<rect x="856.9" y="1004.2" width="8.9" height="12.8" fill="#008000"/>
<rect x="868" y="1004.2" width="8.9" height="12.8" fill="#008000"/>
<rect x="879.2" y="1004.2" width="8.9" height="12.8" fill="#008000"/>
<rect x="890.3" y="1004.2" width="8.9" height="12.8" fill="#008000"/>
<rect x="901.5" y="1004.2" width="8.9" height="12.8" fill="#008000"/>
</g>
<rect x="207" y="852" width="88.2" height="67" rx="2.8" fill="#fff" fill-opacity="0.8" stroke="#ccc"/>
<rect x="212.5" y="858.8" width="27.8" height="9.7" fill="#008000"/>
<rect x="212.5" y="879.7" width="27.8" height="9.7" fill="#bfbf00"/>
<rect x="212.5" y="900.7" width="27.8" height="9.7" fill="#f00"/>
<line x1="825" y1="1017" x2="825" y2="845" stroke="#1f77b4" stroke-width="2.1" stroke-dasharray="2.1 3.4"/>
<path d="M200 979.5H206M200 941.5H206M200 902.5H206M200 864.5H206" stroke="#000" stroke-width="1" fill="none"/>
<path d="M914 979.5H908M914 941.5H908M914 902.5H908M914 864.5H908" stroke="#000" stroke-width="1" fill="none"/>
<path d="M248.5 1017V1012M337.5 1017V1012M426.5 1017V1012M515.5 1017V1012M605.5 1017V1012M694.5 1017V1012M783.5 1017V1012M872.5 1017V1012" stroke="#000" stroke-width="1" fill="none"/>
<rect x="200" y="845" width="714" height="172" fill="none" stroke="#000" stroke-width="2"/>
<rect x="959" y="110" width="17" height="345" fill="url(#jet)" stroke="#000" stroke-width="2"/>
<path d="M976 455.5H982M976 398.5H982M976 340.5H982M976 283.5H982M976 225.5H982M976 168.5H982M976 110.5H982" stroke="#000" stroke-width="1" fill="none"/>
<path d="M976 438.5H982M976 428.5H982M976 420.5H982M976 415.5H982M976 410.5H982M976 406.5H982M976 403.5H982M976 400.5H982M976 380.5H982M976 370.5H982M976 363.5H982M976 357.5H982M976 353.5H982M976 349.5H982M976 346.5H982M976 343.5H982M976 323.5H982M976 313.5H982M976 305.5H982M976 300.5H982M976 295.5H982M976 291.5H982M976 288.5H982M976 285.5H982M976 265.5H982M976 255.5H982M976 248.5H982M976 242.5H982M976 238.5H982M976 234.5H982M976 231.5H982M976 228.5H982M976 208.5H982M976 198.5H982M976 190.5H982M976 185.5H982M976 180.5H982M976 176.5H982M976 173.5H982M976 170.5H982M976 150.5H982M976 140.5H982M976 133.5H982M976 127.5H982M976 123.5H982M976 119.5H982M976 116.5H982M976 113.5H982" stroke="#000" stroke-width="1" fill="none"/>
<g clip-path="url(#d1)" fill="none" stroke-width="2.2" stroke-linejoin="round">
<line x1="1227" y1="282.5" x2="1800" y2="282.5" stroke="#000" stroke-dasharray="2.1 3.4"/>
<polygon points="1206,336.4 1207,336.4 1208,343.2 1209,333.3 1210,261.3 1211,261.3 1212,261.3 1213,261.3 1214,295.8 1215,277.8 1216,266.7 1217,257.7 1218,257.7 1219,257.7 1220,257.4 1221,257.4 1222,238.3 1223,238.3 1224,233.3 1225,233.3 1226,233.3 1227,233.3 1228,339.5 1228,378.9 1227,378.9 1226,372 1225,339.5 1224,296.6 1223,297 1222,297 1221,297 1220,289.5 1219,289.5 1218,280.5 1217,295.8 1216,311.6 1215,313.6 1214,314.6 1213,314.6 1212,333.3 1211,361.3 1210,361.3 1209,365.3 1208,365.3 1207,365.3 1206,365.3" fill="#000" stroke="none"/>
<polygon points="1560,241.2 1561,216.8 1562,206.8 1563,202.9 1564,202.9 1565,202.9 1566,205.4 1567,210.4 1568,220.5 1569,220.5 1570,219.9 1571,216.2 1572,216.2 1573,216.2 1574,218.6 1575,218.6 1576,211.5 1577,211.5 1578,211.5 1579,211.5 1580,217.9 1581,230 1582,244.8 1583,244.8 1584,244.8 1585,244.8 1585,275.1 1584,275.1 1583,306.2 1582,306.2 1581,306.2 1580,306.2 1579,261.3 1578,244.3 1577,257 1576,257 1575,257 1574,244.3 1573,244.3 1572,244.3 1571,238.7 1570,252.5 1569,275.3 1568,275.3 1567,275.3 1566,263.3 1565,236.8 1564,216.8 1563,280.4 1562,280.4 1561,280.4 1560,280.4" fill="#000" stroke="none"/>
<polygon points="1596,263 1597,261.5 1598,261.5 1599,290.1 1600,280.5 1601,280.5 1602,303.7 1603,321.5 1604,314 1605,268.4 1606,263.8 1607,282 1608,260.2 1609,236.7 1610,233.8 1611,241.1 1612,265.4 1613,237.2 1614,237.2 1615,240.1 1616,290.3 1617,264.3 1618,264.3 1619,271.8 1620,255.1 1621,255.1 1622,296.1 1623,241.8 1624,241.8 1625,292.9 1626,250 1627,250 1628,280.8 1629,238.5 1630,238.5 1631,302.1 1632,340.6 1633,318.3 1634,270.2 1635,230.3 1636,228.6 1637,245 1638,291.8 1639,271.8 1640,272.8 1641,303.1 1642,275.7 1643,247.2 1644,247.2 1645,267.8 1646,226.8 1647,244 1648,294.4 1649,280.7 1650,281 1651,230.1 1651,311 1650,311 1649,294.4 1648,314 1647,314 1646,267.8 1645,299.2 1644,273.4 1643,275.7 1642,303.1 1641,316.7 1640,306.5 1639,291.8 1638,326.7 1637,326.7 1636,245 1635,270.2 1634,318.3 1633,340.6 1632,343.1 1631,344.4 1630,302.1 1629,308.5 1628,308.5 1627,280.8 1626,296.2 1625,319.4 1624,292.9 1623,296.1 1622,317 1621,296.4 1620,271.8 1619,285.7 1618,285.7 1617,290.3 1616,311 1615,301.3 1614,240.1 1613,265.4 1612,304.5 1611,304.5 1610,241.1 1609,260.2 1608,311.6 1607,311.6 1606,282 1605,314 1604,326.8 1603,327.3 1602,321.5 1601,303.7 1600,303.3 1599,310.9 1598,290.1 1597,263 1596,273.4" fill="#000" stroke="none"/>
<polyline points="1206.3,335.7 1206.8,357.4 1207.3,367.8 1207.4,363.3 1207.9,366 1208.4,353.1 1208.5,342.5 1209,366.5 1209.4,363.6 1209.6,353.1 1210.1,360.4 1210.7,311.5 1211.2,289.6 1211.5,261.1 1211.8,274.5 1212.3,313.3 1212.5,315.5 1212.9,304.1 1213.4,315.5 1214,304.9 1214.5,315.5 1215.1,294.4 1215.6,306 1216.2,274.4 1216.7,284.2 1217.3,260 1217.8,267.1 1218.4,258 1218.8,254.8 1218.9,264 1219.5,275.6 1219.9,294.6 1220,289.2 1220.6,258 1220.9,253.8 1221.1,269.2 1221.7,277.8 1222,298.8 1222.2,292.9 1222.8,252.5 1223.3,252.3 1223.4,233.9 1223.9,248.8 1224.4,313.9 1224.7,307.1 1225,262.7 1225.5,231.8 1225.5,264 1226.1,282.6 1226.6,356.6 1227.2,357.7 1227.7,381.8 1228.3,352.5 1228.8,381.8 1228.9,381.4 1229.4,364.8 1229.9,355.2 1230.3,342.7 1230.5,344.5 1231,356.7 1231.6,362.2 1232.1,370.2 1232.7,366.9 1233.2,370.3 1233.5,369.9 1233.8,365.5 1234.3,364.1 1234.9,356.8 1235.1,355.2 1235.4,360 1236,362.1 1236.5,369.9 1236.6,369.9 1237.1,367.7 1237.6,370.1 1238.2,366 1238.7,369.2 1239.3,361.1 1239.8,359.8 1240.4,352.3 1240.8,351 1240.9,353.5 1241.5,354.9 1242,360.3 1242.6,362 1242.9,365.7 1243.1,365.4 1243.7,361.9 1244.2,361.6 1244.8,357.1 1245.3,357.7 1245.9,355.4 1246.4,357.6 1247,353.5 1247.5,353.5 1248.1,348.9 1248.6,348 1249.2,344.8 1249.2,344.2 1249.7,349.3 1250.3,349.2 1250.8,356.2 1251.2,357.3 1251.4,353.4 1251.9,350.9 1252.5,338.4 1253,333.6 1253.3,328 1253.6,327.2 1254.1,336.1 1254.7,338 1254.8,340.6 1255.2,335.5 1255.8,322.5 1256.3,317.3 1256.5,313.4 1256.9,314.4 1257.4,323.6 1258,320.6 1258.1,323.9 1258.5,319.2 1259.1,300.4 1259.6,292.5 1259.6,295.4 1260.2,294.7 1260.7,307.8 1261.3,308.2 1261.8,334.6 1262.4,340.1 1262.9,346.3 1263.5,341 1263.8,345.8 1264,346.3 1264.6,342.7 1265.1,343.4 1265.7,340.6 1265.9,340.6 1266.2,341.6 1266.8,339.8 1267.3,343.3 1267.9,341.1 1268,342.7 1268.4,340.2 1269,334.4 1269.5,333.3 1270.1,328 1270.1,327.4 1270.6,331.4 1271.2,329.4 1271.7,333.7 1272.2,334.3 1272.3,330.8 1272.8,328.4 1273.4,318.2 1273.9,315.5 1274.2,310.3 1274.5,311.5 1275,318.8 1275.6,320.9 1276.1,326.9 1276.3,328 1276.7,323.7 1277.2,324.8 1277.8,316.5 1278.3,316.2 1278.9,307.3 1279.4,306.2 1280,299.2 1280.1,298.8 1280.5,304.7 1281.1,308.6 1281.6,315.5 1281.6,315.7 1282.2,308.8 1282.7,308.9 1283.3,297.3 1283.8,298 1284.4,283.4 1284.9,282.7 1285.5,267.5 1285.8,265.3 1286,268.9 1286.6,268.1 1287.1,276.6 1287.7,277 1288.2,286.4 1288.8,285.9 1289.3,296.2 1289.9,296.5 1290.4,302 1291,301 1291,302.9 1291.5,300.8 1292.1,294.8 1292.6,293.9 1293.1,290.4 1293.2,290.5 1293.7,297.1 1294.3,298.3 1294.8,305.7 1295.2,307.1 1295.4,303.9 1295.9,300.6 1296.5,293.3 1296.6,292.5 1297,299 1297.6,303.4 1298.1,314.7 1298.3,315.5 1298.7,312.9 1299.2,313 1299.8,307.6 1300.3,309.1 1300.9,302.7 1301.4,303.1 1302,298.4 1302.5,296.7 1302.5,298 1303.1,298.4 1303.6,305 1304.2,305.9 1304.7,311.8 1305.3,312.2 1305.6,315.5 1305.8,315.6 1306.4,310.9 1306.9,312.9 1307.5,308.9 1308,308.9 1308.6,296.7 1309.1,297.4 1309.7,286.9 1309.8,286.2 1310.2,298.1 1310.8,300.8 1311.3,317 1311.9,322 1311.9,325.9 1312.4,325.5 1313,311.8 1313.5,315.9 1314.1,301.2 1314.6,295.9 1315.2,275.7 1315.7,269.1 1316.1,259 1316.3,260.3 1316.8,268.9 1317.4,269 1317.5,273.7 1317.9,270.2 1318.5,261.3 1319,258.6 1319.2,254.8 1319.6,256.6 1320.1,267.5 1320.7,268.8 1320.9,273.7 1321.2,270.6 1321.8,259.8 1322.3,257.7 1322.9,250.5 1323.4,254.3 1323.8,250.7 1324,255.1 1324.5,295 1324.9,310.3 1325.1,302.2 1325.6,298.9 1326.2,277.8 1326.5,273.7 1326.7,276.9 1327.3,273.1 1327.8,282.3 1328,277.8 1328.4,268.9 1328.9,267.6 1329.5,250.8 1330,248.4 1330.1,244.4 1330.6,259.4 1331.1,292.4 1331.7,305.8 1331.8,312.4 1332.2,309.4 1332.8,295.5 1333.3,300.7 1333.9,285.6 1334.4,281.3 1335,265.7 1335.5,264.2 1335.5,259 1336.1,275.7 1336.6,299.4 1337,309.2 1337.2,298 1337.7,278.5 1338.3,246.8 1338.5,240.2 1338.8,251.8 1339.4,252.4 1339.9,271.7 1340.5,280.3 1341,299.8 1341.6,309 1341.8,317.6 1342.1,311 1342.7,287.9 1343.2,284.5 1343.8,269.5 1344.3,269.6 1344.9,254.9 1345.4,252.7 1345.4,259.2 1346,275 1346.5,308.5 1346.8,315.5 1347.1,309.7 1347.6,315.8 1348.2,310.9 1348.7,314.5 1349.3,310.8 1349.8,311.3 1350.4,304.3 1350.9,304.4 1351.5,298.9 1352,299.3 1352.6,296.6 1353.1,298.6 1353.7,295.4 1354.2,296.2 1354.8,292.9 1355.3,293.6 1355.8,291.4 1355.9,290.8 1356.4,293 1357,292.3 1357.5,295.2 1358.1,294.1 1358.6,298.1 1359.2,297.3 1359.7,300.8 1360.3,300.1 1360.8,303.1 1361.4,302.2 1361.9,304.1 1362.5,303.5 1363,305.6 1363.1,305 1363.6,301.9 1364.1,303.4 1364.7,297.7 1365.2,301.4 1365.8,292.9 1366.3,291.7 1366.9,284.6 1367.3,282 1367.4,284.6 1368,282.7 1368.5,289 1369.1,287.2 1369.4,290.4 1369.6,289.2 1370.2,278.9 1370.7,275.1 1370.9,271.6 1371.3,274.6 1371.8,282.8 1372.4,285.8 1372.9,290.8 1373.5,289 1374,294.5 1374.2,294.6 1374.6,288.1 1375.1,282.5 1375.7,268.4 1376.2,266.9 1376.3,263.2 1376.8,275.2 1377.3,298.9 1377.9,305.6 1378.4,320.5 1379,315.3 1379.2,323.9 1379.5,314 1380.1,267.4 1380.5,250.7 1380.6,264.4 1381.2,282.6 1381.7,325.5 1382.3,331.8 1382.8,352.3 1383.4,342.6 1383.4,352.1 1383.9,333.1 1384.5,295.5 1385,287.2 1385.6,249.1 1385.7,242.3 1386.1,270.6 1386.7,291.2 1386.8,302.9 1387.2,298 1387.8,279.7 1388.3,272.6 1388.9,242.3 1389.3,227.6 1389.4,236.6 1390,238 1390.5,262.8 1391.1,268 1391.6,295 1392.2,295.6 1392.7,312.8 1393.3,314.8 1393.5,319.7 1393.8,314.7 1394.4,295.2 1394.9,289 1395.1,282 1395.5,288.6 1396,309 1396.6,319.7 1396.6,323.9 1397.1,319.3 1397.7,303.5 1398.2,301.8 1398.8,286.7 1399.3,286.5 1399.7,275.8 1399.9,281.3 1400.4,311.1 1401,325.1 1401.5,335.9 1402.1,329.3 1402.2,336.4 1402.6,328.7 1403.2,306.2 1403.5,298.8 1403.7,308.4 1404.3,319.5 1404.8,339.1 1405,342.7 1405.4,331.1 1405.9,331.4 1406.5,308 1407,284.6 1407.6,246.2 1407.7,240.2 1408.1,270.3 1408.7,283.2 1408.7,290.4 1409.2,279.3 1409.8,248.6 1410.2,238.1 1410.3,255.6 1410.9,288.5 1411.2,323.9 1411.4,320.9 1412,305.2 1412.5,301.1 1413.1,274.1 1413.6,262.8 1414.2,235.1 1414.4,227.6 1414.7,241.4 1415.3,249 1415.8,268 1416.4,264.4 1416.9,283.2 1417.5,283.4 1418,306.6 1418.6,315.5 1418.6,311.9 1419.1,312.7 1419.7,296.3 1420.2,297.8 1420.8,282.9 1421.3,283 1421.9,264.8 1422.4,264.9 1422.7,256.9 1423,261 1423.5,294.3 1424.1,305.2 1424.4,323.9 1424.6,314.7 1425.2,271.1 1425.7,251.2 1425.9,231.8 1426.3,263.7 1426.8,330.5 1426.9,340.6 1427.4,299.1 1427.9,288.7 1428.5,247.1 1428.6,240.2 1429,301.4 1429.6,358.3 1429.6,374.1 1430.1,365.5 1430.7,318.3 1431.2,325.8 1431.8,281 1432.3,280.9 1432.8,246.5 1432.9,242.4 1433.4,281.1 1434,285.4 1434.2,307.1 1434.5,286.2 1435.1,230.4 1435.3,210.9 1435.6,270.4 1436.2,326.7 1436.3,357.3 1436.7,326.6 1437.3,252.1 1437.8,208.8 1437.8,225.6 1438.4,240.8 1438.9,299.1 1439.1,294.6 1439.5,239.5 1439.9,217.2 1440,268.9 1440.6,366.1 1441.1,397 1441.6,397.1 1441.7,374.1 1442.2,397 1442.8,376.6 1443.3,385.3 1443.9,371.4 1444.4,377.9 1444.7,365.7 1445,370.6 1445.5,394.2 1445.8,401.2 1446.1,356.6 1446.6,314.7 1446.8,292.5 1447.2,320.8 1447.7,400.2 1447.8,405.4 1448.3,356.9 1448.8,332.1 1448.9,315.5 1449.4,352.7 1449.9,411.5 1449.9,411.7 1450.5,382 1451,400.2 1451.6,339.6 1452.1,326.5 1452.7,259.1 1453.1,250.7 1453.2,274 1453.8,282.5 1454.1,313.4 1454.3,310.1 1454.9,290.1 1455.4,286.5 1456,265.7 1456.5,270.5 1457.1,257.1 1457.6,260.2 1458.2,256.5 1458.3,256.9 1458.7,271.3 1459.3,280.2 1459.8,290.5 1460.4,284.8 1460.9,292 1461.5,289.9 1462,293.1 1462.6,291.7 1463.1,293.2 1463.7,290.9 1464.2,290.7 1464.8,286.4 1465.3,286.2 1465.6,284.1 1465.9,284.4 1466.4,288.2 1467,288.7 1467.5,293.7 1468.1,292.3 1468.6,298.6 1469.2,298.2 1469.7,303.2 1469.8,302.9 1470.3,300.3 1470.8,299.6 1471.4,295.4 1471.9,294.6 1471.9,295.3 1472.5,294.6 1473,299.3 1473.6,297.3 1474.1,304.8 1474.7,311.8 1475,319.7 1475.2,318 1475.8,308.8 1476.3,305.4 1476.7,298.8 1476.9,298.7 1477.4,304 1478,302.3 1478.5,306.7 1478.8,307.1 1479.1,302.4 1479.6,299.3 1480.2,287.8 1480.7,272.9 1480.9,262.2 1481.3,270.6 1481.8,288.5 1482.4,300.8 1482.4,298.6 1482.9,301.5 1483.5,293 1484,296.7 1484.4,292.5 1484.6,293.1 1485.1,299.9 1485.5,302.9 1485.7,301.7 1486.2,302.3 1486.8,298.8 1487.3,301.3 1487.9,294.9 1488.4,294.3 1489,285.3 1489.5,284.2 1490.1,274 1490.6,273.7 1490.7,269.5 1491.2,274.2 1491.7,288.3 1491.8,288.3 1492.3,278.4 1492.8,274.6 1493.4,261.9 1493.9,256.9 1493.9,260.5 1494.5,259.5 1495,267.5 1495.6,268.8 1495.9,273.7 1496.1,273.1 1496.7,267.2 1497.2,266.1 1497.8,260.4 1498,259 1498.3,262 1498.9,261.6 1499.4,267.6 1500,267 1500.1,269.5 1500.5,266.7 1501.1,258 1501.6,254.8 1502.2,246.3 1502.2,246.5 1502.7,252.1 1503.3,253.1 1503.8,260.7 1504.3,263.2 1504.4,260.9 1504.9,259.6 1505.5,249.2 1506,247.1 1506.4,242.3 1506.6,241.9 1507.1,245.5 1507.7,244.1 1508.2,247 1508.8,247 1509.3,251.3 1509.9,251.9 1510.4,256.8 1510.6,256.9 1511,252.3 1511.5,250.6 1512.1,241.8 1512.6,239.5 1512.7,238.1 1513.2,238.1 1513.7,243.6 1514.3,242.9 1514.8,248.2 1515.4,247.1 1515.8,250.7 1515.9,250.4 1516.5,242.3 1517,242.7 1517.6,231.9 1518.1,233.2 1518.7,227.4 1519.2,230.2 1519.8,226.4 1520.3,226.6 1520.9,224.6 1521.4,224.9 1522,222.7 1522.5,223.3 1523.1,220.4 1523.6,221.7 1524.2,219.6 1524.7,220.6 1525.3,218.7 1525.8,219.3 1526.4,217.4 1526.9,218.5 1527.5,217.2 1528,218.2 1528.6,216.4 1529.1,217.2 1529.7,216.1 1530.2,216.9 1530.5,216.1 1530.8,215.9 1531.3,217.8 1531.9,217.7 1532.4,219.3 1533,218.6 1533.5,220.7 1534.1,219.9 1534.6,221.1 1535.2,220.5 1535.7,221.4 1536.3,220.7 1536.8,221.8 1537.4,221.5 1537.9,222.5 1538.5,222.1 1539,223.7 1539.6,222.8 1540.1,224.4 1540.7,224.2 1541.2,227.1 1541.8,226 1542.3,228.9 1542.9,228.6 1543.4,231.4 1544,231.2 1544.5,234.4 1545.1,233.1 1545.1,233.9 1545.6,231 1546.2,225.4 1546.7,223.5 1546.8,222.4 1547.3,222 1547.8,224.6 1548.4,223.9 1548.9,225.5 1549.3,225.6 1549.5,224 1550,224.6 1550.6,220.2 1551.1,222.7 1551.4,220.3 1551.7,221.2 1552.2,231.5 1552.8,235.2 1553.3,243.5 1553.5,244.4 1553.9,236.1 1554.4,233.3 1554.5,229.7 1555,231.5 1555.5,238 1556.1,239.3 1556.6,251.7 1557.2,254.2 1557.2,256.9 1557.7,249.3 1558.3,237.8 1558.7,231.8 1558.8,234.4 1559.4,234.7 1559.9,242.5 1560.5,248.3 1561,276.2 1561.4,286.2 1561.6,258.4 1562.1,247.7 1562.7,203.3 1563.2,222 1563.8,203.3 1563.9,202.5 1564.3,220.6 1564.9,203.3 1565.4,216.1 1566,212.2 1566.5,250.8 1567.1,236.4 1567.6,272.1 1568.1,277.8 1568.2,265.9 1568.7,250.6 1569.2,210.9 1569.3,214.2 1569.8,240.7 1570.2,244.4 1570.4,233.5 1570.9,240.3 1571.5,214.2 1571.9,213 1572,220.5 1572.6,223.4 1573.1,244.2 1573.3,248.6 1573.7,230.9 1574.2,232.6 1574.8,210.8 1574.8,210.9 1575.3,237.2 1575.9,245.6 1576.1,259 1576.4,251.7 1577,219.9 1577.5,210.9 1577.5,218.1 1578.1,210.3 1578.6,228.2 1579.2,210.3 1579.7,251.2 1580.3,226.2 1580.8,297.3 1581.3,317.6 1581.4,299.6 1581.9,291.7 1582.5,247.3 1583,257.2 1583.6,242.9 1583.8,240.2 1584.1,260.7 1584.7,255.5 1585.2,277.8 1585.3,277.8 1585.8,267.6 1586.3,269.2 1586.9,258.9 1586.9,259 1587.4,269.4 1588,269.8 1588.5,281.7 1588.6,282 1589.1,261.5 1589.6,255 1590.1,236 1590.2,241.1 1590.7,274.3 1591.3,297.8 1591.5,313.4 1591.8,306.4 1592.4,284.8 1592.9,279 1593.2,269.5 1593.5,274.9 1594,289.8 1594.6,298.5 1594.9,307.1 1595.1,301 1595.7,280.2 1596.2,269.1 1596.8,261.1 1597.3,267.6 1597.8,261.1 1597.9,261.1 1598.4,289.2 1599,306.2 1599.1,313.4 1599.5,310.6 1600.1,286.2 1600.5,279.9 1600.6,288.2 1601.2,291.6 1601.7,314.7 1602.3,313.9 1602.8,329.1 1603.2,330.1 1603.4,322 1603.9,325.4 1604.5,310.3 1605,297.4 1605.6,263.7 1605.8,254.8 1606.1,272.6 1606.7,284.6 1607.2,308.9 1607.4,315.5 1607.8,292.7 1608.3,279 1608.9,236.7 1609.4,244.6 1610,233.3 1610.4,231.8 1610.5,252.5 1611.1,269.9 1611.6,311.3 1611.6,311.2 1612.2,273.5 1612.7,264.1 1613.1,236 1613.3,235.9 1613.8,246.5 1614.4,235.9 1614.9,268.7 1615.5,290.5 1615.8,319.7 1616,310.7 1616.6,279 1617.1,268.1 1617.3,259 1617.7,262.9 1618.2,284.4 1618.7,290.4 1618.8,283.2 1619.3,278.8 1619.9,258.6 1620.4,250.7 1620.4,257.2 1621,271.6 1621.5,303.4 1622.1,319.7 1622.1,311.3 1622.6,295.3 1623.2,252.1 1623.5,240.2 1623.7,257.9 1624.3,276.1 1624.8,311.2 1625,319.7 1625.4,292.7 1625.9,281.7 1626.5,250.5 1626.7,242.3 1627,263 1627.6,279 1628.1,310.4 1628.3,319.7 1628.7,281.5 1629.2,271.4 1629.8,218.5 1629.8,217.2 1630.3,297.1 1630.8,344.8 1630.9,332.8 1631.4,345.4 1632,330.1 1632.5,345.4 1633.1,310.4 1633.6,333.8 1634.2,275.6 1634.7,265.5 1635.3,228.5 1635.8,238.2 1636.3,227.6 1636.4,228.5 1636.9,292.1 1637.5,317.9 1637.5,330.1 1638,324.2 1638.6,283.3 1639.1,270.7 1639.2,263.2 1639.7,272.3 1640.2,301.6 1640.8,309.7 1640.9,319.7 1641.3,314.9 1641.9,289.8 1642.4,285.6 1643,257.2 1643.5,253.4 1643.8,238.1 1644.1,245.9 1644.6,288 1645.1,302.9 1645.2,285.6 1645.7,255 1646.1,217.2 1646.3,227.5 1646.8,272.1 1647.4,299.1 1647.6,319.7 1647.9,310.9 1648.5,290.3 1649,290.7 1649.3,273.7 1649.6,273.3 1650.1,313.2 1650.7,302.6 1650.7,317.6 1651.2,258.9 1651.3,229.7 1651.8,230.1 1652.3,236 1652.9,230.1 1653.4,239.6 1654,235.1 1654.5,241.7 1655.1,242.1 1655.6,248.4 1655.9,248.6 1656.2,247.1 1656.7,247.5 1657.3,243.7 1657.8,244.7 1658.4,241.4 1658.9,241.2 1659.1,240.2 1659.5,239.8 1660,241.1 1660.6,240.8 1661.1,242.2 1661.7,241.2 1662.2,242.8 1662.8,242.6 1663.3,244.2 1663.9,243.6 1664.4,245.9 1665,244.9 1665.4,246.5 1665.5,246.8 1666.1,243.6 1666.6,243.9 1667.2,241.7 1667.7,241.3 1668.3,239 1668.5,239.2 1668.8,240.7 1669.4,240.8 1669.9,244 1670.5,243.2 1671,247.8 1671.6,246.5 1672.1,254.4 1672.7,250 1673.2,262.4 1673.8,266.8 1674.3,278 1674.8,282 1674.9,278 1675.4,275.7 1676,262.6 1676.4,259 1676.5,262.9 1677.1,269.5 1677.6,282 1677.9,286.2 1678.2,282.2 1678.7,283.9 1679.3,276.1 1679.8,277.1 1680.4,266.7 1680.9,261.1 1680.9,262.5 1681.5,264.4 1682,270.1 1682.6,271.9 1683.1,276.6 1683.7,273.3 1684.2,277.6 1684.8,276.1 1685.3,279.5 1685.9,277.6 1686.4,280.8 1687,279.3 1687.5,282.2 1688.1,281.1 1688.6,285.1 1689.2,285.9 1689.7,290.4 1689.7,290.8 1690.3,282.8 1690.8,280.8 1691.4,273.7 1691.4,273 1691.9,287.7 1692.5,294 1693,299.2 1693.6,294.8 1694.1,299.3 1694.7,297.7 1695.2,298.8 1695.8,296.7 1696.3,298.4 1696.9,294.2 1697.4,296.3 1698,290.7 1698.5,291.9 1699.1,285.5 1699.6,287.4 1700.2,279.2 1700.7,279.9 1701.3,268.5 1701.8,266 1701.8,263.2 1702.4,267.6 1702.9,273.7 1702.9,275.5 1703.5,269.7 1704,270.2 1704.6,263.6 1705.1,264 1705.7,256.5 1706,254.8 1706.2,259 1706.8,259.2 1707.3,271.6 1707.9,277.7 1708.4,301.1 1708.5,304 1709,274.9 1709.5,257 1710.1,251.1 1710.6,257.8 1711.2,250.1 1711.2,251.7 1711.7,267.9 1712.3,280 1712.3,282 1712.8,267.2 1713.3,250.7 1713.4,250.1 1713.9,255.7 1714.5,252.7 1715,257.2 1715.6,256.1 1716.1,261.7 1716.7,271.2 1716.9,277.8 1717.2,274.6 1717.8,265.5 1718.3,264.5 1718.9,260.1 1719.4,261.7 1720,259.2 1720.5,260.5 1720.7,259 1721.1,259.1 1721.6,260.4 1722.2,259.8 1722.7,261.6 1723.3,258.2 1723.8,258 1723.8,258.9 1724.4,260.8 1724.9,266 1725.3,267.4 1725.5,260.4 1726,248.5 1726.1,244.4 1726.5,288.3" stroke="#000"/>
<polyline points="1206.3,333.7 1206.8,333.2 1207.4,330.2 1207.9,329.9 1208.5,327.2 1209,326.9 1209.4,324.9 1209.6,324.4 1210.1,326.6 1210.7,325.3 1211.2,327.2 1211.8,326.6 1212.3,328.3 1212.9,327.7 1213.4,328.7 1214,328.1 1214.5,329.7 1215.1,328.2 1215.6,330 1216.2,328.6 1216.7,330 1217.3,329.3 1217.8,330.7 1218.4,329.5 1218.9,331.3 1219.5,329.8 1220,331.2 1220.6,330.4 1221.1,331.9 1221.7,330.8 1222.2,332 1222.8,331.2 1223.3,332.2 1223.9,331.2 1224.4,333 1225,331.8 1225.5,333 1226.1,331.9 1226.6,333.5 1227.2,332.2 1227.7,334 1228.3,332.8 1228.8,334.1 1229.4,333.1 1229.9,334.4 1230.5,333.7 1231,334.6 1231.6,333.5 1232.1,334.4 1232.7,333.7 1233.2,335 1233.8,331.7 1234.3,334.8 1234.9,330.2 1235.4,334.6 1236,295.3 1236.5,287.2 1237.1,283.1 1237.2,283.7 1237.6,291 1238.2,288.2 1238.7,298.6 1239.3,291.4 1239.8,332 1240.4,329.6 1240.9,334.4 1241.5,328.1 1242,334.7 1242.6,332.8 1243.1,334.3 1243.7,332.7 1244.2,335 1244.8,333.5 1245.3,335 1245.9,333.9 1246.4,335.5 1247,334.4 1247.5,336 1248.1,333.9 1248.6,336.6 1249.2,334.4 1249.7,337 1250.3,335.4 1250.8,336.6 1251.4,334.8 1251.9,337.3 1252.5,335.7 1253,337.4 1253.6,335.6 1254.1,337.5 1254.7,336 1255.2,337.2 1255.8,336 1256.3,337.3 1256.9,336.2 1257.4,337.8 1258,336.3 1258.5,337.4 1259.1,336.7 1259.6,337.7 1260.2,336.3 1260.7,337.9 1261.3,336.7 1261.8,337.8 1262.4,336.3 1262.9,338.1 1263.5,336.7 1264,337.6 1264.6,336.6 1265.1,337.6 1265.7,335.2 1266.2,337.7 1266.8,335.7 1267.3,337.6 1267.9,331.3 1268.4,330.8 1269,323.5 1269,323.9 1269.5,328.5 1270.1,328.2 1270.6,334.9 1271.1,336.4 1271.2,333.9 1271.7,337.1 1272.3,334.2 1272.8,336.5 1273.4,333.7 1273.9,328.8 1274.2,319.7 1274.5,320.6 1275,327.5 1275.6,326.7 1276.1,334.5 1276.7,333.5 1277.2,335 1277.8,333.3 1278.3,335 1278.9,333.7 1279.4,335 1280,333.8 1280.5,334.7 1281.1,333.6 1281.6,335.1 1282.2,333.6 1282.7,335 1283.3,333.6 1283.8,335.4 1284.4,333.6 1284.9,335.8 1285.5,334 1286,335.6 1286.6,334.7 1287.1,336.7 1287.7,334.4 1288.2,337.1 1288.8,335.3 1289.3,337.1 1289.9,333.9 1290.4,337.1 1291,331.6 1291.5,337.1 1292.1,329.5 1292.6,319.9 1293.1,302.9 1293.2,304.4 1293.7,320.9 1294.3,323.7 1294.8,341.4 1295.2,346.9 1295.4,338.5 1295.9,337.6 1296.5,320.1 1297,314.7 1297.3,309.2 1297.6,312.4 1298.1,321.2 1298.7,322.6 1299.2,335.8 1299.8,333.3 1300.3,336.4 1300.9,333.3 1301.4,337.1 1302,334.4 1302.5,337.1 1303.1,333.8 1303.6,336.6 1304.2,330.7 1304.7,327.7 1305.2,300.8 1305.3,301.9 1305.8,317.5 1306.4,325.8 1306.7,336.4 1306.9,335.4 1307.5,327.6 1308,330 1308.6,321 1309.1,321.2 1309.2,319.7 1309.7,321.9 1310.2,330.3 1310.8,330.9 1311.3,337.3 1311.9,333.5 1312.4,337.5 1313,335.8 1313.5,337.6 1314.1,336.3 1314.6,339.2 1315.2,337.1 1315.7,340.4 1316.3,339.1 1316.8,341.2 1317.4,339.4 1317.9,342.5 1318.5,341.5 1319,343.3 1319.2,342.7 1319.6,341.3 1320.1,342.9 1320.7,341.3 1321.2,342.8 1321.8,340.7 1322.3,342.4 1322.9,340.8 1323.4,342.2 1324,339.7 1324.5,341.5 1325.1,340.1 1325.6,341.6 1326.2,338.4 1326.7,340.4 1327.3,337.8 1327.8,339.7 1328.4,336.4 1328.9,337.7 1329.5,335.9 1329.7,336.4 1330,337.5 1330.6,336.7 1331.1,339.7 1331.7,337.9 1332.2,341.1 1332.8,339.6 1333.3,342.3 1333.9,341.6 1333.9,341 1334.4,341.8 1335,339.9 1335.5,340.9 1336.1,339.3 1336.6,340.5 1337.2,338.4 1337.7,339 1338,338.5 1338.3,338.2 1338.8,339.7 1339.4,338.9 1339.9,340.7 1340.5,339.7 1341,341.1 1341.6,340.7 1342.1,342.4 1342.7,341.2 1343.2,342.7 1343.8,341.1 1344.3,342.8 1344.9,341.6 1345.4,343.1 1346,342.1 1346.5,343.5 1347.1,342.3 1347.6,343.8 1348.2,342.7 1348.7,344.1 1349.3,342.6 1349.8,344.2 1350.4,343.1 1350.9,344.1 1351.5,343.1 1352,344.4 1352.6,343.3 1353.1,344.3 1353.7,343.8 1354.2,344.5 1354.8,343.5 1355.3,344.6 1355.9,343.5 1356.4,344.8 1357,343.8 1357.5,345 1358.1,343.9 1358.6,344.9 1359.2,344.2 1359.7,345.4 1360.3,344.4 1360.8,345.3 1361.4,344.1 1361.9,344.9 1362.5,344.1 1363,344.5 1363.6,343.3 1364.1,344.8 1364.7,343.3 1365.2,344.6 1365.8,343.1 1366.3,344.1 1366.9,343.4 1367.4,344.9 1368,343.9 1368.5,345.8 1369.1,344.3 1369.6,346.4 1370.2,345.3 1370.7,346.7 1371.3,345.5 1371.8,347.2 1372.4,346.1 1372.9,347.5 1373.5,346 1374,347.1 1374.6,345.5 1375.1,346.5 1375.7,344.6 1376.2,346.4 1376.8,344.4 1377.3,345.7 1377.9,343.3 1378.4,342.1 1379,335.9 1379.5,335.8 1379.9,332.2 1380.1,332.8 1380.6,337.7 1381.2,338.6 1381.7,344.1 1382,344.8 1382.3,341.1 1382.8,338 1383.4,332 1383.9,329.3 1384.1,327 1384.5,327.5 1385,332.5 1385.6,333.1 1386.1,337 1386.1,336.4 1386.7,335.1 1387.2,336.2 1387.8,334.9 1388.3,336.2 1388.9,333.9 1389.3,334.3 1389.4,336.2 1390,336.1 1390.5,340 1391.1,341 1391.4,342.7 1391.6,343 1392.2,341 1392.7,342.1 1393.3,338.9 1393.8,340.7 1394.4,338 1394.9,337.7 1395.5,333.7 1396,334.2 1396.6,329.5 1397.1,329.5 1397.6,325.9 1397.7,325.3 1398.2,327.2 1398.8,325.6 1399.3,327.6 1399.9,326.8 1400.4,328.4 1400.8,328 1401,327.2 1401.5,327.6 1402.1,325.5 1402.6,326.2 1403.2,324.3 1403.7,325.7 1404.3,323.2 1404.8,325.2 1405.4,323.2 1405.9,324.8 1406.5,323.2 1407,325.2 1407.6,323.2 1408.1,325.2 1408.7,323.5 1409.2,326.6 1409.8,324.8 1410.3,328 1410.9,326.3 1411.2,328 1411.4,328.2 1412,323.6 1412.5,325.2 1413.1,321.1 1413.6,321 1414.2,317.6 1414.4,317.6 1414.7,319.2 1415.3,318.4 1415.8,321.8 1416.4,320 1416.9,323.6 1417.5,322.7 1417.5,323.9 1418,323.7 1418.6,320.4 1419.1,321.4 1419.7,317.5 1420.2,318.5 1420.7,315.5 1420.8,315 1421.3,317.5 1421.9,316.4 1422.4,320.6 1423,319.2 1423.5,321.9 1423.8,321.8 1424.1,318.5 1424.6,320 1425.2,312.5 1425.7,315.3 1426.3,303.9 1426.8,306.9 1427.4,293.5 1427.9,294.4 1428,290.4 1428.5,290.3 1429,296.1 1429.6,293.1 1430.1,296.7 1430.1,297.1 1430.7,293.4 1431.2,293.8 1431.8,287.5 1432.3,289.3 1432.9,285 1433.4,287.9 1434,283.1 1434.5,284.3 1435.1,281.8 1435.3,282 1435.6,287.1 1436.2,290.3 1436.3,294.6 1436.7,293.3 1437.3,285.6 1437.8,285.6 1438.4,275.9 1438.9,278.7 1439.5,273 1440,276.4 1440.6,272.1 1441.1,273.8 1441.7,270.3 1442.2,271.3 1442.8,268.3 1443.3,268.8 1443.7,267.4 1443.9,267 1444.4,269.3 1445,269.1 1445.5,271.6 1446.1,270.4 1446.6,273.4 1447.2,272.6 1447.7,276.2 1448.3,276.4 1448.8,279.2 1449.4,279.2 1449.9,282.7 1449.9,282 1450.5,278.5 1451,278.5 1451.6,273.2 1452.1,275.2 1452.7,267.5 1453.2,266 1453.8,259.4 1454.3,260.3 1454.9,257 1455.4,258.2 1456,256.5 1456.2,256.9 1456.5,259 1457.1,260.2 1457.6,264.7 1458.2,265.8 1458.7,269.4 1459.3,267.1 1459.8,270.1 1460.4,268.9 1460.9,270.6 1461.5,269.8 1462,270.4 1462.6,269.2 1463.1,270.3 1463.7,268.3 1464.2,269.5 1464.8,268 1465.3,269.4 1465.9,268.1 1466.4,269.8 1467,268.6 1467.5,269.9 1468.1,269.6 1468.6,271.8 1469.2,270.3 1469.7,272.8 1470.3,271.9 1470.8,274.3 1471.4,273.3 1471.9,275.8 1472.5,274.7 1473,276.7 1473.6,275.9 1474.1,277.6 1474.7,276.9 1475.2,278.1 1475.8,277.5 1476.3,279.3 1476.9,278.4 1477.4,279.5 1478,278.3 1478.5,279.4 1479.1,277.8 1479.6,278.5 1480.2,277.3 1480.7,277.7 1481.3,273.8 1481.8,274.3 1482.4,271.6 1482.4,270.9 1482.9,272.6 1483.5,272.1 1484,273.9 1484.6,272.7 1485.1,275.1 1485.7,274.7 1486.2,277.2 1486.8,276.2 1487.3,278.9 1487.9,277.8 1488.4,281.2 1489,280.4 1489.5,284.4 1490.1,284 1490.6,286.8 1490.7,286.2 1491.2,285.6 1491.7,286.7 1492.3,285.4 1492.8,286.3 1493.4,284.9 1493.9,285.7 1494.5,285.5 1495,286.9 1495.6,286.3 1496.1,288.5 1496.7,287.2 1497.2,288.8 1497.8,287.4 1498.3,288.7 1498.9,287.9 1499.4,289.1 1500,287.6 1500.5,289.2 1501.1,287.9 1501.6,289.4 1502.2,288.4 1502.7,290.4 1503.3,289.1 1503.8,291.1 1504.4,290.1 1504.9,291.5 1505.5,291.1 1506,292.9 1506.6,291.6 1507.1,294.5 1507.7,292.5 1508.2,296.2 1508.8,295.4 1509.3,304.7 1509.9,307.7 1510.4,314.6 1510.6,315.5 1511,306.1 1511.5,295.8 1511.6,292.5 1512.1,294.2 1512.6,299.3 1513.2,300.2 1513.7,305.7 1513.7,305 1514.3,300.3 1514.8,298.6 1515.4,292 1515.8,290.4 1515.9,291.6 1516.5,292.8 1517,297.8 1517.6,298.6 1517.9,300.8 1518.1,300.4 1518.7,297.2 1519.2,296.7 1519.8,292.6 1520,292.5 1520.3,294.5 1520.9,293.8 1521.4,296.5 1522,296.6 1522.5,300 1523.1,299.3 1523.6,302.1 1524.2,302.1 1524.7,304.2 1525.3,303.2 1525.8,305 1526.4,304.3 1526.9,305.6 1527.5,304.8 1528,307 1528.6,306 1529.1,307.5 1529.7,307 1530.2,308.7 1530.8,307.4 1531.3,309.1 1531.9,307.7 1532.4,309.4 1533,308.6 1533.5,309.9 1534.1,308.7 1534.6,310.2 1535.2,309 1535.7,310.2 1536.3,309.6 1536.8,311 1537.4,309.9 1537.9,310.5 1538.5,309.9 1539,310.7 1539.6,309.8 1540.1,310.7 1540.7,309.6 1541.2,310.6 1541.8,309.8 1542.3,311 1542.9,309.6 1543.4,311.7 1544,310.2 1544.5,312.3 1545.1,311.8 1545.6,313.6 1546.2,312.7 1546.7,313.8 1547.3,312.4 1547.8,313.4 1548.4,312.4 1548.9,313.2 1549.5,311.9 1550,313.3 1550.6,311.5 1551.1,312.8 1551.7,311 1552.2,311.9 1552.8,309.8 1553.3,310.5 1553.9,307.4 1554.4,308.2 1555,305.8 1555.5,307.1 1556.1,304.8 1556.6,306 1557.2,304.3 1557.7,304.8 1558.3,303.3 1558.8,304.6 1559.4,302.7 1559.9,303.4 1560.5,300.9 1561,303 1561.6,298.3 1562.1,301.9 1562.7,297.6 1563.2,300.2 1563.8,296.5 1564.3,298.9 1564.3,296.7 1564.9,301.8 1565.4,313.6 1565.6,315.5 1566,311.4 1566.5,310 1567.1,302.9 1567.6,305.4 1568.2,302.3 1568.7,304.7 1569.3,302.3 1569.8,304.5 1570.4,302.3 1570.9,303.9 1571.5,302.3 1572,304.6 1572.6,302.3 1573.1,304.2 1573.7,303.3 1574.2,304.6 1574.8,302.8 1575.3,304.6 1575.9,303 1576.4,304.6 1577,302 1577.5,304.5 1578.1,301.9 1578.6,304.1 1579.2,301.2 1579.7,303 1580.3,301 1580.8,302.5 1581.4,300.8 1581.9,302.8 1582.5,300 1583,301.7 1583.6,299.7 1584.1,301.7 1584.7,299.5 1585.2,301.4 1585.8,299.2 1586.3,301.1 1586.9,298.7 1587.4,300.7 1588,298.1 1588.5,299.9 1589.1,298.1 1589.6,299.7 1590.2,298.1 1590.7,299.6 1591.3,298.1 1591.8,299.5 1592.4,298.1 1592.9,299.4 1593.5,298.1 1594,300 1594.6,298.1 1595.1,300 1595.7,298.1 1596.2,300.2 1596.8,298.1 1597.3,301.8 1597.9,298.6 1598.4,303.3 1599,300.7 1599.5,305.2 1600.1,303.8 1600.6,308.2 1601.2,306.7 1601.7,310.9 1602.3,309.5 1602.8,313.2 1603.4,311.7 1603.7,313.4 1603.9,313.6 1604.5,310.1 1605,311.9 1605.6,307.2 1606.1,310.9 1606.7,305.9 1607.2,308.3 1607.8,303 1608.3,303.5 1608.9,298.7 1609.4,301.3 1610,299.4 1610.5,301.7 1611.1,298.7 1611.6,300.9 1612,298.8 1612.2,298.3 1612.7,302.8 1613.3,302.4 1613.8,308.8 1614.4,305.8 1614.9,309.5 1615.5,307.4 1616,311.5 1616.6,309.4 1617.1,311.8 1617.3,311.3 1617.7,309.1 1618.2,310.8 1618.8,308.6 1619.3,309.2 1619.9,305.5 1620.4,308.5 1621,304.5 1621.5,307.2 1622.1,302.8 1622.6,305.3 1623.2,302.4 1623.5,302.9 1623.7,304.5 1624.3,302.9 1624.8,304.8 1625.4,302.7 1625.9,305.6 1626.5,303.6 1626.7,305 1627,305.6 1627.6,301.9 1628.1,304 1628.7,299.7 1629.2,300.7 1629.8,298.1 1629.8,298.8 1630.3,300 1630.9,298.9 1631.4,300.7 1632,299.5 1632.5,301.4 1632.9,300.8 1633.1,299.1 1633.6,301.4 1634.2,297.4 1634.7,299.5 1635.3,296.3 1635.8,298.8 1636.1,296.7 1636.4,296.3 1636.9,299.7 1637.5,297.8 1638,301.2 1638.6,298 1639.1,302.6 1639.7,299.3 1640.2,302.9 1640.8,300.5 1641.3,303.4 1641.9,300.5 1642.4,303.4 1643,301.3 1643.4,302.9 1643.5,303.4 1644.1,300.5 1644.6,301.7 1645.2,298.6 1645.7,300.4 1646.3,296.1 1646.5,296.7 1646.8,298.3 1647.4,296.1 1647.9,297.9 1648.5,296.2 1649,298.4 1649.6,296.7 1650.1,298.4 1650.7,295.9 1651.2,298.3 1651.8,295.4 1652.3,297.5 1652.9,294.7 1653.4,296.5 1654,292.8 1654.5,295.1 1655.1,292.5 1655.6,293.3 1656.2,292.2 1656.7,293.2 1657.3,292.4 1657.8,293.7 1658.4,292.5 1658.9,293.9 1659.5,292.5 1660,294.3 1660.6,292.9 1661.1,294.8 1661.7,293.2 1662.2,295 1662.8,293.9 1663.3,295.2 1663.9,294 1664.4,295.7 1665,294.3 1665.5,296.1 1666.1,294.8 1666.6,296.1 1667.2,295.1 1667.7,296.2 1668.3,295.3 1668.8,296.4 1669.4,295.8 1669.9,297 1670.5,295.5 1671,296.8 1671.6,296.2 1672.1,297.3 1672.7,295.9 1673.2,296.8 1673.8,295.4 1674.3,296.8 1674.9,295.1 1675.4,296 1676,294.9 1676.5,295.3 1677.1,294.2 1677.6,295.3 1678.2,293.6 1678.7,294.5 1679.3,293.1 1679.8,293.9 1680.4,293 1680.9,294.1 1681.5,293.6 1682,294.3 1682.6,293.3 1683.1,294.6 1683.7,294 1684.2,295 1684.8,294 1685.3,295.4 1685.9,294.4 1686.4,296.4 1687,295 1687.5,297 1688.1,296 1688.6,297.7 1689.2,297.1 1689.7,298.9 1690.3,298.2 1690.8,301 1691.4,300.2 1691.9,303.2 1692.5,302.3 1693,303.6 1693.6,302.7 1694.1,304 1694.7,303 1695.2,304 1695.8,302.9 1696.3,304.7 1696.9,303.3 1697.4,305.7 1698,304.5 1698.5,306.8 1699.1,305.7 1699.6,307.6 1699.7,307.1 1700.2,305.6 1700.7,306.8 1701.3,304.7 1701.8,304.8 1702.4,303.2 1702.9,302.9 1702.9,303.7 1703.5,302.8 1704,305.4 1704.6,304.4 1705.1,307.1 1705.7,306.3 1706.2,308.8 1706.8,308.1 1707.3,310.7 1707.9,310.5 1708.4,312.5 1709,311.6 1709.5,314.4 1710.1,313.3 1710.6,315.8 1711.2,314.4 1711.7,316.4 1712.3,315.4 1712.8,317.9 1713.4,316.4 1713.9,318.6 1714.5,317.8 1714.8,318.6 1715,319.1 1715.6,317.2 1716.1,318.2 1716.7,316.6 1717.2,317.5 1717.8,315.5 1718.3,316 1718.9,315.1 1719.4,316 1720,315.3 1720.5,316.3 1721.1,315.5 1721.6,316.7 1722.2,315.6 1722.7,317.3 1723.3,316.3 1723.8,317.6 1724.4,316.4 1724.9,317.6 1725.5,316.5 1726,317.7 1726.5,321.8" stroke="#f00"/>
</g>
<line x1="1725.6" y1="455" x2="1725.6" y2="110" stroke="#1f77b4" stroke-width="2.1" stroke-dasharray="2.1 3.4"/>
<path d="M1205 153.5H1211M1205 196.5H1211M1205 239.5H1211M1205 283.5H1211M1205 326.5H1211M1205 369.5H1211M1205 412.5H1211" stroke="#000" stroke-width="1" fill="none"/>
<path d="M1800 386.5H1794M1800 317.5H1794M1800 248.5H1794M1800 179.5H1794" stroke="#f00" stroke-width="1" fill="none"/>
<path d="M1245.5 455V450M1319.5 455V450M1394.5 455V450M1468.5 455V450M1542.5 455V450M1617.5 455V450M1691.5 455V450M1765.5 455V450" stroke="#000" stroke-width="1" fill="none"/>
<path d="M1800 110L1205 110L1205 455L1800 455" fill="none" stroke="#000" stroke-width="2" stroke-linecap="square"/>
<line x1="1800" y1="110" x2="1800" y2="455" stroke="#f00" stroke-width="2" stroke-linecap="square"/>
<g clip-path="url(#d2)" fill="none" stroke-width="2.2" stroke-linejoin="round">
<line x1="1205" y1="512.4" x2="1800" y2="512.4" stroke="#000" stroke-dasharray="2.1 3.4"/>
<polyline points="1205.4,524.5 1209,533.5 1212.6,538 1218,535 1222.5,528.4 1225.5,527.5 1228.5,530.5 1231.5,539.5 1235.4,541.6 1239,539.5 1244.4,535.6 1249.5,541 1254,546.1 1257,544.9 1260,542.5 1264.5,544 1272,547.9 1275,542.5 1278.6,534.4 1281.7,532.6 1287.1,535 1293.1,531.4 1302.1,526.6 1309.6,525.4 1318.6,520.6 1326.1,520.6 1332.1,518.5 1338.1,519.4 1344.1,518.5 1350.1,521.5 1354.6,523 1360,521.5 1366,521.5 1373.5,517 1381,512.5 1388.5,519.4 1394.5,515.5 1399,515.5 1405,524.5 1408.6,527.5 1414,521.5 1418.5,520 1423.6,523.9 1427.5,518.5 1430.5,514.9 1433.5,520 1438.6,517 1441.7,523 1445.6,541 1449.5,552.4 1451.6,554.5 1457.6,548.5 1463.6,545.5 1471.1,538.6 1477.1,538 1482.5,536.5 1489.1,541 1495.1,541.6 1501.1,537.4 1507.1,530.5 1513.1,527.5 1517.6,525.4 1520,522.4 1526,514 1532,515.5 1538,517.6 1544,516.4 1550,515.5 1554.5,511.6 1559,509.5 1563.5,512.5 1568,516.4 1574,517.6 1581.5,512.5 1586,516.4 1593.5,519.1 1601.1,517.9 1608.6,516.4 1616.1,517.6 1623.6,520 1628.1,518.5 1632.6,512.5 1637.1,512.5 1641.6,516.4 1644.6,519.1 1649.1,517.6 1653.6,519.1 1656.6,511.6 1659.6,514.6 1663.5,516.4 1667.1,513.4 1671.6,511 1676.1,512.5 1680,515.5 1681,516.4 1687,517 1693.6,521.5 1699,517.6 1705,514 1711,511.9 1715.5,511.9 1718.5,514.6 1722.4,518.8" stroke="#000"/>
<polygon points="1521,610.1 1522,607.1 1523,604.1 1524,601.1 1525,599.2 1526,597.3 1527,596.9 1528,596.9 1529,596.9 1530,596.9 1531,598.7 1532,602.3 1533,607.6 1534,614.7 1535,619.4 1536,619.1 1537,617.1 1538,615.1 1539,613.1 1540,611.1 1541,610.1 1542,610.1 1543,610.1 1544,610.1 1545,613 1546,607.7 1547,601.4 1548,595.2 1549,595.2 1550,595.2 1551,595.2 1552,595.2 1553,593.3 1554,589.8 1555,589.8 1556,589.8 1557,589.8 1558,584.7 1559,573.1 1560,573.1 1561,573.1 1562,573.1 1563,573.1 1564,591.9 1565,591.9 1566,591.9 1567,604.6 1568,604.6 1569,604.4 1570,599.4 1571,599.4 1572,599.4 1573,599.4 1574,597.6 1575,594.3 1576,594.3 1577,594.3 1578,594.3 1579,590.2 1580,585 1581,585 1582,585 1583,585 1584,591.5 1585,591.1 1586,590.1 1587,589.1 1588,589.1 1589,589.1 1590,589.1 1591,589.1 1592,592.6 1593,592.6 1594,592.6 1595,592.6 1596,596.2 1597,596.8 1598,596.8 1599,596.8 1600,596.8 1601,600.3 1602,596.5 1603,596.5 1604,596.5 1605,596.5 1606,592.6 1607,592.6 1608,592.6 1609,592.6 1610,585.6 1611,584.4 1612,583.8 1613,583.8 1614,583.8 1615,583.8 1616,598 1617,612.2 1618,612.2 1619,604 1620,590 1621,590 1622,590 1623,590 1624,590 1625,595.5 1626,595.5 1627,595.5 1628,590.9 1629,582.3 1630,580.9 1631,580.2 1632,580.2 1633,580.2 1634,580.2 1635,583.4 1636,583.4 1637,583.4 1638,583.4 1639,587.8 1640,587.8 1641,587.8 1642,587.1 1643,581 1644,581 1645,581 1646,581 1647,581.9 1648,584.7 1649,584.7 1650,584.7 1651,584.7 1652,581.9 1653,579.2 1654,576.5 1655,575.2 1656,575.2 1657,575.2 1658,575.2 1659,576.6 1660,580.4 1661,584.2 1662,586.2 1663,586.2 1664,586.2 1665,586.2 1666,586.2 1667,586.4 1667,587.2 1666,587.2 1665,588.2 1664,590.2 1663,591.7 1662,591.7 1661,591.7 1660,591.7 1659,591.7 1658,588 1657,584.2 1656,581.9 1655,586 1654,591 1653,593.5 1652,593.5 1651,593.5 1650,593.5 1649,591.8 1648,588.5 1647,588.5 1646,588.5 1645,599.2 1644,605.3 1643,605.3 1642,605.3 1641,605.3 1640,606.2 1639,606.2 1638,606.2 1637,606.2 1636,604.4 1635,604.4 1634,604.4 1633,604.4 1632,604.4 1631,607.5 1630,611.6 1629,611.6 1628,611.6 1627,611.6 1626,609.8 1625,609.8 1624,609.8 1623,609.8 1622,616.9 1621,629.1 1620,635.1 1619,635.1 1618,635.1 1617,635.1 1616,632.2 1615,632.2 1614,632.2 1613,632.2 1612,612.8 1611,621.3 1610,621.3 1609,621.3 1608,626.9 1607,635.6 1606,635.6 1605,635.6 1604,636.7 1603,636.7 1602,636.7 1601,636.7 1600,633.2 1599,626 1598,618.7 1597,618.7 1596,618.7 1595,618.7 1594,614.2 1593,615.4 1592,615.4 1591,615.4 1590,615.4 1589,611.1 1588,599.8 1587,602.5 1586,612.5 1585,614 1584,614 1583,614 1582,614 1581,611.2 1580,615.7 1579,615.7 1578,615.7 1577,615.7 1576,615.8 1575,615.8 1574,615.8 1573,615.8 1572,615.8 1571,618.9 1570,618.9 1569,618.9 1568,629.1 1567,630.6 1566,630.6 1565,630.6 1564,630.6 1563,611.2 1562,609 1561,609 1560,609 1559,609.8 1558,609.8 1557,609.8 1556,609.8 1555,609.7 1554,614 1553,615.8 1552,615.8 1551,615.8 1550,615.8 1549,615.4 1548,623.9 1547,628 1546,628 1545,628 1544,628 1543,625 1542,619 1541,617.1 1540,619.1 1539,621.1 1538,622.1 1537,622.1 1536,622.1 1535,622.1 1534,621.7 1533,620.9 1532,620.2 1531,619.4 1530,614.7 1529,607.6 1528,602.3 1527,604.1 1526,607.1 1525,610.1 1524,610.1 1523,610.1 1522,610.1 1521,610.1" fill="#f00" stroke="none"/>
<polygon points="1668,587.4 1669,587.4 1670,587.6 1671,587.6 1672,587.6 1673,588.8 1674,591.8 1675,593.8 1676,591.8 1677,590.8 1678,590.8 1679,590.8 1680,591.4 1681,592.1 1682,593.5 1683,596 1684,595.6 1685,593.1 1686,592.4 1687,592.4 1688,594.6 1689,598.9 1690,604.9 1691,607.2 1692,603.2 1693,601.8 1694,601.1 1695,601.1 1696,604.5 1697,602.3 1698,596.8 1699,594.7 1700,593.6 1701,593.6 1702,598.8 1703,596.5 1704,594.5 1705,594.5 1706,601.3 1707,604.4 1708,604.4 1709,604.4 1710,610.5 1711,610.5 1712,610.5 1713,617.3 1714,613.5 1715,608.3 1716,607.8 1717,607.3 1718,607.1 1719,607.1 1720,607.8 1721,609.3 1722,607.4 1723,605.2 1724,604.2 1725,603.7 1725,605.2 1724,607.4 1723,610.3 1722,611.5 1721,611.5 1720,610.8 1719,609.3 1718,607.8 1717,608.3 1716,613.5 1715,622.8 1714,627.5 1713,627.5 1712,624.8 1711,623.5 1710,629.1 1709,629.1 1708,620.6 1707,621.7 1706,621.7 1705,614.9 1704,603.4 1703,609.8 1702,609.8 1701,609.8 1700,598.8 1699,602.3 1698,612.3 1697,615.2 1696,615.2 1695,611.6 1694,604.5 1693,607.2 1692,614.7 1691,616.6 1690,616.6 1689,612.7 1688,604.9 1687,598.9 1686,595.6 1685,598.1 1684,599.4 1683,599.4 1682,598.5 1681,596 1680,593.5 1679,592.1 1678,591.8 1677,593.8 1676,595.8 1675,596.3 1674,596.3 1673,594.8 1672,591.8 1671,588.8 1670,587.6 1669,587.6 1668,587.6" fill="#f00" stroke="none"/>
<polygon points="1426,578.4 1427,573.7 1428,573.1 1429,573.1 1430,585.9 1431,589.5 1432,583.3 1433,580.3 1434,580.3 1435,584.6 1436,594.6 1437,599.3 1438,582 1439,578.8 1440,575.7 1441,575.7 1442,575.7 1443,576.7 1444,575.2 1445,574.2 1446,574.2 1447,579.8 1448,578.6 1449,562.2 1450,554.1 1451,554.1 1452,558.7 1453,558.1 1454,558.1 1455,558.1 1456,559.8 1457,563.9 1458,573.1 1459,588.1 1460,600.5 1461,610.3 1462,606.3 1463,604.3 1464,604.3 1465,604.7 1466,606.2 1467,605.7 1468,603.7 1469,602.4 1470,601.9 1471,601.4 1472,601.1 1473,601.1 1474,603 1475,607.5 1476,612 1477,615.2 1478,616.7 1479,613 1480,594.7 1481,586.9 1482,586.9 1483,586 1484,586 1485,586 1486,598.7 1487,605.7 1488,605.7 1489,609.4 1490,618.4 1491,620 1492,619.3 1493,616.3 1494,613.3 1495,613.3 1496,613.3 1497,615.4 1498,617.9 1499,620.4 1500,621.5 1501,620.8 1502,617.8 1503,614.8 1504,614.8 1505,614.8 1506,615.9 1507,617.4 1508,618.9 1509,621.4 1510,623.9 1511,636.7 1512,604.2 1513,603.5 1514,603.5 1515,606.5 1516,611.8 1517,597.6 1518,597.6 1519,597.6 1519,607 1518,611.8 1517,635.3 1516,635.3 1515,635.3 1514,617.3 1513,636.7 1512,668.1 1511,669.1 1510,669.1 1509,647.2 1508,623.9 1507,621.4 1506,618.9 1505,617.4 1504,617.8 1503,620.8 1502,623.5 1501,623.5 1500,623.5 1499,622.5 1498,621.5 1497,620.4 1496,617.9 1495,616.3 1494,619.3 1493,622 1492,622 1491,622 1490,621 1489,620 1488,618.4 1487,609.4 1486,610 1485,610 1484,601.8 1483,609.7 1482,609.7 1481,613 1480,617.3 1479,619 1478,619 1477,618.2 1476,616.7 1475,615.2 1474,612 1473,607.5 1472,603 1471,602.4 1470,603.7 1469,605.7 1468,607.7 1467,608.5 1466,608.5 1465,607.7 1464,606.3 1463,610.3 1462,614.3 1461,615.5 1460,615.5 1459,610.5 1458,600.5 1457,588.1 1456,573.1 1455,563.9 1454,574.8 1453,588 1452,588 1451,579.5 1450,578.6 1449,595.3 1448,599.1 1447,599.1 1446,592.7 1445,579.8 1444,578.5 1443,578.5 1442,578 1441,578.8 1440,582 1439,599.3 1438,618.8 1437,618.8 1436,618.8 1435,606.6 1434,594.6 1433,589.5 1432,599.5 1431,609.5 1430,609.5 1429,609.5 1428,585.9 1427,596.1 1426,596.1" fill="#f00" stroke="none"/>
<polygon points="1262,663.6 1263,663.6 1264,675.6 1265,710.7 1266,706.2 1267,706.2 1268,707.9 1269,686.3 1270,686.3 1271,690.4 1272,696 1273,684.3 1274,681.8 1275,681.8 1276,696.3 1277,685.5 1278,685.5 1279,715.1 1280,701.4 1281,701.4 1282,695.3 1283,684 1284,684 1285,687.9 1286,695.8 1287,716.2 1288,702.1 1289,702.1 1290,710.8 1291,734.8 1292,770.1 1293,655.4 1294,655.4 1295,655.4 1296,648.7 1297,648.7 1298,648.7 1299,712.2 1300,701.5 1301,701.5 1302,715.9 1303,736.9 1304,736.9 1305,745.3 1306,721.3 1307,721.3 1308,701.5 1309,670.8 1310,670.8 1311,670.8 1312,692.5 1313,679.8 1314,679.8 1315,692 1316,716.3 1317,734.7 1318,717.7 1319,717.7 1320,723.7 1321,720.8 1322,698.8 1323,698.8 1324,698.8 1325,717.4 1326,739.5 1327,720.5 1328,692.3 1329,678.2 1330,678.2 1331,678.2 1331,726.6 1330,711.2 1329,720.5 1328,763 1327,772.7 1326,772.7 1325,761.6 1324,739.5 1323,720.8 1322,735.9 1321,743.7 1320,743.7 1319,743.7 1318,764.4 1317,764.4 1316,764.4 1315,740.4 1314,716.3 1313,720.8 1312,722.8 1311,722.8 1310,701.5 1309,729.6 1308,729.6 1307,745.3 1306,787.8 1305,787.8 1304,787.8 1303,751.9 1302,751.9 1301,751.9 1300,733.6 1299,744.3 1298,744.3 1297,726.8 1296,768.8 1295,768.8 1294,801.7 1293,801.7 1292,801.7 1291,793.7 1290,770.1 1289,734.8 1288,752.2 1287,752.2 1286,752.2 1285,716.2 1284,695.8 1283,721.1 1282,726.4 1281,726.4 1280,748.5 1279,750.5 1278,750.5 1277,728 1276,731.8 1275,731.8 1274,706.8 1273,719.5 1272,734.5 1271,734.5 1270,722.1 1269,736.3 1268,736.3 1267,729.6 1266,748.7 1265,748.7 1264,740.9 1263,710.7 1262,675.6" fill="#f00" stroke="none"/>
<polygon points="1236,635.5 1237,635.5 1238,700 1239,676.8 1240,607.4 1241,607.4 1242,631.9 1243,646.1 1244,645.4 1245,635.4 1246,635.4 1247,637.4 1248,641.1 1249,645.9 1250,651.9 1251,665.9 1252,680.2 1253,699.5 1254,720.4 1255,716.5 1256,691.8 1257,680.2 1258,669.6 1259,659.6 1260,658.8 1261,658.1 1261,658.8 1260,659.6 1259,669.6 1258,680.2 1257,691.8 1256,716.5 1255,754.1 1254,754.1 1253,720.4 1252,699.5 1251,680.2 1250,665.9 1249,651.9 1248,645.9 1247,641.1 1246,637.4 1245,645.4 1244,646.1 1243,646.1 1242,646.1 1241,631.9 1240,676.8 1239,730.8 1238,741 1237,700 1236,665.5" fill="#f00" stroke="none"/>
<polyline points="1205.4,610.7 1206,610.5 1206.5,600.3 1207.1,600.6 1207.5,593.6 1207.6,593.6 1208.2,601.3 1208.7,602.2 1209.3,608.9 1209.6,610.1 1209.8,606.3 1210.4,607.5 1210.9,599.2 1211.5,599.7 1212,594.4 1212,595.1 1212.6,604.2 1213.1,608.3 1213.5,616.1 1213.7,616.2 1214.2,612.4 1214.8,612.4 1215.3,607.8 1215.9,608.9 1216.4,601.9 1216.5,604.1 1217,607.4 1217.5,604.7 1218,610.1 1218.1,610.1 1218.6,597.8 1219.2,593.2 1219.5,586.1 1219.7,586.2 1220.3,592.3 1220.8,590.3 1221.4,594.9 1221.6,595.1 1221.9,593 1222.5,596.5 1223,593 1223.6,596.3 1224,593.6 1224.1,593.2 1224.7,599.5 1225.2,598.8 1225.8,606.7 1226.3,601.8 1226.9,616.9 1227.4,600.3 1228,617.3 1228.5,606.2 1229.1,652.4 1229.6,665.6 1230.2,678.7 1230.7,670 1231.3,696.7 1231.8,692.5 1232.4,712.4 1232.9,718.3 1233.5,743 1233.6,748.2 1234,727.6 1234.6,730.9 1235.1,702.2 1235.7,694.4 1236.2,643.2 1236.6,628.1 1236.8,642.9 1237.3,671.5 1237.9,733.6 1238.1,751.2 1238.4,723.6 1239,720.1 1239.5,671.8 1240.1,652.5 1240.5,605.6 1240.6,607 1241.2,632 1241.7,634.4 1242.3,646.8 1242.8,643.9 1243.4,646.8 1243.9,644.6 1244.5,646.8 1245,638 1245.6,637.2 1245.6,634.1 1246.1,634.5 1246.7,639.4 1247.2,637.8 1247.8,645.6 1248.3,642.8 1248.9,653.1 1249.4,645.2 1250,665.5 1250.5,663 1251.1,684 1251.6,677.3 1252.2,699.3 1252.7,695.2 1253.3,724.2 1253.8,725.6 1254.4,749.9 1254.6,758.7 1254.9,739.4 1255.5,723.8 1256,692.5 1256.6,696 1257.1,680.3 1257.7,682.6 1258.2,666.8 1258.8,672.7 1259.3,659 1259.9,660.6 1260.4,657.4 1261,662.1 1261.5,657.4 1261.5,658.1 1262.1,669.1 1262.6,662 1263.2,691.4 1263.7,692.5 1264.3,726.5 1264.8,732.9 1265.4,749.8 1265.4,751.2 1265.9,729.1 1266.5,712.2 1266.6,700.1 1267,701.5 1267.6,722.8 1268.1,725.9 1268.4,739.2 1268.7,732.5 1269.2,696.5 1269.6,679.1 1269.8,688 1270.3,697.5 1270.9,721.7 1271.4,732 1271.4,736.2 1272,726.7 1272.5,700.9 1273.1,699.7 1273.6,681.9 1274.2,688.9 1274.4,679.1 1274.7,685.3 1275.3,723.6 1275.6,739.2 1275.8,728.7 1276.4,724.4 1276.9,693.6 1277.4,682.1 1277.5,686.6 1278,713.6 1278.6,754.6 1278.6,760.2 1279.1,740.7 1279.7,734.3 1280.2,707 1280.5,700.1 1280.8,713.4 1281.3,716 1281.7,730.2 1281.9,727.4 1282.4,708.6 1283,699.1 1283.5,683.6 1283.5,683.3 1284.1,695 1284.6,688.1 1285.2,703.9 1285.7,698.6 1286.3,731.6 1286.8,739.4 1287.1,754.2 1287.4,745.8 1287.9,719.4 1288.5,710.6 1288.6,700.1 1289,705.9 1289.6,731.4 1290.1,727.1 1290.7,767.6 1291.2,769.2 1291.8,801.3 1292.3,784 1292.9,801.3 1293.1,802.2 1293.4,739.6 1294,665.5 1294,652.1 1294.5,686.5 1295.1,753.6 1295.5,772.2 1295.6,750.1 1296.2,725.4 1296.7,664.7 1297,646.1 1297.3,674.8 1297.8,695.8 1298.4,738.7 1298.5,745.2 1298.9,727.9 1299.5,733.2 1300,707 1300.6,706.5 1300.6,700.1 1301.1,713.8 1301.7,745.2 1302.1,754.2 1302.2,743.4 1302.8,755.1 1303.3,733.4 1303.6,736.2 1303.9,751.8 1304.4,763.2 1305,786.8 1305.1,790.2 1305.5,761.3 1306.1,748.6 1306.6,718.1 1306.6,710.1 1307.2,732.8 1307.7,716.9 1308.1,730.2 1308.3,728.8 1308.8,700.5 1309.4,696 1309.9,673.1 1310.2,665.6 1310.5,682.2 1311,696.3 1311.6,725.8 1311.7,730.2 1312.1,713 1312.7,708 1313.2,685.3 1313.5,679.1 1313.8,689.3 1314.3,693.5 1314.9,720.3 1315.4,721.5 1316,747 1316.5,746 1317.1,766.4 1317.1,766.2 1317.6,744.2 1318.2,732 1318.6,715.1 1318.7,717 1319.3,731 1319.8,736.5 1320.1,745.2 1320.4,743.1 1320.9,734.4 1321.5,733.2 1322,717.1 1322.6,712.2 1323.1,697.1 1323.1,697 1323.7,715.8 1324.2,717.7 1324.8,742.6 1325.3,743.5 1325.9,764 1326.4,765.6 1326.7,776.7 1327,771.3 1327.5,737.1 1328.1,729 1328.6,691.6 1329.2,693.7 1329.7,681.1 1330,677.6 1330.3,689.3 1330.8,700.7 1331.4,723.6 1331.5,727.1 1331.9,710.7 1332.5,703.2 1333,682.1 1333,681.7 1333.6,692.4 1334.1,690 1334.5,700.1 1334.7,698.7 1335.2,686.9 1335.8,684 1336.3,670.6 1336.9,671.2 1337.4,661.2 1337.5,661.1 1338,676.3 1338.5,674.7 1339.1,694.2 1339.6,693.5 1340.2,709.6 1340.7,712.3 1341.1,719.6 1341.3,715.3 1341.8,690.5 1342.4,677.6 1342.6,667.1 1342.9,673.3 1343.5,691.3 1344,695.3 1344.6,704.2 1345.1,700.3 1345.7,706.1 1346.2,700.8 1346.5,706.1 1346.8,702.7 1347.3,681.9 1347.7,677.6 1347.9,682.4 1348.4,677 1349,680.4 1349.5,677 1350.1,680.6 1350.6,680.9 1351.2,686.6 1351.6,688.1 1351.7,685.7 1352.3,687.5 1352.8,683.4 1353.4,684.3 1353.9,680.2 1354.5,681.5 1355,676.5 1355.6,678 1356.1,673.3 1356.7,676 1357.2,671.9 1357.8,672.9 1358.3,669.7 1358.9,671.9 1359.4,667.7 1360,669.6 1360.5,666.8 1361.1,667.7 1361.6,664 1362.2,666 1362.7,662.7 1363.3,664.4 1363.8,660.8 1364.4,662.9 1364.9,659 1365.5,660.5 1366,657.3 1366.6,659 1367.1,655.9 1367.7,657.6 1368.2,653.8 1368.8,656.2 1369,653.6 1369.3,654.8 1369.9,664.9 1370.4,666 1371,673.1 1371.5,670 1372.1,672.9 1372.6,671 1373.2,673.6 1373.5,673.1 1373.7,671.7 1374.3,673.4 1374.8,671.2 1375.4,673.2 1375.9,669 1376.5,673.1 1377,663.3 1377.6,668.1 1378.1,657.7 1378.7,661.6 1379.2,636.7 1379.5,626.6 1379.8,645.9 1380.3,671.8 1380.4,685.1 1380.9,671.7 1381.4,644.5 1382,642.1 1382.5,626.5 1383.1,628.3 1383.4,617.6 1383.6,621.4 1384.2,649.3 1384.6,664.1 1384.7,660 1385.3,656.7 1385.8,637.7 1386.4,634 1386.4,631.1 1386.9,632.2 1387.5,641.1 1388,640.6 1388.5,646.1 1388.6,647.4 1389.1,641 1389.7,642.5 1390,637.1 1390.2,638.6 1390.8,648.4 1391.3,651.8 1391.9,665.2 1392.4,664.5 1392.4,668.6 1393,669.1 1393.5,661.4 1394.1,665.2 1394.6,650.4 1395.2,648.7 1395.7,626.5 1396,622.1 1396.3,629.2 1396.8,634.2 1397.4,652.1 1397.5,655.1 1397.9,641.9 1398.5,635.2 1399,615.9 1399,616.1 1399.6,624.4 1400.1,627.3 1400.7,640.2 1401.2,641.8 1401.4,646.1 1401.8,644 1402.3,636.6 1402.9,635.2 1403.4,626.7 1404,628.8 1404.5,625.9 1405.1,628 1405.6,625.3 1406.2,626.1 1406.7,623.4 1407.3,625.2 1407.8,620.7 1408.4,622.4 1408.9,618.5 1409.5,620.9 1409.5,619.1 1410,621.5 1410.6,631.5 1411.1,631.4 1411.6,640.1 1411.7,640.5 1412.2,630.8 1412.8,626.9 1413.3,615.7 1413.4,614.6 1413.9,621 1414.4,621.3 1415,631.7 1415.5,631.6 1415.5,634.1 1416.1,631.3 1416.6,621.9 1417.2,620 1417.6,613.1 1417.7,612.6 1418.3,617.9 1418.8,615.7 1419.4,620.5 1419.9,620.3 1420.5,625.5 1421,620.5 1421.6,628.2 1422.1,623.1 1422.7,634.9 1423.2,634.4 1423.8,647.7 1424.2,649.1 1424.3,642.9 1424.9,634.1 1425.4,601.4 1426,603.8 1426.5,572.3 1427.1,585.5 1427.6,572.3 1428.2,579.3 1428.4,571.7 1428.7,576.2 1429.3,597.7 1429.8,604.3 1429.9,610.1 1430.4,607.2 1430.9,594.6 1431.5,599.2 1432,587.2 1432.6,588 1433.1,580.4 1433.5,580.1 1433.7,585.3 1434.2,581 1434.8,594.9 1435.3,593.2 1435.9,608.6 1436.4,608.3 1437,618.9 1437.1,620.6 1437.5,606.3 1438.1,602.3 1438.6,579.5 1439.2,584.8 1439.7,575.2 1440.3,582.7 1440.8,575.2 1441.1,575.6 1441.4,577.4 1441.9,575.2 1442.5,578.6 1443,576.7 1443.5,578.6 1443.6,579 1444.1,574.5 1444.7,578.5 1445.2,574.1 1445.6,574.1 1445.8,578.2 1446.3,581.5 1446.9,592.5 1447.4,592 1447.7,601.1 1448,598.5 1448.5,580.5 1449.1,580.1 1449.6,563.7 1450.2,566.7 1450.7,551.5 1450.7,551.8 1451.3,567.7 1451.8,571.8 1452.4,587.6 1452.5,589.1 1452.9,575 1453.5,565.2 1453.7,557.5 1454,557.4 1454.6,562.1 1455.1,557.4 1455.7,564.4 1456.2,561.5 1456.8,573.8 1457.3,573.7 1457.9,591 1458.4,589.6 1459,605.8 1459.5,602.9 1460.1,616.6 1460.6,616.1 1460.6,613 1461.2,616.6 1461.7,608.9 1462.3,611.6 1462.8,605.3 1463.4,607.7 1463.6,604.1 1463.9,603.9 1464.5,607.1 1465,605.3 1465.6,608.5 1466.1,606.3 1466.6,608.6 1466.7,609.1 1467.2,606.4 1467.8,606.9 1468.3,604 1468.9,604.9 1469.4,601.5 1470,604.5 1470.5,601 1471.1,602.9 1471.6,600.6 1472.2,602.7 1472.6,601.1 1472.7,600.6 1473.3,607 1473.8,605 1474.4,610.9 1474.9,608.5 1475.5,617.7 1476,612.6 1476.6,617.8 1477.1,614.4 1477.7,618.4 1478.2,617.2 1478.6,619.1 1478.8,619.2 1479.3,612.5 1479.9,615.5 1480.4,607.2 1481,602.9 1481.3,581.6 1481.5,586.3 1482.1,603.4 1482.5,610.1 1482.6,606 1483.2,601.3 1483.7,585.7 1484.3,585.4 1484.3,581.6 1484.8,589.2 1485.4,608.9 1485.5,610.1 1485.9,606.5 1486.5,610 1487,603.3 1487.6,607.2 1487.6,605.6 1488.1,608.4 1488.7,617.6 1489.2,617.1 1489.8,621.1 1490.3,619.1 1490.9,622.7 1491.4,620.4 1492,622.7 1492.1,622.1 1492.5,619.3 1493.1,620.9 1493.6,616.6 1494.2,617.2 1494.7,613.3 1495.1,613.1 1495.3,615.1 1495.8,612.8 1496.4,618 1496.9,615.2 1497.5,620.2 1498,619.5 1498.6,622.8 1499.1,620.1 1499.7,623.6 1500.2,621.6 1500.8,623.9 1501.1,623.6 1501.3,620.9 1501.9,623.8 1502.4,618.2 1503,619.6 1503.5,614.1 1504.1,615.8 1504.1,614.6 1504.6,614.5 1505.2,617.3 1505.7,616.2 1506.3,620 1506.8,616 1507.4,622.7 1507.9,617.5 1508.5,626.1 1509,619.2 1509.6,631.2 1510.1,645.7 1510.7,676.5 1510.7,677.6 1511.2,656.3 1511.8,648.6 1512.3,617.4 1512.9,612.9 1513.1,601.1 1513.4,602.2 1514,610.7 1514.5,605.5 1515.1,620.7 1515.6,624.3 1516.1,637.1 1516.2,636.2 1516.7,614.7 1517.3,609.2 1517.6,595.1 1517.8,595.6 1518.4,604.7 1518.9,598.3 1519.5,609.5 1520,606.6 1520.6,610.8 1521.1,606.5 1521.7,610.8 1522.2,607.1 1522.8,610.8 1523.3,606.9 1523.9,610.8 1524.4,602.9 1525,606.4 1525.5,600.7 1526.1,603.2 1526.6,597.7 1527.2,602.2 1527.7,596.2 1528.3,598.4 1528.4,596.6 1528.8,596.2 1529.4,604.5 1529.9,599.5 1530.5,606.7 1531,604.2 1531.6,616.2 1532.1,608.3 1532.7,621.5 1533.2,614.7 1533.8,622.4 1534.3,617.7 1534.9,622.7 1535.4,619.7 1536,622.6 1536.5,619.7 1536.5,622.1 1537.1,622.8 1537.6,616.6 1538.2,620.4 1538.7,614.6 1539.3,618.6 1539.8,611.7 1540.4,617.1 1540.9,609.6 1541.5,615.9 1542,609.6 1542.5,610.1 1542.6,613.4 1543.1,609.6 1543.7,620.9 1544.2,616.4 1544.8,627.4 1545.3,621.1 1545.5,628.1 1545.9,627.5 1546.4,614.7 1547,625.2 1547.5,603.8 1548.1,611 1548.6,596.3 1549.2,605 1549.7,596.3 1550,595.1 1550.3,604.8 1550.8,604 1551.4,615.1 1551.5,616.1 1551.9,610 1552.5,615.1 1553,605 1553.6,611.1 1554.1,598.2 1554.7,600.2 1555.2,590.5 1555.4,589.1 1555.8,596.1 1556.3,592.5 1556.9,606.5 1557.4,604.7 1557.5,610.1 1558,609.6 1558.5,590.2 1559.1,603.9 1559.6,579.7 1560.2,590.8 1560.7,575.9 1561.1,571.7 1561.3,580.9 1561.8,592.3 1562,610.1 1562.4,607.9 1562.9,597.7 1563.5,603.9 1564,592.1 1564.4,589.1 1564.6,603.4 1565.1,604.5 1565.6,635.6 1565.7,635.9 1566.2,615.7 1566.8,621.8 1567.3,605.6 1567.4,604.1 1567.9,614.6 1568.4,605.6 1569,619.6 1569.5,615.1 1569.5,619.1 1570.1,615.8 1570.6,604.1 1571.2,607.6 1571.6,598.1 1571.7,597.9 1572.3,606.5 1572.8,603.7 1573.4,613 1573.9,611.6 1574,616.1 1574.5,615.8 1575,602.8 1575.6,607.3 1576.1,595.2 1576.4,593.6 1576.7,602.8 1577.2,596 1577.8,614.1 1578.3,607.6 1578.5,616.1 1578.9,614.3 1579.4,601 1580,608.7 1580.5,590.4 1581.1,596.4 1581.5,584.6 1581.6,584.8 1582.2,599.6 1582.7,597.8 1583.3,613.4 1583.6,616.1 1583.8,611.2 1584.4,613.8 1584.9,597.5 1585.5,605.1 1586,589.2 1586.6,595.9 1587.1,588.7 1587.7,593.5 1588.2,588.7 1588.8,592.4 1589,589.1 1589.3,588.7 1589.9,605.1 1590.4,595.9 1591,616.1 1591.4,616.1 1591.5,609.1 1592.1,615.7 1592.6,597.1 1593.2,601.8 1593.5,592.1 1593.7,592.8 1594.3,603.8 1594.8,596.2 1595.4,612 1595.9,605.2 1596.5,618.9 1596.5,619.1 1597,609.7 1597.6,609.9 1598.1,596.5 1598.6,595.1 1598.7,599.2 1599.2,595.3 1599.8,622.8 1600.3,608.5 1600.9,633.8 1601.4,621.8 1602,637 1602.5,628.4 1602.6,637.1 1603.1,630.4 1603.6,599.1 1604.1,595.1 1604.2,604.2 1604.7,601.6 1605.3,632.1 1605.6,637.1 1605.8,625.4 1606.4,624.3 1606.9,597.9 1607.5,603.7 1607.7,589.1 1608,593 1608.6,613.9 1609.1,606.9 1609.5,622.1 1609.7,619.4 1610.2,605.5 1610.8,607.8 1611.3,583.1 1611.9,597.5 1612.4,583.1 1613,593.2 1613.5,583.1 1613.7,583.7 1614.1,610.4 1614.6,609.1 1614.9,634.1 1615.2,630.9 1615.7,615.5 1616.3,624.9 1616.7,610.1 1616.8,611.4 1617.4,623 1617.9,625.1 1618.5,636.2 1618.5,635.6 1619,621.3 1619.6,631.4 1620.1,609.9 1620.7,614.6 1621.2,591.9 1621.8,601.5 1622.1,589.1 1622.3,590.5 1622.9,602 1623.4,598.5 1624,609.6 1624.5,610.1 1624.5,604.3 1625.1,610.5 1625.6,598.9 1626.2,603.1 1626.6,595.1 1626.7,595.5 1627.3,607.3 1627.8,602 1628.4,611.1 1628.7,613.1 1628.9,600.5 1629.5,606.6 1630,586.8 1630.6,587.6 1631.1,579.9 1631.7,584.9 1632.2,579.9 1632.6,580.1 1632.8,589.1 1633.3,589.5 1633.9,603.2 1634.1,605.6 1634.4,596.1 1635,603.2 1635.5,585.8 1636.1,592.7 1636.5,583.1 1636.6,583.9 1637.2,597.6 1637.7,592 1638.3,605.5 1638.6,607.1 1638.8,602.2 1639.4,601.8 1639.9,591.6 1640.5,591 1640.7,586.1 1641,587.6 1641.6,600 1642.1,595.8 1642.5,605.6 1642.7,604.1 1643.2,594 1643.8,594.5 1644.3,580.5 1644.6,580.1 1644.9,585.5 1645.4,581 1646,589.7 1646.5,586 1646.7,589.1 1647.1,589.1 1647.6,584.8 1648.2,590 1648.7,584.5 1649.1,584.6 1649.3,586.6 1649.8,584.5 1650.4,592.7 1650.9,589.1 1651.5,594.2 1651.5,593.6 1652,587.6 1652.6,591.4 1653.1,580.3 1653.7,589.2 1654.2,577.6 1654.8,582.8 1655.3,575.2 1655.9,580.4 1656.4,574.7 1656.6,575 1657,579.7 1657.5,575.8 1658.1,583.9 1658.6,577 1659.2,589.1 1659.7,584.9 1660.3,592.1 1660.8,588.8 1661.1,592.1 1661.4,592.2 1661.9,589.1 1662.5,591.1 1663,586.9 1663.6,589.5 1664.1,586.1 1664.1,585.4 1664.7,588.4 1665.2,585.4 1665.8,588 1666.3,585.9 1666.9,588.3 1667.4,585.7 1668,588.1 1668.5,586.1 1669.1,588.3 1669.6,587 1670.2,588.6 1670.7,586.8 1671.3,589.1 1671.8,586.9 1672.4,590.9 1672.9,590 1673.5,596.1 1674,593 1674.6,597.1 1674.6,596.6 1675.1,594.6 1675.7,595.7 1676.2,591 1676.8,594.2 1677.3,590 1677.6,590.6 1677.9,591.5 1678.4,590 1679,593.2 1679.5,590.3 1680.1,594.1 1680.6,590.4 1681.2,596.1 1681.7,593.1 1682.3,597.6 1682.8,597.2 1683.4,600.1 1683.4,599.6 1683.9,596.8 1684.5,599.3 1685,593.4 1685.6,596.7 1686.1,592.1 1686.4,592.1 1686.7,596.8 1687.2,592.1 1687.8,602.8 1688.3,597.8 1688.9,608.5 1689.4,604.9 1690,617 1690.5,612.3 1690.6,617.6 1691.1,616.2 1691.6,607.8 1692.2,608 1692.7,601.1 1693.3,604.9 1693.8,600.6 1694.4,602.8 1694.5,601.1 1694.9,602.3 1695.5,610.1 1696,610.2 1696.6,616.3 1696.6,616.1 1697.1,606.8 1697.7,610.4 1698.2,598 1698.8,599 1699.3,593.1 1699.9,599.3 1700.4,593.1 1700.5,593.6 1701,599.8 1701.5,602.5 1702,610.1 1702.1,610.6 1702.6,602.2 1703.2,603.8 1703.7,596.3 1704.3,598 1704.4,593.6 1704.8,596 1705.4,610.6 1705.9,610.5 1706.5,621.8 1706.5,622.1 1707,613.8 1707.6,613.5 1708,604.1 1708.1,604.6 1708.7,618.2 1709.2,622.4 1709.5,629.6 1709.8,627.4 1710.3,616 1710.9,615.1 1711,610.1 1711.4,611.7 1712,619.5 1712.5,618.1 1713.1,627.2 1713.4,628.1 1713.6,624.4 1714.2,624.7 1714.7,613.9 1715.3,614.7 1715.8,606.6 1716.4,610 1716.9,606.4 1717.5,609.8 1718,606.7 1718.5,607.1 1718.6,608.9 1719.1,606.6 1719.7,610.2 1720.2,608 1720.8,611.9 1721.3,610.4 1721.5,611.6 1721.9,611.9 1722.4,608.2 1723,609.2 1723.5,604.4 1724.1,606.1 1724.6,603.2 1725.2,605.6 1725.7,602.3 1726.3,604.9 1726.6,602.6 1726.6,614.6" stroke="#f00"/>
</g>
<line x1="1725.6" y1="822" x2="1725.6" y2="478" stroke="#1f77b4" stroke-width="2.1" stroke-dasharray="2.1 3.4"/>
<path d="M1205 512.5H1211M1205 581.5H1211M1205 650.5H1211M1205 719.5H1211M1205 788.5H1211" stroke="#000" stroke-width="1" fill="none"/>
<path d="M1800 822.5H1794M1800 736.5H1794M1800 650.5H1794M1800 564.5H1794M1800 478.5H1794" stroke="#f00" stroke-width="1" fill="none"/>
<path d="M1800 796.5H1796M1800 781.5H1796M1800 770.5H1796M1800 762.5H1796M1800 755.5H1796M1800 749.5H1796M1800 744.5H1796M1800 740.5H1796M1800 710.5H1796M1800 695.5H1796M1800 684.5H1796M1800 676.5H1796M1800 669.5H1796M1800 663.5H1796M1800 658.5H1796M1800 654.5H1796M1800 624.5H1796M1800 609.5H1796M1800 598.5H1796M1800 590.5H1796M1800 583.5H1796M1800 577.5H1796M1800 572.5H1796M1800 568.5H1796M1800 538.5H1796M1800 523.5H1796M1800 512.5H1796M1800 504.5H1796M1800 497.5H1796M1800 491.5H1796M1800 486.5H1796M1800 482.5H1796" stroke="#f00" stroke-width="1" fill="none"/>
<path d="M1245.5 822V817M1319.5 822V817M1394.5 822V817M1468.5 822V817M1542.5 822V817M1617.5 822V817M1691.5 822V817M1765.5 822V817" stroke="#000" stroke-width="1" fill="none"/>
<path d="M1800 478L1205 478L1205 822L1800 822" fill="none" stroke="#000" stroke-width="2" stroke-linecap="square"/>
<line x1="1800" y1="478" x2="1800" y2="822" stroke="#f00" stroke-width="2" stroke-linecap="square"/>
<g clip-path="url(#d3)" fill="none" stroke-width="2.2" stroke-linejoin="round">
<line x1="1205" y1="931" x2="1800" y2="931" stroke="#000" stroke-dasharray="2.1 3.4"/>
<rect x="1205" y="998" width="520.6" height="10.5" fill="#000"/>
<polyline points="1205.5,995.1 1206,1008.4 1206.5,994 1207,1010 1207.5,982.5 1208,1008.4 1208.5,994.4 1209,1010.3 1209.5,995.2 1210,1011.5 1210.5,994.3 1211,1011.2 1211.5,985.5 1212,1009.6 1212.5,988.9 1213,1008.6 1213.5,993.3 1214,1011.2 1214.5,988.6 1215,1010 1215.5,994.8 1216,1009.1 1216.5,995.8 1217,1010.4 1217.5,994 1218,1009.6 1218.5,990.8 1219,1011.8 1219.5,996.1 1220,1012.8 1220.5,990.4 1221,1009.6 1221.5,994.1 1222,1012.2 1222.5,996 1223,1010.7 1223.5,989.8 1224,1011.2 1224.5,994.7 1225,1009.7 1225.5,994.3 1226,1010.5 1226.5,990.6 1227,1013.2 1227.5,989.7 1228,1011.9 1228.5,995.2 1229,1013.5 1229.5,994.7 1230,1011.7 1230.5,982.7 1231,1008.9 1231.5,995.1 1232,1008.7 1232.5,995.2 1233,1010.2 1233.5,995 1234,1011 1234.5,995 1235,1012.5 1235.5,993.9 1236,1010 1236.5,993.6 1237,1013.3 1237.5,994.7 1238,1009.3 1238.5,994 1239,1011.2 1239.5,996.3 1240,1010 1240.5,995.9 1241,1013.2 1241.5,994.3 1242,1011.7 1242.5,991.3 1243,1012.9 1243.5,994.6 1244,1010.2 1244.5,987.3 1245,1008.6 1245.5,995.2 1246,1009.1 1246.5,995.1 1247,1009.9 1247.5,996.2 1248,1008.6 1248.5,996.3 1249,1008.1 1249.5,991.9 1250,1009.4 1250.5,991.9 1251,1010 1251.5,990 1252,1010.6 1252.5,990.2 1253,1008.5 1253.5,993 1254,1012.6 1254.5,993.8 1255,1008.1 1255.5,991 1256,1011 1256.5,983.2 1257,1013.4 1257.5,991.8 1258,1010 1258.5,991 1259,1012.2 1259.5,988.6 1260,1009.2 1260.5,994.7 1261,1013.4 1261.5,991.4 1262,1012.1 1262.5,989.8 1263,1010.8 1263.5,981.5 1264,1009.4 1264.5,995.4 1265,1013.3 1265.5,986.3 1266,1013.3 1266.5,992.9 1267,1009.2 1267.5,995.9 1268,1011.4 1268.5,993.4 1269,1012.6 1269.5,989.8 1270,1008.5 1270.5,995.5 1271,1013 1271.5,994.8 1272,1009 1272.5,989 1273,1009.8 1273.5,992.5 1274,1010.2 1274.5,984.9 1275,1012 1275.5,995.2 1276,1013 1276.5,994.2 1277,1008.8 1277.5,990.5 1278,1009.9 1278.5,985.1 1279,1008.7 1279.5,984.4 1280,1010.9 1280.5,995.2 1281,1010.4 1281.5,990.5 1282,1009.4 1282.5,990.2 1283,1009.3 1283.5,993.3 1284,1008.7 1284.5,994.5 1285,1009.9 1285.5,990.5 1286,1010.3 1286.5,994.8 1287,1010.8 1287.5,982.6 1288,1009 1288.5,985.1 1289,1008.9 1289.5,989.2 1290,1009.8 1290.5,995.1 1291,1011.1 1291.5,995.8 1292,1009.4 1292.5,994.2 1293,1012.2 1293.5,990.5 1294,1013 1294.5,996 1295,1011.4 1295.5,990.9 1296,1010.5 1296.5,996.1 1297,1010.6 1297.5,989.8 1298,1013.2 1298.5,993.8 1299,1011.1 1299.5,988.2 1300,1008.7 1300.5,993.3 1301,1008.4 1301.5,996.2 1302,1012.3 1302.5,994.5 1303,1008.8 1303.5,994.9 1304,1012.9 1304.5,989.8 1305,1009.2 1305.5,992 1306,1013.4 1306.5,995 1307,1008.9 1307.5,991.4 1308,1009.1 1308.5,994 1309,1012 1309.5,990.6 1310,1008.1 1310.5,995.6 1311,1011.4 1311.5,994.7 1312,1012.3 1312.5,996.2 1313,1008.6 1313.5,996.2 1314,1009.5 1314.5,995 1315,1010.3 1315.5,989.2 1316,1008.8 1316.5,991.9 1317,1011.1 1317.5,995.7 1318,1011.8 1318.5,994.4 1319,1008.4 1319.5,990.4 1320,1008.5 1320.5,993.9 1321,1008.4 1321.5,993.1 1322,1011 1322.5,992.5 1323,1009.5 1323.5,992.5 1324,1008.6 1324.5,992.3 1325,1008.3 1325.5,995.1 1326,1012.2 1326.5,992.6 1327,1010.8 1327.5,981.3 1328,1008.1 1328.5,992.6 1329,1011 1329.5,994.4 1330,1008.6 1330.5,991.6 1331,1010.4 1331.5,987.8 1332,1010.8 1332.5,996 1333,1013.4 1333.5,991.6 1334,1011.5 1334.5,989.2 1335,1009.9 1335.5,994.1 1336,1012.1 1336.5,995.5 1337,1008.9 1337.5,988.9 1338,1011.7 1338.5,991.9 1339,1009.3 1339.5,995 1340,1010.5 1340.5,991.5 1341,1013.3 1341.5,990.7 1342,1013.3 1342.5,995.3 1343,1010 1343.5,991.9 1344,1010.8 1344.5,996.3 1345,1010.8 1345.5,992.8 1346,1010.2 1346.5,979.7 1347,1009.7 1347.5,995.7 1348,1012.1 1348.5,990.4 1349,1011.9 1349.5,993.1 1350,1013.4 1350.5,993.2 1351,1012 1351.5,995.5 1352,1012.9 1352.5,995.2 1353,1012 1353.5,995.4 1354,1010.8 1354.5,994 1355,1012.4 1355.5,993.5 1356,1011.8 1356.5,991 1357,1009.3 1357.5,993.9 1358,1008.6 1358.5,995.8 1359,1011.1 1359.5,991.9 1360,1010.7 1360.5,985.1 1361,1012.1 1361.5,990.7 1362,1008.4 1362.5,996.2 1363,1009.4 1363.5,993.1 1364,1009.1 1364.5,994.7 1365,1013.4 1365.5,991.9 1366,1011.8 1366.5,996.1 1367,1011.4 1367.5,995.2 1368,1009.4 1368.5,994.9 1369,1009.7 1369.5,995.7 1370,1009.5 1370.5,996 1371,1011.8 1371.5,994.6 1372,1010.6 1372.5,993 1373,1008.7 1373.5,993.9 1374,1013.1 1374.5,982.7 1375,1012.5 1375.5,991.5 1376,1009.2 1376.5,995.3 1377,1009.2 1377.5,994.1 1378,1013.2 1378.5,995.1 1379,1012.5 1379.5,986.9 1380,1009.3 1380.5,995.8 1381,1010.7 1381.5,995.9 1382,1010.5 1382.5,996.2 1383,1008.8 1383.5,994.1 1384,1008 1384.5,993 1385,1012.6 1385.5,988.8 1386,1013 1386.5,989.3 1387,1010 1387.5,983.4 1388,1010 1388.5,986 1389,1009.5 1389.5,994.3 1390,1009.6 1390.5,995.7 1391,1009.4 1391.5,995.8 1392,1010.1 1392.5,990.9 1393,1012.9 1393.5,993.9 1394,1013.2 1394.5,990.4 1395,1012 1395.5,989.3 1396,1012.1 1396.5,994.1 1397,1009.6 1397.5,986.5 1398,1010.6 1398.5,993.2 1399,1009.6 1399.5,995.5 1400,1011.6 1400.5,984 1401,1011.1 1401.5,994.2 1402,1009.1 1402.5,994.6 1403,1010.7 1403.5,994.5 1404,1010.5 1404.5,986.7 1405,1009.1 1405.5,992.8 1406,1009.3 1406.5,994.1 1407,1011.1 1407.5,990.6 1408,1010.3 1408.5,991.4 1409,1010.1 1409.5,995.5 1410,1013.3 1410.5,994.9 1411,1010.8 1411.5,990.1 1412,1009.5 1412.5,989.8 1413,1010.2 1413.5,985.8 1414,1012.8 1414.5,979.7 1415,1011.9 1415.5,992.3 1416,1008 1416.5,993.2 1417,1013.1 1417.5,992.3 1418,1009.4 1418.5,988.4 1419,1008.8 1419.5,989.6 1420,1012 1420.5,995.3 1421,1012.2 1421.5,985 1422,1009.3 1422.5,994.8 1423,1011.6 1423.5,995.5 1424,1011.5 1424.5,994.1 1425,1008.6 1425.5,991.3 1426,1010.1 1426.5,994 1427,1011.3 1427.5,992.5 1428,1013.3 1428.5,996 1429,1012.9 1429.5,993 1430,1013.3 1430.5,995.8 1431,1009.7 1431.5,991.1 1432,1010.3 1432.5,995.6 1433,1011.7 1433.5,981.9 1434,1010.3 1434.5,994.8 1435,1009.1 1435.5,994.2 1436,1009.1 1436.5,989.2 1437,1009.7 1437.5,994.9 1438,1012.2 1438.5,993.4 1439,1013.2 1439.5,993.4 1440,1010.3 1440.5,996.2 1441,1013.2 1441.5,993.6 1442,1013.4 1442.5,992.7 1443,1008.3 1443.5,992.1 1444,1012.9 1444.5,994.6 1445,1013.5 1445.5,992.6 1446,1013.1 1446.5,994.6 1447,1008.2 1447.5,994.1 1448,1009.8 1448.5,992.5 1449,1008 1449.5,995.5 1450,1008.7 1450.5,992.2 1451,1009.1 1451.5,991.1 1452,1010.4 1452.5,982.8 1453,1010 1453.5,993.7 1454,1012.9 1454.5,982.4 1455,1012.5 1455.5,979.9 1456,1013.1 1456.5,995 1457,1012.1 1457.5,993 1458,1013.3 1458.5,993.9 1459,1009.4 1459.5,995.5 1460,1008 1460.5,992.5 1461,1013 1461.5,981.1 1462,1010.6 1462.5,988.3 1463,1013.2 1463.5,993.7 1464,1010.7 1464.5,994.1 1465,1009 1465.5,993.9 1466,1012.3 1466.5,989.3 1467,1009.8 1467.5,994.5 1468,1008.4 1468.5,992.4 1469,1012.1 1469.5,983.4 1470,1009.8 1470.5,994.7 1471,1012.9 1471.5,992.8 1472,1008.5 1472.5,996 1473,1011.9 1473.5,993.2 1474,1011.4 1474.5,995.2 1475,1012.1 1475.5,992.5 1476,1012.6 1476.5,990.8 1477,1011.1 1477.5,991.2 1478,1009.4 1478.5,991 1479,1008.8 1479.5,991.9 1480,1010.2 1480.5,992.4 1481,1010.8 1481.5,995.3 1482,1013.5 1482.5,988.2 1483,1010.6 1483.5,992.7 1484,1008.2 1484.5,988.5 1485,1008.7 1485.5,991.8 1486,1013.1 1486.5,985.1 1487,1012.8 1487.5,993 1488,1013.2 1488.5,995.2 1489,1011.3 1489.5,994 1490,1008.8 1490.5,994.1 1491,1009.4 1491.5,991 1492,1008.1 1492.5,992.5 1493,1011.7 1493.5,994.8 1494,1012.4 1494.5,992.7 1495,1008.3 1495.5,992.7 1496,1011.5 1496.5,993.6 1497,1008.9 1497.5,994.7 1498,1009.7 1498.5,991.9 1499,1009.7 1499.5,992.4 1500,1012.8 1500.5,994.6 1501,1010 1501.5,993.9 1502,1008 1502.5,989.4 1503,1010.3 1503.5,994.3 1504,1010.5 1504.5,992.1 1505,1008.1 1505.5,990.2 1506,1008.5 1506.5,994.3 1507,1010 1507.5,993.8 1508,1010.9 1508.5,996.2 1509,1008.6 1509.5,988.2 1510,1009.1 1510.5,995.8 1511,1013.2 1511.5,991.2 1512,1013.1 1512.5,995.5 1513,1013 1513.5,990.2 1514,1012.3 1514.5,990.5 1515,1010.2 1515.5,991.5 1516,1009.2 1516.5,989.3 1517,1010.8 1517.5,994.6 1518,1012 1518.5,994.8 1519,1008.2 1519.5,985.4 1520,1008.6 1520.5,993.4 1521,1011 1521.5,993.6 1522,1011.2 1522.5,993.5 1523,1011.6 1523.5,983.8 1524,1010.7 1524.5,994.7 1525,1012.2 1525.5,995.4 1526,1010.6 1526.5,991.4 1527,1008.7 1527.5,994.5 1528,1010.8 1528.5,984 1529,1008.5 1529.5,995.5 1530,1008.3 1530.5,988.5 1531,1010.1 1531.5,994 1532,1013.5 1532.5,995.6 1533,1012.5 1533.5,991.9 1534,1013.3 1534.5,984.4 1535,1008.9 1535.5,993.8 1536,1009.9 1536.5,986.2 1537,1008.9 1537.5,993.4 1538,1008.8 1538.5,994.1 1539,1013.1 1539.5,995.4 1540,1009.8 1540.5,980.8 1541,1008.9 1541.5,990 1542,1008.9 1542.5,993.7 1543,1008.6 1543.5,990 1544,1012.8 1544.5,995.1 1545,1011.2 1545.5,994.7 1546,1011.5 1546.5,994.9 1547,1012.4 1547.5,995 1548,1010 1548.5,982.6 1549,1010.4 1549.5,985.2 1550,1009.4 1550.5,989.6 1551,1013.4 1551.5,990.6 1552,1008 1552.5,980.5 1553,1011.4 1553.5,991.4 1554,1008.7 1554.5,994.1 1555,1011.6 1555.5,996 1556,1008.6 1556.5,996.3 1557,1009.2 1557.5,991.1 1558,1011.4 1558.5,993.3 1559,1008.7 1559.5,993.2 1560,1008.5 1560.5,995 1561,1012.8 1561.5,995.4 1562,1008.1 1562.5,991.8 1563,1011.1 1563.5,992.5 1564,1013.2 1564.5,991.1 1565,1009.4 1565.5,995.2 1566,1010.2 1566.5,995.5 1567,1008.3 1567.5,996.2 1568,1013.2 1568.5,995.6 1569,1009.1 1569.5,992.1 1570,1012.5 1570.5,992.9 1571,1009.7 1571.5,995.9 1572,1012.3 1572.5,995 1573,1008 1573.5,992.1 1574,1012.1 1574.5,990.1 1575,1009.2 1575.5,981.8 1576,1012.1 1576.5,994.3 1577,1012.6 1577.5,995.5 1578,1010.4 1578.5,992.9 1579,1010.9 1579.5,995.7 1580,1009.2 1580.5,989.9 1581,1008.1 1581.5,996.1 1582,1013.2 1582.5,993 1583,1009.8 1583.5,993.4 1584,1013 1584.5,993.6 1585,1011.8 1585.5,989.9 1586,1012.6 1586.5,985.5 1587,1012.7 1587.5,989.6 1588,1009.7 1588.5,993.5 1589,1011.4 1589.5,987.6 1590,1008.1 1590.5,991.7 1591,1013.1 1591.5,979.8 1592,1011.8 1592.5,994.2 1593,1011.8 1593.5,996.2 1594,1010 1594.5,994.6 1595,1012.5 1595.5,995 1596,1013 1596.5,995.3 1597,1008.6 1597.5,985.4 1598,1012.5 1598.5,994.2 1599,1012.5 1599.5,993.8 1600,1008.5 1600.5,993.6 1601,1009.1 1601.5,981.3 1602,1009.6 1602.5,992 1603,1010 1603.5,991.3 1604,1012.7 1604.5,985.8 1605,1008.2 1605.5,992.2 1606,1009.9 1606.5,993.8 1607,1011 1607.5,994.4 1608,1012.5 1608.5,987.5 1609,1008 1609.5,994 1610,1008 1610.5,989 1611,1010.7 1611.5,995.5 1612,1009.9 1612.5,993.5 1613,1009.4 1613.5,992.9 1614,1011.8 1614.5,995 1615,1008.6 1615.5,995.1 1616,1011.8 1616.5,994.9 1617,1011.5 1617.5,993.5 1618,1012.9 1618.5,992.7 1619,1012.9 1619.5,993.3 1620,1013 1620.5,995.8 1621,1010.1 1621.5,993.9 1622,1010.9 1622.5,994.1 1623,1012.1 1623.5,993.8 1624,1008.9 1624.5,993 1625,1011.6 1625.5,996.2 1626,1012.3 1626.5,993.6 1627,1008.7 1627.5,987.2 1628,1009.1 1628.5,994.1 1629,1011.9 1629.5,994.9 1630,1009.4 1630.5,994.1 1631,1010.9 1631.5,994.2 1632,1013.4 1632.5,992.9 1633,1008.6 1633.5,994.3 1634,1013.4 1634.5,995.8 1635,1012 1635.5,993.6 1636,1008.6 1636.5,995.1 1637,1010.1 1637.5,991.9 1638,1011.8 1638.5,995.3 1639,1011.5 1639.5,993.9 1640,1010.2 1640.5,995.7 1641,1013 1641.5,991 1642,1010.3 1642.5,993.8 1643,1012 1643.5,990.6 1644,1012.7 1644.5,991 1645,1011.5 1645.5,992.6 1646,1008.5 1646.5,995.2 1647,1012.3 1647.5,994.8 1648,1010.3 1648.5,990.1 1649,1011.4 1649.5,990.6 1650,1009 1650.5,992.7 1651,1012.3 1651.5,992.3 1652,1008.2 1652.5,992.9 1653,1008.9 1653.5,994.2 1654,1008.6 1654.5,985.8 1655,1011 1655.5,995.2 1656,1012.6 1656.5,991 1657,1010.3 1657.5,993.4 1658,1010.2 1658.5,995.3 1659,1008.7 1659.5,992.1 1660,1009.5 1660.5,995.9 1661,1008.1 1661.5,992.2 1662,1009.9 1662.5,994 1663,1009.2 1663.5,995.7 1664,1009.2 1664.5,985.6 1665,1010.2 1665.5,995.7 1666,1012.5 1666.5,994 1667,1010.6 1667.5,993.3 1668,1009.9 1668.5,995.1 1669,1012.5 1669.5,994.3 1670,1011 1670.5,991.7 1671,1012.6 1671.5,990.9 1672,1010.1 1672.5,989.4 1673,1010.3 1673.5,996.2 1674,1009.5 1674.5,996 1675,1009.7 1675.5,991.6 1676,1011.6 1676.5,995.7 1677,1013.1 1677.5,995.4 1678,1013 1678.5,995.1 1679,1008.8 1679.5,979.6 1680,1013.2 1680.5,990.7 1681,1009.4 1681.5,994.3 1682,1012.3 1682.5,994.8 1683,1008.8 1683.5,989.7 1684,1012.9 1684.5,991.8 1685,1012.3 1685.5,991.6 1686,1012.6 1686.5,988 1687,1011.8 1687.5,989 1688,1012.9 1688.5,994.9 1689,1009.5 1689.5,996.1 1690,1008.3 1690.5,993.8 1691,1008.8 1691.5,991 1692,1012.7 1692.5,985.4 1693,1010.6 1693.5,990.1 1694,1010.1 1694.5,993.7 1695,1013.3 1695.5,990.6 1696,1008.2 1696.5,993.4 1697,1011.8 1697.5,992.6 1698,1010.8 1698.5,994.6 1699,1012.9 1699.5,989.3 1700,1009.9 1700.5,994.8 1701,1010 1701.5,990.9 1702,1009.2 1702.5,995.4 1703,1010.3 1703.5,988.4 1704,1012.6 1704.5,993.5 1705,1010.8 1705.5,995.6 1706,1011.6 1706.5,991 1707,1009.8 1707.5,994.7 1708,1011.5 1708.5,992.8 1709,1008.2 1709.5,994.7 1710,1008.3 1710.5,987.1 1711,1008 1711.5,992.6 1712,1011.6 1712.5,986.9 1713,1013 1713.5,991.5 1714,1011.8 1714.5,992.3 1715,1011.7 1715.5,994.7 1716,1012.2 1716.5,989.8 1717,1009 1717.5,988.7 1718,1011.6 1718.5,994.5 1719,1012.5 1719.5,995 1720,1009.7 1720.5,990.7 1721,1009.8 1721.5,990.5 1722,1008.3 1722.5,993.6 1723,1008.2 1723.5,990.3 1724,1013.1 1724.5,990.7 1725,1008.1" stroke="#000" stroke-width="1.9" stroke-linejoin="miter"/>
</g>
<line x1="1725.6" y1="1017" x2="1725.6" y2="845" stroke="#1f77b4" stroke-width="2.1" stroke-dasharray="2.1 3.4"/>
<path d="M1205 1017.5H1211M1205 974.5H1211M1205 931.5H1211M1205 888.5H1211M1205 845.5H1211" stroke="#000" stroke-width="1" fill="none"/>
<path d="M1205 1004.5H1209M1205 996.5H1209M1205 991.5H1209M1205 987.5H1209M1205 984.5H1209M1205 981.5H1209M1205 978.5H1209M1205 976.5H1209M1205 961.5H1209M1205 953.5H1209M1205 948.5H1209M1205 944.5H1209M1205 941.5H1209M1205 938.5H1209M1205 935.5H1209M1205 933.5H1209M1205 918.5H1209M1205 910.5H1209M1205 905.5H1209M1205 901.5H1209M1205 898.5H1209M1205 895.5H1209M1205 892.5H1209M1205 890.5H1209M1205 875.5H1209M1205 867.5H1209M1205 862.5H1209M1205 858.5H1209M1205 855.5H1209M1205 852.5H1209M1205 849.5H1209M1205 847.5H1209" stroke="#000" stroke-width="1" fill="none"/>
<path d="M1800 1017.5H1794M1800 974.5H1794M1800 931.5H1794M1800 888.5H1794M1800 845.5H1794" stroke="#000" stroke-width="1" fill="none"/>
<path d="M1800 1004.5H1796M1800 996.5H1796M1800 991.5H1796M1800 987.5H1796M1800 984.5H1796M1800 981.5H1796M1800 978.5H1796M1800 976.5H1796M1800 961.5H1796M1800 953.5H1796M1800 948.5H1796M1800 944.5H1796M1800 941.5H1796M1800 938.5H1796M1800 935.5H1796M1800 933.5H1796M1800 918.5H1796M1800 910.5H1796M1800 905.5H1796M1800 901.5H1796M1800 898.5H1796M1800 895.5H1796M1800 892.5H1796M1800 890.5H1796M1800 875.5H1796M1800 867.5H1796M1800 862.5H1796M1800 858.5H1796M1800 855.5H1796M1800 852.5H1796M1800 849.5H1796M1800 847.5H1796" stroke="#000" stroke-width="1" fill="none"/>
<path d="M1245.5 1017V1012M1319.5 1017V1012M1394.5 1017V1012M1468.5 1017V1012M1542.5 1017V1012M1617.5 1017V1012M1691.5 1017V1012M1765.5 1017V1012" stroke="#000" stroke-width="1" fill="none"/>
<rect x="1205" y="845" width="595" height="172" fill="none" stroke="#000" stroke-width="2"/>
<g transform="translate(173.1 295.2) rotate(-90)" fill="#000000" stroke="#000000"><text x="0" y="-0" font-size="24.7" stroke-width="0.53" textLength="25.4" lengthAdjust="spacingAndGlyphs">L*</text></g>
<g transform="translate(182.8 462.5)" fill="#000000" stroke="#000000"><text x="0" y="-0" font-size="20" stroke-width="0.43" textLength="12.4" lengthAdjust="spacingAndGlyphs">2</text></g>
<g transform="translate(182.8 405)" fill="#000000" stroke="#000000"><text x="0" y="-0" font-size="20" stroke-width="0.43" textLength="12.4" lengthAdjust="spacingAndGlyphs">3</text></g>
<g transform="translate(182.8 347.5)" fill="#000000" stroke="#000000"><text x="0" y="-0" font-size="20" stroke-width="0.43" textLength="12.4" lengthAdjust="spacingAndGlyphs">4</text></g>
<g transform="translate(182.6 290)" fill="#000000" stroke="#000000"><text x="0" y="-0" font-size="20" stroke-width="0.43" textLength="12.4" lengthAdjust="spacingAndGlyphs">5</text></g>
<g transform="translate(182.8 232.5)" fill="#000000" stroke="#000000"><text x="0" y="-0" font-size="20" stroke-width="0.43" textLength="12.4" lengthAdjust="spacingAndGlyphs">6</text></g>
<g transform="translate(182.8 175)" fill="#000000" stroke="#000000"><text x="0" y="-0" font-size="20" stroke-width="0.43" textLength="12.4" lengthAdjust="spacingAndGlyphs">7</text></g>
<g transform="translate(182.8 117.5)" fill="#000000" stroke="#000000"><text x="0" y="-0" font-size="20" stroke-width="0.43" textLength="12.4" lengthAdjust="spacingAndGlyphs">8</text></g>
<g transform="translate(235.7 512.4)" fill="#000000" stroke="#000000"><text x="0" y="-0" font-size="24.7" stroke-width="0.53" textLength="169.5" lengthAdjust="spacingAndGlyphs">Geostationary</text><text x="177.2" y="-0" font-size="24.7" stroke-width="0.53" textLength="64" lengthAdjust="spacingAndGlyphs">orbit:</text><text x="264.1" y="-0" font-size="24.7" stroke-width="0.53" textLength="67.9" lengthAdjust="spacingAndGlyphs">GOES</text><text x="339.7" y="-0" font-size="24.7" stroke-width="0.53" textLength="38.2" lengthAdjust="spacingAndGlyphs">14,</text></g>
<g transform="translate(629.2 512.4)" fill="#ff0000" stroke="#ff0000"><text x="0" y="-0" font-size="24.7" stroke-width="0.53" textLength="72.1" lengthAdjust="spacingAndGlyphs">Model</text></g>
<g transform="translate(113.7 790.8) rotate(-90)" fill="#000000" stroke="#000000"><text x="0" y="-0" font-size="24.7" stroke-width="0.53" textLength="58.3" lengthAdjust="spacingAndGlyphs">&gt;2.0</text><text x="66" y="-0" font-size="24.7" stroke-width="0.53" textLength="51.9" lengthAdjust="spacingAndGlyphs">MeV</text><text x="125.5" y="-0" font-size="24.7" stroke-width="0.53" textLength="98.5" lengthAdjust="spacingAndGlyphs">Electron</text><text x="231.7" y="-0" font-size="24.7" stroke-width="0.53" textLength="49.9" lengthAdjust="spacingAndGlyphs">Flux</text></g>
<g transform="translate(146.1 745.1) rotate(-90)" fill="#000000" stroke="#000000"><text x="0" y="-0.3" font-size="24.7" stroke-width="0.53" textLength="9.4" lengthAdjust="spacingAndGlyphs">(</text><text x="17" y="-0.3" font-size="24.7" stroke-width="0.53" textLength="36.6" lengthAdjust="spacingAndGlyphs">cm</text><text x="53.8" y="-9.5" font-size="17.3" stroke-width="0.37" textLength="24.8" lengthAdjust="spacingAndGlyphs">−2</text><text x="83.1" y="-0.3" font-size="24.7" stroke-width="0.53" textLength="12.5" lengthAdjust="spacingAndGlyphs">s</text><text x="95.8" y="-9.5" font-size="17.3" stroke-width="0.37" textLength="24.8" lengthAdjust="spacingAndGlyphs">−1</text><text x="125.2" y="-0.3" font-size="24.7" stroke-width="0.53" textLength="22.4" lengthAdjust="spacingAndGlyphs">sr</text><text x="147.8" y="-9.5" font-size="17.3" stroke-width="0.37" textLength="24.8" lengthAdjust="spacingAndGlyphs">−1</text><text x="180.8" y="-0.3" font-size="24.7" stroke-width="0.53" textLength="9.4" lengthAdjust="spacingAndGlyphs">)</text></g>
<g transform="translate(160.4 831)" fill="#000000" stroke="#000000"><text x="0" y="-0.9" font-size="20" stroke-width="0.43" textLength="24.7" lengthAdjust="spacingAndGlyphs">10</text><text x="25" y="-8.1" font-size="14" stroke-width="0.30" textLength="8.7" lengthAdjust="spacingAndGlyphs">0</text></g>
<g transform="translate(160.8 773.6)" fill="#000000" stroke="#000000"><text x="0" y="-0" font-size="20" stroke-width="0.43" textLength="24.7" lengthAdjust="spacingAndGlyphs">10</text><text x="25" y="-7.3" font-size="14" stroke-width="0.30" textLength="8.7" lengthAdjust="spacingAndGlyphs">1</text></g>
<g transform="translate(160.9 716.3)" fill="#000000" stroke="#000000"><text x="0" y="-0.9" font-size="20" stroke-width="0.43" textLength="24.7" lengthAdjust="spacingAndGlyphs">10</text><text x="25" y="-8.1" font-size="14" stroke-width="0.30" textLength="8.7" lengthAdjust="spacingAndGlyphs">2</text></g>
<g transform="translate(160.6 659)" fill="#000000" stroke="#000000"><text x="0" y="-0.9" font-size="20" stroke-width="0.43" textLength="24.7" lengthAdjust="spacingAndGlyphs">10</text><text x="25" y="-8.1" font-size="14" stroke-width="0.30" textLength="8.7" lengthAdjust="spacingAndGlyphs">3</text></g>
<g transform="translate(160.3 601.6)" fill="#000000" stroke="#000000"><text x="0" y="-0" font-size="20" stroke-width="0.43" textLength="24.7" lengthAdjust="spacingAndGlyphs">10</text><text x="25" y="-7.3" font-size="14" stroke-width="0.30" textLength="8.7" lengthAdjust="spacingAndGlyphs">4</text></g>
<g transform="translate(160.6 544.3)" fill="#000000" stroke="#000000"><text x="0" y="-0" font-size="20" stroke-width="0.43" textLength="24.7" lengthAdjust="spacingAndGlyphs">10</text><text x="25" y="-7.3" font-size="14" stroke-width="0.30" textLength="8.7" lengthAdjust="spacingAndGlyphs">5</text></g>
<g transform="translate(160.3 487)" fill="#000000" stroke="#000000"><text x="0" y="-0.9" font-size="20" stroke-width="0.43" textLength="24.7" lengthAdjust="spacingAndGlyphs">10</text><text x="25" y="-8.1" font-size="14" stroke-width="0.30" textLength="8.7" lengthAdjust="spacingAndGlyphs">6</text></g>
<g transform="translate(468.3 1065.4)" fill="#000000" stroke="#000000"><text x="0" y="-0" font-size="24.7" stroke-width="0.53" textLength="49.7" lengthAdjust="spacingAndGlyphs">May</text><text x="57.3" y="-0" font-size="24.7" stroke-width="0.53" textLength="61.1" lengthAdjust="spacingAndGlyphs">2019</text><text x="126.1" y="-0" font-size="24.7" stroke-width="0.53" textLength="51" lengthAdjust="spacingAndGlyphs">(UT)</text></g>
<g transform="translate(235.3 1036.9)" fill="#000000" stroke="#000000"><text x="0" y="-0" font-size="20" stroke-width="0.43" textLength="24.7" lengthAdjust="spacingAndGlyphs">11</text></g>
<g transform="translate(324.6 1036.9)" fill="#000000" stroke="#000000"><text x="0" y="-0" font-size="20" stroke-width="0.43" textLength="24.7" lengthAdjust="spacingAndGlyphs">12</text></g>
<g transform="translate(413.8 1036.9)" fill="#000000" stroke="#000000"><text x="0" y="-0" font-size="20" stroke-width="0.43" textLength="24.7" lengthAdjust="spacingAndGlyphs">13</text></g>
<g transform="translate(503.1 1036.9)" fill="#000000" stroke="#000000"><text x="0" y="-0" font-size="20" stroke-width="0.43" textLength="24.7" lengthAdjust="spacingAndGlyphs">14</text></g>
<g transform="translate(592.3 1036.9)" fill="#000000" stroke="#000000"><text x="0" y="-0" font-size="20" stroke-width="0.43" textLength="24.7" lengthAdjust="spacingAndGlyphs">15</text></g>
<g transform="translate(681.6 1036.9)" fill="#000000" stroke="#000000"><text x="0" y="-0" font-size="20" stroke-width="0.43" textLength="24.7" lengthAdjust="spacingAndGlyphs">16</text></g>
<g transform="translate(770.8 1036.9)" fill="#000000" stroke="#000000"><text x="0" y="-0" font-size="20" stroke-width="0.43" textLength="24.7" lengthAdjust="spacingAndGlyphs">17</text></g>
<g transform="translate(860.1 1036.9)" fill="#000000" stroke="#000000"><text x="0" y="-0" font-size="20" stroke-width="0.43" textLength="24.7" lengthAdjust="spacingAndGlyphs">18</text></g>
<g transform="translate(173.1 946.5) rotate(-90)" fill="#000000" stroke="#000000"><text x="0" y="-0" font-size="24.7" stroke-width="0.53" textLength="31" lengthAdjust="spacingAndGlyphs">Kp</text></g>
<g transform="translate(182.9 1024.5)" fill="#000000" stroke="#000000"><text x="0" y="-0" font-size="20" stroke-width="0.43" textLength="12.4" lengthAdjust="spacingAndGlyphs">0</text></g>
<g transform="translate(182.8 986.3)" fill="#000000" stroke="#000000"><text x="0" y="-0" font-size="20" stroke-width="0.43" textLength="12.4" lengthAdjust="spacingAndGlyphs">2</text></g>
<g transform="translate(182.8 948.1)" fill="#000000" stroke="#000000"><text x="0" y="-0" font-size="20" stroke-width="0.43" textLength="12.4" lengthAdjust="spacingAndGlyphs">4</text></g>
<g transform="translate(182.8 909.8)" fill="#000000" stroke="#000000"><text x="0" y="-0" font-size="20" stroke-width="0.43" textLength="12.4" lengthAdjust="spacingAndGlyphs">6</text></g>
<g transform="translate(182.8 871.6)" fill="#000000" stroke="#000000"><text x="0" y="-0" font-size="20" stroke-width="0.43" textLength="12.4" lengthAdjust="spacingAndGlyphs">8</text></g>
<g transform="translate(251.4 868.5)" fill="#000000" stroke="#000000"><text x="0" y="-0" font-size="14.3" stroke-width="0.31" textLength="38.4" lengthAdjust="spacingAndGlyphs">Kp&lt;3</text></g>
<g transform="translate(251.4 889.4)" fill="#000000" stroke="#000000"><text x="0" y="-0" font-size="14.3" stroke-width="0.31" textLength="38.4" lengthAdjust="spacingAndGlyphs">Kp&lt;5</text></g>
<g transform="translate(251.4 910.4)" fill="#000000" stroke="#000000"><text x="0" y="-0" font-size="14.3" stroke-width="0.31" textLength="38.4" lengthAdjust="spacingAndGlyphs">Kp&gt;5</text></g>
<g transform="translate(986.7 463.9)" fill="#000000" stroke="#000000"><text x="0" y="-0.9" font-size="20" stroke-width="0.43" textLength="24.7" lengthAdjust="spacingAndGlyphs">10</text><text x="25" y="-8.1" font-size="14" stroke-width="0.30" textLength="8.7" lengthAdjust="spacingAndGlyphs">0</text></g>
<g transform="translate(986.7 406.4)" fill="#000000" stroke="#000000"><text x="0" y="-0" font-size="20" stroke-width="0.43" textLength="24.7" lengthAdjust="spacingAndGlyphs">10</text><text x="25" y="-7.3" font-size="14" stroke-width="0.30" textLength="8.7" lengthAdjust="spacingAndGlyphs">1</text></g>
<g transform="translate(986.7 348.9)" fill="#000000" stroke="#000000"><text x="0" y="-0.9" font-size="20" stroke-width="0.43" textLength="24.7" lengthAdjust="spacingAndGlyphs">10</text><text x="25" y="-8.1" font-size="14" stroke-width="0.30" textLength="8.7" lengthAdjust="spacingAndGlyphs">2</text></g>
<g transform="translate(986.7 291.4)" fill="#000000" stroke="#000000"><text x="0" y="-0.9" font-size="20" stroke-width="0.43" textLength="24.7" lengthAdjust="spacingAndGlyphs">10</text><text x="25" y="-8.1" font-size="14" stroke-width="0.30" textLength="8.7" lengthAdjust="spacingAndGlyphs">3</text></g>
<g transform="translate(986.7 233.9)" fill="#000000" stroke="#000000"><text x="0" y="-0" font-size="20" stroke-width="0.43" textLength="24.7" lengthAdjust="spacingAndGlyphs">10</text><text x="25" y="-7.3" font-size="14" stroke-width="0.30" textLength="8.7" lengthAdjust="spacingAndGlyphs">4</text></g>
<g transform="translate(986.7 176.4)" fill="#000000" stroke="#000000"><text x="0" y="-0" font-size="20" stroke-width="0.43" textLength="24.7" lengthAdjust="spacingAndGlyphs">10</text><text x="25" y="-7.3" font-size="14" stroke-width="0.30" textLength="8.7" lengthAdjust="spacingAndGlyphs">5</text></g>
<g transform="translate(986.7 118.9)" fill="#000000" stroke="#000000"><text x="0" y="-0.9" font-size="20" stroke-width="0.43" textLength="24.7" lengthAdjust="spacingAndGlyphs">10</text><text x="25" y="-8.1" font-size="14" stroke-width="0.30" textLength="8.7" lengthAdjust="spacingAndGlyphs">6</text></g>
<g transform="translate(1115.9 321.7) rotate(-90)" fill="#000000" stroke="#000000"><text x="0" y="-0" font-size="24.7" stroke-width="0.53" textLength="41.6" lengthAdjust="spacingAndGlyphs">IMF</text><text x="49.2" y="-0" font-size="24.7" stroke-width="0.53" textLength="29.1" lengthAdjust="spacingAndGlyphs">Bz</text></g>
<g transform="translate(1145.8 314.4) rotate(-90)" fill="#000000" stroke="#000000"><text x="0" y="-0" font-size="24.7" stroke-width="0.53" textLength="9.4" lengthAdjust="spacingAndGlyphs">(</text><text x="17" y="-0" font-size="24.7" stroke-width="0.53" textLength="29.9" lengthAdjust="spacingAndGlyphs">nT</text><text x="54.5" y="-0" font-size="24.7" stroke-width="0.53" textLength="9.4" lengthAdjust="spacingAndGlyphs">)</text></g>
<g transform="translate(1159.1 462.5)" fill="#000000" stroke="#000000"><text x="0" y="-0" font-size="20" stroke-width="0.43" textLength="41" lengthAdjust="spacingAndGlyphs">−20</text></g>
<g transform="translate(1158.9 419.4)" fill="#000000" stroke="#000000"><text x="0" y="-0" font-size="20" stroke-width="0.43" textLength="41" lengthAdjust="spacingAndGlyphs">−15</text></g>
<g transform="translate(1159.1 376.2)" fill="#000000" stroke="#000000"><text x="0" y="-0" font-size="20" stroke-width="0.43" textLength="41" lengthAdjust="spacingAndGlyphs">−10</text></g>
<g transform="translate(1171.3 333.1)" fill="#000000" stroke="#000000"><text x="0" y="-0" font-size="20" stroke-width="0.43" textLength="28.6" lengthAdjust="spacingAndGlyphs">−5</text></g>
<g transform="translate(1187.9 290)" fill="#000000" stroke="#000000"><text x="0" y="-0" font-size="20" stroke-width="0.43" textLength="12.4" lengthAdjust="spacingAndGlyphs">0</text></g>
<g transform="translate(1187.6 246.9)" fill="#000000" stroke="#000000"><text x="0" y="-0" font-size="20" stroke-width="0.43" textLength="12.4" lengthAdjust="spacingAndGlyphs">5</text></g>
<g transform="translate(1175.5 203.7)" fill="#000000" stroke="#000000"><text x="0" y="-0" font-size="20" stroke-width="0.43" textLength="24.7" lengthAdjust="spacingAndGlyphs">10</text></g>
<g transform="translate(1175.3 160.6)" fill="#000000" stroke="#000000"><text x="0" y="-0" font-size="20" stroke-width="0.43" textLength="24.7" lengthAdjust="spacingAndGlyphs">15</text></g>
<g transform="translate(1175.5 117.5)" fill="#000000" stroke="#000000"><text x="0" y="-0" font-size="20" stroke-width="0.43" textLength="24.7" lengthAdjust="spacingAndGlyphs">20</text></g>
<g transform="translate(1878.5 353) rotate(-90)" fill="#ff0000" stroke="#ff0000"><text x="0" y="-0" font-size="24.7" stroke-width="0.53" textLength="39" lengthAdjust="spacingAndGlyphs">SW</text><text x="46.6" y="-0" font-size="24.7" stroke-width="0.53" textLength="94.2" lengthAdjust="spacingAndGlyphs">Velocity</text></g>
<g transform="translate(1911.9 339.1) rotate(-90)" fill="#ff0000" stroke="#ff0000"><text x="0" y="-0.6" font-size="24.7" stroke-width="0.53" textLength="9.4" lengthAdjust="spacingAndGlyphs">(</text><text x="17" y="-0.6" font-size="24.7" stroke-width="0.53" textLength="37.3" lengthAdjust="spacingAndGlyphs">km</text><text x="58.2" y="-0.6" font-size="24.7" stroke-width="0.53" textLength="12.5" lengthAdjust="spacingAndGlyphs">s</text><text x="70.9" y="-9.8" font-size="17.3" stroke-width="0.37" textLength="24.8" lengthAdjust="spacingAndGlyphs">−1</text><text x="104" y="-0.6" font-size="24.7" stroke-width="0.53" textLength="9.4" lengthAdjust="spacingAndGlyphs">)</text></g>
<g transform="translate(1804.9 462.5)" fill="#ff0000" stroke="#ff0000"><text x="0" y="-0" font-size="20" stroke-width="0.43" textLength="12.4" lengthAdjust="spacingAndGlyphs">0</text></g>
<g transform="translate(1804.9 393.5)" fill="#ff0000" stroke="#ff0000"><text x="0" y="-0" font-size="20" stroke-width="0.43" textLength="37.1" lengthAdjust="spacingAndGlyphs">200</text></g>
<g transform="translate(1804.9 324.5)" fill="#ff0000" stroke="#ff0000"><text x="0" y="-0" font-size="20" stroke-width="0.43" textLength="37.1" lengthAdjust="spacingAndGlyphs">400</text></g>
<g transform="translate(1804.9 255.5)" fill="#ff0000" stroke="#ff0000"><text x="0" y="-0" font-size="20" stroke-width="0.43" textLength="37.1" lengthAdjust="spacingAndGlyphs">600</text></g>
<g transform="translate(1804.9 186.5)" fill="#ff0000" stroke="#ff0000"><text x="0" y="-0" font-size="20" stroke-width="0.43" textLength="37.1" lengthAdjust="spacingAndGlyphs">800</text></g>
<g transform="translate(1804.9 117.5)" fill="#ff0000" stroke="#ff0000"><text x="0" y="-0" font-size="20" stroke-width="0.43" textLength="49.4" lengthAdjust="spacingAndGlyphs">1000</text></g>
<g transform="translate(1104.8 670.2) rotate(-90)" fill="#000000" stroke="#000000"><text x="0" y="-0" font-size="24.7" stroke-width="0.53" textLength="40.4" lengthAdjust="spacingAndGlyphs">Dst</text></g>
<g transform="translate(1132.8 681.9) rotate(-90)" fill="#000000" stroke="#000000"><text x="0" y="-0" font-size="24.7" stroke-width="0.53" textLength="9.4" lengthAdjust="spacingAndGlyphs">(</text><text x="17" y="-0" font-size="24.7" stroke-width="0.53" textLength="29.9" lengthAdjust="spacingAndGlyphs">nT</text><text x="54.5" y="-0" font-size="24.7" stroke-width="0.53" textLength="9.4" lengthAdjust="spacingAndGlyphs">)</text></g>
<g transform="translate(1146.9 795.1)" fill="#000000" stroke="#000000"><text x="0" y="-0" font-size="20" stroke-width="0.43" textLength="53.4" lengthAdjust="spacingAndGlyphs">−400</text></g>
<g transform="translate(1146.9 726.3)" fill="#000000" stroke="#000000"><text x="0" y="-0" font-size="20" stroke-width="0.43" textLength="53.4" lengthAdjust="spacingAndGlyphs">−300</text></g>
<g transform="translate(1146.9 657.5)" fill="#000000" stroke="#000000"><text x="0" y="-0" font-size="20" stroke-width="0.43" textLength="53.4" lengthAdjust="spacingAndGlyphs">−200</text></g>
<g transform="translate(1146.9 588.7)" fill="#000000" stroke="#000000"><text x="0" y="-0" font-size="20" stroke-width="0.43" textLength="53.4" lengthAdjust="spacingAndGlyphs">−100</text></g>
<g transform="translate(1187.9 519.9)" fill="#000000" stroke="#000000"><text x="0" y="-0" font-size="20" stroke-width="0.43" textLength="12.4" lengthAdjust="spacingAndGlyphs">0</text></g>
<g transform="translate(1875.2 724.6) rotate(-90)" fill="#ff0000" stroke="#ff0000"><text x="0" y="-0" font-size="24.7" stroke-width="0.53" textLength="39" lengthAdjust="spacingAndGlyphs">SW</text><text x="46.6" y="-0" font-size="24.7" stroke-width="0.53" textLength="102.6" lengthAdjust="spacingAndGlyphs">Pressure</text></g>
<g transform="translate(1905 688.6) rotate(-90)" fill="#ff0000" stroke="#ff0000"><text x="0" y="-0" font-size="24.7" stroke-width="0.53" textLength="9.4" lengthAdjust="spacingAndGlyphs">(</text><text x="17" y="-0" font-size="24.7" stroke-width="0.53" textLength="43.3" lengthAdjust="spacingAndGlyphs">nPa</text><text x="68" y="-0" font-size="24.7" stroke-width="0.53" textLength="9.4" lengthAdjust="spacingAndGlyphs">)</text></g>
<g transform="translate(1804.9 831)" fill="#ff0000" stroke="#ff0000"><text x="0" y="-0.9" font-size="20" stroke-width="0.43" textLength="24.7" lengthAdjust="spacingAndGlyphs">10</text><text x="25" y="-8.1" font-size="14" stroke-width="0.30" textLength="20.1" lengthAdjust="spacingAndGlyphs">−2</text></g>
<g transform="translate(1804.9 745)" fill="#ff0000" stroke="#ff0000"><text x="0" y="-0" font-size="20" stroke-width="0.43" textLength="24.7" lengthAdjust="spacingAndGlyphs">10</text><text x="25" y="-7.3" font-size="14" stroke-width="0.30" textLength="20.1" lengthAdjust="spacingAndGlyphs">−1</text></g>
<g transform="translate(1804.9 659)" fill="#ff0000" stroke="#ff0000"><text x="0" y="-0.9" font-size="20" stroke-width="0.43" textLength="24.7" lengthAdjust="spacingAndGlyphs">10</text><text x="25" y="-8.1" font-size="14" stroke-width="0.30" textLength="8.7" lengthAdjust="spacingAndGlyphs">0</text></g>
<g transform="translate(1804.9 573)" fill="#ff0000" stroke="#ff0000"><text x="0" y="-0" font-size="20" stroke-width="0.43" textLength="24.7" lengthAdjust="spacingAndGlyphs">10</text><text x="25" y="-7.3" font-size="14" stroke-width="0.30" textLength="8.7" lengthAdjust="spacingAndGlyphs">1</text></g>
<g transform="translate(1804.9 487)" fill="#ff0000" stroke="#ff0000"><text x="0" y="-0.9" font-size="20" stroke-width="0.43" textLength="24.7" lengthAdjust="spacingAndGlyphs">10</text><text x="25" y="-8.1" font-size="14" stroke-width="0.30" textLength="8.7" lengthAdjust="spacingAndGlyphs">2</text></g>
<g transform="translate(1413.8 1065.4)" fill="#000000" stroke="#000000"><text x="0" y="-0" font-size="24.7" stroke-width="0.53" textLength="49.7" lengthAdjust="spacingAndGlyphs">May</text><text x="57.3" y="-0" font-size="24.7" stroke-width="0.53" textLength="61.1" lengthAdjust="spacingAndGlyphs">2019</text><text x="126.1" y="-0" font-size="24.7" stroke-width="0.53" textLength="51" lengthAdjust="spacingAndGlyphs">(UT)</text></g>
<g transform="translate(1232.4 1036.9)" fill="#000000" stroke="#000000"><text x="0" y="-0" font-size="20" stroke-width="0.43" textLength="24.7" lengthAdjust="spacingAndGlyphs">11</text></g>
<g transform="translate(1306.8 1036.9)" fill="#000000" stroke="#000000"><text x="0" y="-0" font-size="20" stroke-width="0.43" textLength="24.7" lengthAdjust="spacingAndGlyphs">12</text></g>
<g transform="translate(1381.1 1036.9)" fill="#000000" stroke="#000000"><text x="0" y="-0" font-size="20" stroke-width="0.43" textLength="24.7" lengthAdjust="spacingAndGlyphs">13</text></g>
<g transform="translate(1455.5 1036.9)" fill="#000000" stroke="#000000"><text x="0" y="-0" font-size="20" stroke-width="0.43" textLength="24.7" lengthAdjust="spacingAndGlyphs">14</text></g>
<g transform="translate(1529.8 1036.9)" fill="#000000" stroke="#000000"><text x="0" y="-0" font-size="20" stroke-width="0.43" textLength="24.7" lengthAdjust="spacingAndGlyphs">15</text></g>
<g transform="translate(1604.3 1036.9)" fill="#000000" stroke="#000000"><text x="0" y="-0" font-size="20" stroke-width="0.43" textLength="24.7" lengthAdjust="spacingAndGlyphs">16</text></g>
<g transform="translate(1678.6 1036.9)" fill="#000000" stroke="#000000"><text x="0" y="-0" font-size="20" stroke-width="0.43" textLength="24.7" lengthAdjust="spacingAndGlyphs">17</text></g>
<g transform="translate(1753 1036.9)" fill="#000000" stroke="#000000"><text x="0" y="-0" font-size="20" stroke-width="0.43" textLength="24.7" lengthAdjust="spacingAndGlyphs">18</text></g>
<g transform="translate(1105.8 1057.5) rotate(-90)" fill="#000000" stroke="#000000"><text x="0" y="-0" font-size="24.7" stroke-width="0.53" textLength="50.7" lengthAdjust="spacingAndGlyphs">&gt;10</text><text x="58.3" y="-0" font-size="24.7" stroke-width="0.53" textLength="51.9" lengthAdjust="spacingAndGlyphs">MeV</text><text x="117.9" y="-0" font-size="24.7" stroke-width="0.53" textLength="77.4" lengthAdjust="spacingAndGlyphs">Proton</text><text x="203" y="-0" font-size="24.7" stroke-width="0.53" textLength="49.9" lengthAdjust="spacingAndGlyphs">Flux</text></g>
<g transform="translate(1139 1019.1) rotate(-90)" fill="#000000" stroke="#000000"><text x="0" y="-0.3" font-size="24.7" stroke-width="0.53" textLength="9.4" lengthAdjust="spacingAndGlyphs">(</text><text x="17" y="-0.3" font-size="24.7" stroke-width="0.53" textLength="36.6" lengthAdjust="spacingAndGlyphs">cm</text><text x="53.8" y="-9.5" font-size="17.3" stroke-width="0.37" textLength="10.7" lengthAdjust="spacingAndGlyphs">2</text><text x="69" y="-0.3" font-size="24.7" stroke-width="0.53" textLength="12.5" lengthAdjust="spacingAndGlyphs">s</text><text x="81.8" y="-9.5" font-size="17.3" stroke-width="0.37" textLength="24.8" lengthAdjust="spacingAndGlyphs">−1</text><text x="111.1" y="-0.3" font-size="24.7" stroke-width="0.53" textLength="22.4" lengthAdjust="spacingAndGlyphs">sr</text><text x="133.7" y="-9.5" font-size="17.3" stroke-width="0.37" textLength="24.8" lengthAdjust="spacingAndGlyphs">−1</text><text x="166.7" y="-0.3" font-size="24.7" stroke-width="0.53" textLength="9.4" lengthAdjust="spacingAndGlyphs">)</text></g>
<g transform="translate(1154.3 1026)" fill="#000000" stroke="#000000"><text x="0" y="-0" font-size="20" stroke-width="0.43" textLength="24.7" lengthAdjust="spacingAndGlyphs">10</text><text x="25" y="-7.3" font-size="14" stroke-width="0.30" textLength="20.1" lengthAdjust="spacingAndGlyphs">−1</text></g>
<g transform="translate(1165.4 983)" fill="#000000" stroke="#000000"><text x="0" y="-0.9" font-size="20" stroke-width="0.43" textLength="24.7" lengthAdjust="spacingAndGlyphs">10</text><text x="25" y="-8.1" font-size="14" stroke-width="0.30" textLength="8.7" lengthAdjust="spacingAndGlyphs">0</text></g>
<g transform="translate(1165.8 940)" fill="#000000" stroke="#000000"><text x="0" y="-0" font-size="20" stroke-width="0.43" textLength="24.7" lengthAdjust="spacingAndGlyphs">10</text><text x="25" y="-7.3" font-size="14" stroke-width="0.30" textLength="8.7" lengthAdjust="spacingAndGlyphs">1</text></g>
<g transform="translate(1165.9 897)" fill="#000000" stroke="#000000"><text x="0" y="-0.9" font-size="20" stroke-width="0.43" textLength="24.7" lengthAdjust="spacingAndGlyphs">10</text><text x="25" y="-8.1" font-size="14" stroke-width="0.30" textLength="8.7" lengthAdjust="spacingAndGlyphs">2</text></g>
<g transform="translate(1165.6 854)" fill="#000000" stroke="#000000"><text x="0" y="-0.9" font-size="20" stroke-width="0.43" textLength="24.7" lengthAdjust="spacingAndGlyphs">10</text><text x="25" y="-8.1" font-size="14" stroke-width="0.30" textLength="8.7" lengthAdjust="spacingAndGlyphs">3</text></g>
<g transform="translate(561.2 40.6)" fill="#000000" stroke="#000000"><text x="0" y="-0" font-size="24.7" stroke-width="0.53" textLength="110.7" lengthAdjust="spacingAndGlyphs">BAS-RBM</text><text x="118.3" y="-0" font-size="24.7" stroke-width="0.53" textLength="130.6" lengthAdjust="spacingAndGlyphs">Relativistic</text><text x="256.5" y="-0" font-size="24.7" stroke-width="0.53" textLength="98.5" lengthAdjust="spacingAndGlyphs">Electron</text><text x="362.7" y="-0" font-size="24.7" stroke-width="0.53" textLength="109.3" lengthAdjust="spacingAndGlyphs">Forecast,</text><text x="479.6" y="-0" font-size="24.7" stroke-width="0.53" textLength="77" lengthAdjust="spacingAndGlyphs">issued</text><text x="564.2" y="-0" font-size="24.7" stroke-width="0.53" textLength="24.1" lengthAdjust="spacingAndGlyphs">at</text><text x="596" y="-0" font-size="24.7" stroke-width="0.53" textLength="69.2" lengthAdjust="spacingAndGlyphs">23:10</text><text x="672.8" y="-0" font-size="24.7" stroke-width="0.53" textLength="39.9" lengthAdjust="spacingAndGlyphs">UT,</text><text x="720.4" y="-0" font-size="24.7" stroke-width="0.53" textLength="30.6" lengthAdjust="spacingAndGlyphs">17</text><text x="758.6" y="-0" font-size="24.7" stroke-width="0.53" textLength="49.7" lengthAdjust="spacingAndGlyphs">May</text><text x="815.9" y="-0" font-size="24.7" stroke-width="0.53" textLength="61.1" lengthAdjust="spacingAndGlyphs">2019</text></g>
<g transform="translate(203.4 92.9)" fill="#000000" stroke="#000000"><text x="0" y="-0.3" font-size="24.7" stroke-width="0.53" textLength="58.3" lengthAdjust="spacingAndGlyphs">&gt;2.0</text><text x="65.9" y="-0.3" font-size="24.7" stroke-width="0.53" textLength="51.9" lengthAdjust="spacingAndGlyphs">MeV</text><text x="125.4" y="-0.3" font-size="24.7" stroke-width="0.53" textLength="98.5" lengthAdjust="spacingAndGlyphs">Electron</text><text x="232" y="-0.3" font-size="24.7" stroke-width="0.53" textLength="49.9" lengthAdjust="spacingAndGlyphs">Flux</text><text x="289.5" y="-0.3" font-size="24.7" stroke-width="0.53" textLength="24.1" lengthAdjust="spacingAndGlyphs">at</text><text x="321.3" y="-0.3" font-size="24.7" stroke-width="0.53" textLength="30.6" lengthAdjust="spacingAndGlyphs">88</text><text x="356.8" y="-4.5" font-size="18" stroke-width="0.4">°</text><text x="377.4" y="-0.3" font-size="24.7" stroke-width="0.53" textLength="59.8" lengthAdjust="spacingAndGlyphs">pitch</text><text x="444.7" y="-0.3" font-size="24.7" stroke-width="0.53" textLength="66.6" lengthAdjust="spacingAndGlyphs">angle</text><text x="519" y="-0.3" font-size="24.7" stroke-width="0.53" textLength="9.4" lengthAdjust="spacingAndGlyphs">(</text><text x="536" y="-0.3" font-size="24.7" stroke-width="0.53" textLength="36.6" lengthAdjust="spacingAndGlyphs">cm</text><text x="572.8" y="-9.5" font-size="17.3" stroke-width="0.37" textLength="24.8" lengthAdjust="spacingAndGlyphs">−2</text><text x="602.1" y="-0.3" font-size="24.7" stroke-width="0.53" textLength="12.5" lengthAdjust="spacingAndGlyphs">s</text><text x="614.8" y="-9.5" font-size="17.3" stroke-width="0.37" textLength="24.8" lengthAdjust="spacingAndGlyphs">−1</text><text x="644.1" y="-0.3" font-size="24.7" stroke-width="0.53" textLength="22.4" lengthAdjust="spacingAndGlyphs">sr</text><text x="666.7" y="-9.5" font-size="17.3" stroke-width="0.37" textLength="24.8" lengthAdjust="spacingAndGlyphs">−1</text><text x="699.8" y="-0.3" font-size="24.7" stroke-width="0.53" textLength="9.4" lengthAdjust="spacingAndGlyphs">)</text></g>
<g transform="translate(224.1 138.6)" fill="#000000" stroke="#000000"><text x="0" y="-0" font-size="12.2" stroke-width="0.26" textLength="10.2" lengthAdjust="spacingAndGlyphs">M</text></g>
<g transform="translate(268.5 138.6)" fill="#ff0000" stroke="#ff0000"><text x="0" y="-0" font-size="12.2" stroke-width="0.26" textLength="8.8" lengthAdjust="spacingAndGlyphs">N</text></g>
<g transform="translate(313.4 138.6)" fill="#000000" stroke="#000000"><text x="0" y="-0" font-size="12.2" stroke-width="0.26" textLength="10.2" lengthAdjust="spacingAndGlyphs">M</text></g>
<g transform="translate(357.8 138.6)" fill="#ff0000" stroke="#ff0000"><text x="0" y="-0" font-size="12.2" stroke-width="0.26" textLength="8.8" lengthAdjust="spacingAndGlyphs">N</text></g>
<g transform="translate(402.6 138.6)" fill="#000000" stroke="#000000"><text x="0" y="-0" font-size="12.2" stroke-width="0.26" textLength="10.2" lengthAdjust="spacingAndGlyphs">M</text></g>
<g transform="translate(447 138.6)" fill="#ff0000" stroke="#ff0000"><text x="0" y="-0" font-size="12.2" stroke-width="0.26" textLength="8.8" lengthAdjust="spacingAndGlyphs">N</text></g>
<g transform="translate(491.9 138.6)" fill="#000000" stroke="#000000"><text x="0" y="-0" font-size="12.2" stroke-width="0.26" textLength="10.2" lengthAdjust="spacingAndGlyphs">M</text></g>
<g transform="translate(536.3 138.6)" fill="#ff0000" stroke="#ff0000"><text x="0" y="-0" font-size="12.2" stroke-width="0.26" textLength="8.8" lengthAdjust="spacingAndGlyphs">N</text></g>
<g transform="translate(581.1 138.6)" fill="#000000" stroke="#000000"><text x="0" y="-0" font-size="12.2" stroke-width="0.26" textLength="10.2" lengthAdjust="spacingAndGlyphs">M</text></g>
<g transform="translate(625.5 138.6)" fill="#ff0000" stroke="#ff0000"><text x="0" y="-0" font-size="12.2" stroke-width="0.26" textLength="8.8" lengthAdjust="spacingAndGlyphs">N</text></g>
<g transform="translate(670.4 138.6)" fill="#000000" stroke="#000000"><text x="0" y="-0" font-size="12.2" stroke-width="0.26" textLength="10.2" lengthAdjust="spacingAndGlyphs">M</text></g>
<g transform="translate(714.8 138.6)" fill="#ff0000" stroke="#ff0000"><text x="0" y="-0" font-size="12.2" stroke-width="0.26" textLength="8.8" lengthAdjust="spacingAndGlyphs">N</text></g>
<g transform="translate(759.6 138.6)" fill="#000000" stroke="#000000"><text x="0" y="-0" font-size="12.2" stroke-width="0.26" textLength="10.2" lengthAdjust="spacingAndGlyphs">M</text></g>
<g transform="translate(804 138.6)" fill="#ff0000" stroke="#ff0000"><text x="0" y="-0" font-size="12.2" stroke-width="0.26" textLength="8.8" lengthAdjust="spacingAndGlyphs">N</text></g>
<g transform="translate(889 421.9) rotate(-90)" fill="#808080" stroke="#808080" opacity="0.25"><text x="0" y="-0" font-size="65.1" stroke-width="1.39" textLength="267.4" lengthAdjust="spacingAndGlyphs">Forecast</text></g>
<g transform="translate(889 790.9) rotate(-90)" fill="#808080" stroke="#808080" opacity="0.25"><text x="0" y="-0" font-size="65.1" stroke-width="1.39" textLength="267.4" lengthAdjust="spacingAndGlyphs">Forecast</text></g>
<g transform="translate(875 1001) rotate(-90)" fill="#808080" stroke="#808080" opacity="0.25"><text x="0" y="-0" font-size="31.9" stroke-width="0.68" textLength="131" lengthAdjust="spacingAndGlyphs">Forecast</text></g>
</svg>
</div>
</body></html>
